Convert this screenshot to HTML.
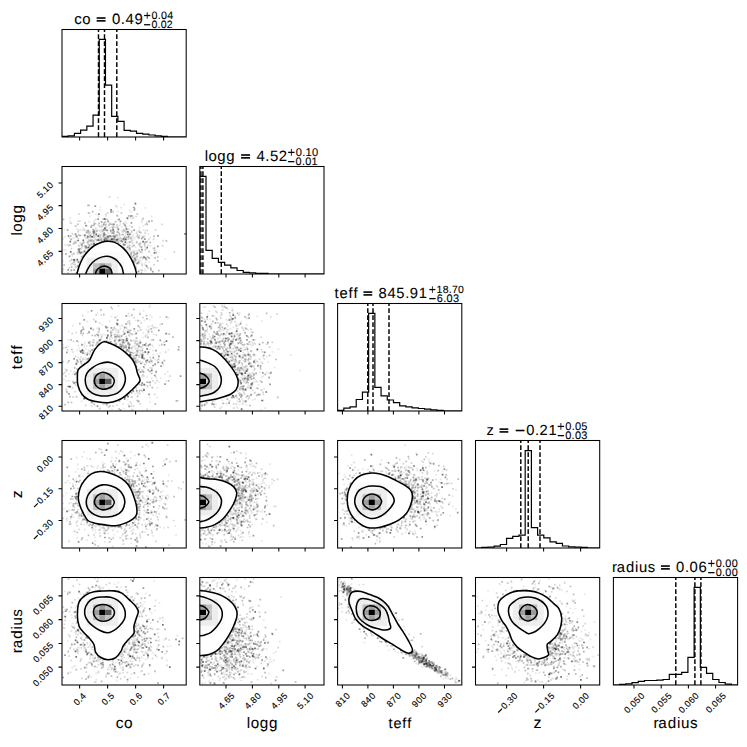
<!DOCTYPE html><html><head><meta charset="utf-8"><style>html,body{margin:0;padding:0;background:#fff}svg{display:block}text{font-family:"Liberation Sans",sans-serif;text-rendering:geometricPrecision}</style></head><body>
<svg width="747" height="747" viewBox="0 0 747 747">
<rect width="747" height="747" fill="#fff"/>
<path stroke="#000" stroke-opacity="0.1" stroke-width="1.7" stroke-linecap="square" d="M125.2 222.1h0M125.1 230.6h0M79.2 250.3h0M88.8 239.3h0M119.9 225.1h0M92.0 241.5h0M102.1 224.5h0M110.6 231.6h0M120.2 224.2h0M98.5 238.5h0M126.3 229.6h0M145.5 207.8h0M83.1 228.0h0M107.6 240.5h0M99.8 230.4h0M143.7 235.9h0M133.4 251.7h0M110.9 239.0h0M81.0 253.0h0M126.2 233.8h0M80.7 249.0h0M104.4 234.4h0M121.4 230.5h0M142.2 249.2h0M97.7 230.1h0M137.5 251.1h0M104.3 240.7h0M81.5 230.3h0M98.8 216.6h0M108.4 232.8h0M114.7 238.2h0M90.8 227.2h0M110.3 228.2h0M109.5 227.5h0M102.6 231.3h0M137.8 238.0h0M150.2 237.7h0M77.0 260.8h0M118.3 238.1h0M101.2 238.8h0M113.6 231.3h0M63.0 261.1h0M103.5 236.8h0M80.1 235.4h0M118.5 237.4h0M118.2 230.3h0M108.3 233.4h0M105.6 241.1h0M100.2 207.0h0M73.5 237.8h0M115.2 227.2h0M125.4 235.9h0M116.9 231.8h0M94.2 220.9h0M128.7 251.7h0M124.6 224.7h0M117.8 243.5h0M101.1 238.9h0M83.9 254.0h0M139.5 236.4h0M84.7 247.8h0M64.6 236.9h0M77.9 252.0h0M89.1 221.7h0M127.3 243.0h0M106.2 237.7h0M127.3 233.9h0M151.7 216.4h0M119.0 233.9h0M96.0 214.4h0M113.3 231.8h0M103.8 223.4h0M102.6 235.3h0M109.7 238.8h0M96.7 243.3h0M117.2 236.7h0M91.2 248.4h0M131.4 230.3h0M130.0 238.5h0M126.9 250.3h0M93.4 244.9h0M135.8 258.6h0M111.7 233.3h0M136.3 251.1h0M125.6 233.5h0M87.8 237.1h0M101.6 242.0h0M102.2 233.9h0M101.3 240.9h0M128.5 234.2h0M64.6 244.7h0M80.6 259.0h0M129.6 245.2h0M106.1 216.2h0M94.3 233.1h0M114.0 239.7h0M152.8 248.6h0M89.8 216.2h0M119.0 245.0h0M127.9 245.2h0M98.8 236.8h0M118.0 197.5h0M111.9 227.3h0M85.1 223.1h0M165.2 259.0h0M124.1 204.6h0M86.2 233.2h0M70.0 221.0h0M122.4 241.3h0M103.4 240.4h0M149.6 252.2h0M110.7 237.3h0M137.9 264.2h0M134.7 238.7h0M141.7 246.1h0M146.9 222.3h0M128.1 237.8h0M104.3 241.4h0M73.3 234.6h0M118.2 216.0h0M94.2 237.2h0M137.1 231.8h0M77.5 224.6h0M117.4 228.1h0M116.2 227.6h0M96.0 242.2h0M74.6 262.7h0M129.1 229.0h0M144.5 264.1h0M115.6 239.5h0M100.5 232.5h0M77.8 221.1h0M138.2 263.2h0M124.8 240.7h0M93.9 243.1h0M151.0 270.2h0M72.3 256.0h0M140.0 269.7h0M129.5 225.8h0M134.0 259.9h0M115.2 221.7h0M66.1 249.9h0M77.5 252.0h0M128.9 233.5h0M132.5 239.0h0M113.4 223.9h0M115.1 236.6h0M145.3 271.0h0M144.8 235.9h0M68.9 244.4h0M99.9 236.4h0M123.7 246.0h0M123.2 232.5h0M133.0 240.9h0M123.5 229.8h0M139.2 271.0h0M149.1 262.0h0M69.6 217.8h0M92.3 244.3h0M115.5 205.3h0M79.0 263.0h0M105.3 238.9h0M107.4 236.1h0M99.2 225.9h0M156.5 252.3h0M132.1 246.3h0M75.7 237.0h0M145.3 231.0h0M98.3 225.1h0M88.0 244.9h0M67.3 245.4h0M68.7 236.6h0M99.5 237.4h0M129.8 244.7h0M144.7 269.3h0M77.1 237.2h0M86.1 249.6h0M145.2 249.9h0M123.4 245.3h0M91.5 226.3h0M96.0 237.8h0M98.5 234.1h0M139.8 260.4h0M136.9 255.2h0M85.1 230.7h0M126.1 233.0h0M140.7 243.0h0M96.9 239.8h0M136.4 236.8h0M148.4 233.8h0M77.2 229.2h0M90.7 241.8h0M132.3 236.4h0M84.6 246.1h0M73.0 243.9h0M77.6 254.1h0M151.5 255.4h0M102.8 229.9h0M141.7 222.5h0M112.2 240.2h0M64.1 249.9h0M129.7 210.3h0M119.7 236.7h0M82.4 235.3h0M140.7 261.4h0M110.9 230.1h0M66.5 245.2h0M131.7 218.6h0M121.0 207.7h0M114.7 241.7h0M83.8 242.2h0M126.4 243.5h0M90.4 240.3h0M88.7 232.6h0M139.8 227.6h0M143.8 229.8h0M85.9 238.7h0M95.9 236.3h0M91.1 241.3h0M131.4 254.6h0M73.7 262.5h0M119.8 237.8h0M105.6 239.9h0M63.0 239.1h0M100.9 226.5h0M121.0 239.2h0M127.5 231.9h0M87.3 251.4h0M89.2 241.2h0M106.4 238.4h0M99.2 237.8h0M100.2 230.8h0M79.2 261.5h0M80.3 229.4h0M110.6 236.7h0M148.6 258.1h0M135.6 247.1h0M111.6 240.0h0M64.0 273.1h0M143.0 226.0h0M88.6 231.4h0M71.7 238.9h0M79.6 248.3h0M71.6 223.5h0M150.5 245.9h0M100.4 209.8h0M101.6 227.0h0M98.7 235.3h0M106.2 223.5h0M123.1 243.8h0M64.3 229.4h0M135.9 254.0h0M106.5 230.7h0M98.6 238.4h0M127.9 250.0h0M133.5 236.6h0M88.2 232.0h0M142.9 241.9h0M121.8 226.9h0M90.3 212.8h0M133.2 234.6h0M126.3 227.7h0M106.9 237.5h0M89.1 236.9h0M113.0 236.5h0M69.8 238.2h0M131.5 251.6h0M117.9 211.3h0M96.3 232.5h0M126.6 251.1h0M154.6 250.1h0M98.4 224.8h0M94.0 230.4h0M141.2 246.9h0M118.5 228.7h0M99.0 240.5h0M103.3 233.6h0M126.6 223.3h0M132.7 251.2h0M63.1 270.8h0M131.1 212.0h0M130.6 252.0h0M127.8 219.6h0M68.9 244.9h0M77.4 253.7h0M74.7 265.2h0M125.9 239.3h0M99.1 235.8h0M71.0 264.9h0M139.9 234.8h0M145.7 262.2h0M136.6 241.6h0M83.6 255.6h0M90.0 242.3h0M84.9 249.3h0"/>
<path stroke="#000" stroke-opacity="0.17" stroke-width="1.7" stroke-linecap="square" d="M132.3 243.1h0M126.0 226.8h0M93.8 237.1h0M112.3 236.6h0M71.0 271.0h0M115.3 240.8h0M135.0 262.3h0M153.6 239.4h0M95.8 219.5h0M138.1 237.0h0M125.3 250.1h0M132.0 231.7h0M104.1 223.0h0M144.8 245.2h0M130.4 242.0h0M89.7 245.8h0M86.7 225.8h0M85.0 222.9h0M142.0 252.4h0M127.8 229.6h0M84.5 246.1h0M134.1 251.4h0M146.6 223.5h0M154.2 264.8h0M88.4 240.5h0M136.5 263.5h0M90.2 237.6h0M106.5 227.2h0M117.5 226.3h0M85.9 246.5h0M145.1 246.7h0M91.3 233.6h0M125.1 244.8h0M78.4 238.5h0M69.3 267.7h0M95.6 223.6h0M74.6 259.4h0M80.0 252.8h0M131.8 259.3h0M77.7 260.5h0M118.8 240.4h0M79.5 251.8h0M143.7 256.6h0M116.9 224.8h0M107.7 212.9h0M148.7 251.5h0M78.5 267.7h0M128.2 247.2h0M121.0 238.2h0M136.2 216.5h0M148.0 268.2h0M79.8 221.2h0M136.0 266.7h0M138.8 261.1h0M163.1 240.7h0M79.4 252.8h0M174.4 251.8h0M133.5 217.9h0M120.0 243.6h0M95.2 239.4h0M141.9 220.5h0M78.7 261.9h0M103.5 225.3h0M145.1 233.2h0M113.2 240.3h0M75.2 267.3h0M98.3 239.4h0M130.4 217.1h0M93.3 244.0h0M74.3 261.6h0M140.0 246.3h0M104.3 228.9h0M138.7 244.4h0M141.6 257.1h0M134.5 255.2h0M78.6 230.5h0M107.4 230.6h0M148.8 239.7h0M134.2 257.6h0M70.4 245.1h0M88.4 236.6h0M145.3 224.6h0M101.6 230.3h0M125.7 231.8h0M79.1 264.9h0M71.4 248.7h0M103.7 230.4h0M113.1 236.1h0M107.1 238.5h0M145.9 258.1h0M128.8 247.8h0M115.8 221.9h0M119.1 239.2h0M139.3 244.7h0M85.2 246.3h0M101.5 238.2h0M143.8 237.5h0M88.9 240.7h0M105.9 214.3h0M117.0 238.6h0M108.3 236.1h0M117.5 227.4h0M104.5 241.0h0M111.0 239.6h0M103.0 219.1h0M129.5 246.0h0M78.9 213.8h0M142.5 258.7h0M145.5 249.4h0M118.9 232.5h0M129.5 235.2h0M84.0 242.8h0M156.4 252.8h0M105.9 229.9h0M67.9 272.9h0M93.7 231.9h0M137.6 259.0h0M148.0 245.5h0M72.2 233.5h0M145.1 242.2h0M128.5 239.1h0M106.9 230.3h0M136.2 257.2h0M76.4 241.3h0M69.0 245.7h0M131.1 255.7h0M119.0 241.2h0M131.3 238.8h0M72.6 263.1h0M138.8 230.5h0M75.8 235.5h0M75.9 267.0h0M78.5 245.4h0M131.4 240.8h0M75.3 264.5h0M107.2 236.7h0M124.0 238.0h0M126.5 240.0h0M137.0 242.1h0M99.5 234.8h0M139.3 263.2h0M70.6 222.9h0M128.4 236.8h0M101.8 241.1h0M132.7 246.3h0M93.5 237.4h0M118.3 244.2h0M119.7 241.5h0M112.1 231.1h0M78.8 250.7h0M80.3 243.0h0M86.8 230.7h0M118.3 241.6h0M88.7 233.7h0M78.3 252.3h0M119.3 233.3h0M147.2 230.3h0M76.1 267.1h0M126.2 231.6h0M124.7 239.7h0M116.7 206.7h0M134.2 258.6h0M82.8 256.9h0M70.2 260.8h0M142.2 265.7h0M79.1 245.8h0M128.7 237.2h0M108.2 240.4h0M113.9 239.0h0M112.9 211.0h0M121.2 240.8h0M117.6 220.0h0M111.9 231.1h0M106.1 239.3h0M121.5 234.7h0M78.1 224.2h0M88.3 231.8h0M155.5 229.9h0M101.1 221.8h0M117.7 226.2h0M146.6 259.8h0M81.7 247.8h0M88.2 249.6h0M109.6 223.0h0M108.1 239.2h0M110.0 236.1h0M104.7 235.5h0M98.7 214.3h0M100.6 235.1h0M84.7 236.9h0M82.5 252.3h0M154.8 250.4h0M99.6 226.5h0M90.1 232.1h0M128.4 234.5h0M98.0 239.8h0M136.6 242.8h0M109.5 196.9h0M113.2 212.4h0M136.5 233.3h0M110.1 235.6h0M92.3 240.0h0M93.8 234.0h0M113.1 232.7h0M119.5 235.1h0M104.2 234.6h0M102.8 231.3h0M89.8 234.7h0M129.0 254.7h0M101.8 226.4h0M84.0 229.6h0M72.1 254.4h0M74.5 241.5h0M147.1 241.6h0M92.0 236.6h0M63.3 268.7h0M162.6 245.9h0M83.3 255.7h0M78.0 231.9h0M129.9 255.6h0M104.1 222.8h0M141.9 264.0h0M124.0 231.1h0M114.9 242.1h0M131.4 232.2h0M100.4 236.8h0M111.0 231.5h0M73.1 264.0h0M161.8 224.4h0M122.6 231.4h0M124.3 229.7h0M113.7 226.7h0M95.9 228.4h0M93.9 240.3h0M140.2 257.8h0M86.9 247.5h0M72.0 263.5h0"/>
<path stroke="#000" stroke-opacity="0.27" stroke-width="1.7" stroke-linecap="square" d="M107.2 230.2h0M157.8 257.0h0M116.0 235.2h0M141.5 247.3h0M74.2 243.3h0M142.6 236.8h0M107.0 239.9h0M130.9 237.5h0M78.6 235.0h0M114.0 231.2h0M112.8 227.7h0M99.1 223.4h0M132.1 227.0h0M87.4 242.1h0M130.1 248.1h0M106.6 239.2h0M155.1 257.8h0M84.7 251.3h0M88.0 242.9h0M101.6 239.8h0M154.0 236.4h0M141.5 273.1h0M124.7 244.3h0M140.4 251.9h0M130.0 249.7h0M87.5 247.7h0M132.3 257.0h0M147.3 224.5h0M134.0 245.4h0M92.0 247.0h0M139.6 232.2h0M121.4 213.0h0M134.1 253.1h0M140.8 232.5h0M125.1 239.7h0M157.6 260.9h0M73.9 253.6h0M109.1 225.1h0M112.6 239.2h0M158.8 270.7h0M74.6 260.7h0M166.4 240.8h0M129.7 248.3h0M150.7 268.2h0M78.3 262.2h0M100.4 239.5h0M144.6 243.7h0M137.1 263.5h0M104.8 229.9h0M139.2 250.2h0M151.0 269.7h0M64.1 265.1h0M94.3 223.3h0M133.7 255.4h0M71.0 239.5h0M114.0 233.0h0M82.6 243.4h0M91.1 226.9h0M103.6 236.7h0M117.9 239.7h0M123.1 234.6h0M93.0 229.7h0M107.2 219.5h0M132.6 216.0h0M109.1 236.0h0M103.8 224.5h0M83.3 241.0h0M112.3 233.1h0M147.8 257.0h0M76.4 272.8h0M145.9 259.2h0M71.7 267.2h0M71.8 259.7h0M79.2 250.2h0M115.3 241.6h0M113.8 235.4h0M105.4 219.3h0M139.1 237.6h0M149.3 258.0h0M85.9 246.2h0M132.7 256.6h0M81.6 256.7h0M110.4 235.9h0M63.5 219.4h0M115.1 239.3h0M87.4 237.9h0M104.9 241.2h0M126.6 237.3h0M128.8 215.8h0M96.4 235.1h0M117.7 239.7h0M142.0 270.3h0M125.5 249.6h0M110.9 236.5h0M137.6 235.3h0M116.8 241.5h0M124.6 237.2h0M105.6 234.7h0M146.3 242.2h0M128.3 232.1h0M94.2 224.5h0M89.1 205.4h0M127.3 247.4h0M92.1 225.5h0M143.0 218.6h0M80.0 249.0h0M123.2 239.3h0M123.6 223.7h0M96.8 231.2h0M88.0 205.4h0M94.0 243.9h0M79.2 249.8h0M105.7 224.8h0M128.7 236.5h0M117.1 215.6h0M135.8 254.0h0M99.6 240.3h0M112.4 224.6h0M110.4 240.2h0M93.8 235.4h0M101.8 222.0h0M89.4 244.9h0M131.5 252.8h0M103.7 241.6h0M134.8 208.5h0M91.3 240.2h0M94.6 231.9h0M71.4 269.8h0M140.1 243.6h0M117.0 235.2h0M110.6 230.5h0M88.6 213.2h0M145.5 257.6h0M117.6 232.1h0M129.8 248.9h0M110.7 224.2h0M114.1 239.0h0M92.8 211.7h0M121.2 240.6h0M85.9 252.7h0M105.3 222.0h0M129.4 242.2h0M150.2 242.6h0M90.6 240.9h0M137.3 256.3h0M151.9 220.9h0M154.4 248.2h0M88.3 230.3h0M97.2 240.2h0M91.4 244.4h0M93.3 241.3h0M115.5 236.7h0M82.2 245.6h0M70.8 236.0h0M130.9 253.8h0M86.8 232.3h0M107.1 240.8h0M75.6 226.1h0M93.8 225.5h0M112.8 241.1h0M80.1 235.5h0M137.3 214.0h0M103.9 229.6h0M136.2 268.5h0M85.5 235.5h0M113.8 238.0h0M75.6 242.8h0"/>
<path stroke="#000" stroke-opacity="0.4" stroke-width="1.7" stroke-linecap="square" d="M127.6 234.5h0M137.9 262.5h0M105.4 237.8h0M94.4 230.5h0M131.4 222.9h0M123.7 248.1h0M104.2 233.1h0M83.3 240.2h0M141.9 249.9h0M86.1 247.7h0M85.9 225.6h0M118.0 243.4h0M134.3 210.0h0M137.3 253.4h0M120.4 221.3h0M141.8 238.5h0M103.9 235.0h0M108.5 237.3h0M104.3 239.2h0M98.1 219.1h0M114.5 236.7h0M138.4 271.6h0M133.4 261.7h0M79.5 251.9h0M108.2 221.4h0M125.8 239.1h0M90.5 235.8h0M137.4 253.1h0M93.2 231.9h0M95.3 206.1h0M133.7 207.5h0M119.2 219.3h0M69.5 256.4h0M84.2 251.5h0M122.4 241.7h0M107.2 241.1h0M135.7 260.4h0M93.9 233.0h0M107.7 236.7h0M146.8 266.5h0M130.1 234.2h0M127.7 231.9h0M68.5 235.8h0M131.0 215.8h0M81.5 252.3h0M133.9 261.3h0M74.0 270.0h0M76.7 236.4h0M133.8 261.3h0M149.1 221.3h0M125.1 225.4h0M96.2 234.2h0M98.4 240.2h0M144.8 239.1h0M126.5 228.8h0M77.7 266.1h0M123.7 244.6h0M87.7 236.3h0M111.1 211.8h0M146.3 265.5h0M84.6 235.1h0M113.9 224.3h0M80.4 253.3h0M81.5 244.6h0M152.7 271.7h0M157.8 246.4h0M98.9 214.2h0M68.2 269.9h0M123.4 238.9h0M118.4 229.3h0M75.5 234.1h0M158.0 235.8h0M134.2 230.2h0M78.5 249.2h0M67.6 230.0h0M65.9 254.0h0M94.2 243.7h0M134.9 258.7h0"/>
<path stroke="#000" stroke-opacity="0.55" stroke-width="1.7" stroke-linecap="square" d="M135.4 203.7h0M104.6 240.4h0M144.0 257.3h0M125.4 242.2h0M111.9 239.2h0M70.3 241.6h0M77.2 259.5h0M116.9 239.9h0M78.2 240.5h0M147.2 247.7h0M154.5 252.9h0M113.1 229.7h0M73.9 259.8h0M111.1 209.9h0M127.4 218.1h0M104.5 218.9h0M70.7 251.8h0M92.1 236.8h0M88.7 247.4h0M105.0 228.1h0M98.2 236.2h0M185.1 233.9h0M143.1 241.6h0"/>
<path fill="#fff" d="M76.88 274C77.26 272.69 78.19 268.77 79.14 266.16C80.1 263.55 81.17 260.79 82.62 258.33C84.07 255.86 85.81 253.54 87.84 251.37C89.88 249.19 92.49 246.81 94.81 245.27C97.13 243.74 99.59 242.81 101.77 242.14C103.94 241.47 105.83 241.27 107.86 241.27C109.89 241.27 111.77 241.33 113.95 242.14C116.12 242.95 118.73 244.46 120.91 246.14C123.09 247.83 125.26 250.06 127 252.24C128.74 254.41 130.05 256.73 131.35 259.2C132.66 261.66 133.96 264.56 134.83 267.03C135.7 269.5 136.28 272.84 136.57 274Z"/>
<clipPath id="c10"><path d="M76.88 274C77.26 272.69 78.19 268.77 79.14 266.16C80.1 263.55 81.17 260.79 82.62 258.33C84.07 255.86 85.81 253.54 87.84 251.37C89.88 249.19 92.49 246.81 94.81 245.27C97.13 243.74 99.59 242.81 101.77 242.14C103.94 241.47 105.83 241.27 107.86 241.27C109.89 241.27 111.77 241.33 113.95 242.14C116.12 242.95 118.73 244.46 120.91 246.14C123.09 247.83 125.26 250.06 127 252.24C128.74 254.41 130.05 256.73 131.35 259.2C132.66 261.66 133.96 264.56 134.83 267.03C135.7 269.5 136.28 272.84 136.57 274Z"/></clipPath>
<g clip-path="url(#c10)"><rect x="80.63" y="252.5" width="6.26" height="5.42" fill="rgb(251,251,251)"/><rect x="80.63" y="257.88" width="6.26" height="5.42" fill="rgb(251,251,251)"/><rect x="80.63" y="263.25" width="6.26" height="5.42" fill="rgb(251,251,251)"/><rect x="80.63" y="268.62" width="6.26" height="5.42" fill="rgb(251,251,251)"/><rect x="86.84" y="252.5" width="6.26" height="5.42" fill="rgb(251,251,251)"/><rect x="86.84" y="257.88" width="6.26" height="5.42" fill="rgb(237,237,237)"/><rect x="86.84" y="263.25" width="6.26" height="5.42" fill="rgb(237,237,237)"/><rect x="86.84" y="268.62" width="6.26" height="5.42" fill="rgb(237,237,237)"/><rect x="93.05" y="252.5" width="6.26" height="5.42" fill="rgb(251,251,251)"/><rect x="93.05" y="257.88" width="6.26" height="5.42" fill="rgb(237,237,237)"/><rect x="93.05" y="263.25" width="6.26" height="5.42" fill="rgb(191,191,191)"/><rect x="93.05" y="268.62" width="6.26" height="5.42" fill="rgb(158,158,158)"/><rect x="99.26" y="252.5" width="6.26" height="5.42" fill="rgb(251,251,251)"/><rect x="99.26" y="257.88" width="6.26" height="5.42" fill="rgb(237,237,237)"/><rect x="99.26" y="263.25" width="6.26" height="5.42" fill="rgb(158,158,158)"/><rect x="99.26" y="268.62" width="6.26" height="5.42" fill="rgb(0,0,0)"/><rect x="105.47" y="252.5" width="6.26" height="5.42" fill="rgb(251,251,251)"/><rect x="105.47" y="257.88" width="6.26" height="5.42" fill="rgb(237,237,237)"/><rect x="105.47" y="263.25" width="6.26" height="5.42" fill="rgb(191,191,191)"/><rect x="105.47" y="268.62" width="6.26" height="5.42" fill="rgb(102,102,102)"/><rect x="111.68" y="252.5" width="6.26" height="5.42" fill="rgb(251,251,251)"/><rect x="111.68" y="257.88" width="6.26" height="5.42" fill="rgb(237,237,237)"/><rect x="111.68" y="263.25" width="6.26" height="5.42" fill="rgb(237,237,237)"/><rect x="111.68" y="268.62" width="6.26" height="5.42" fill="rgb(237,237,237)"/><rect x="117.89" y="252.5" width="6.26" height="5.42" fill="rgb(251,251,251)"/><rect x="117.89" y="257.88" width="6.26" height="5.42" fill="rgb(251,251,251)"/><rect x="117.89" y="263.25" width="6.26" height="5.42" fill="rgb(251,251,251)"/><rect x="117.89" y="268.62" width="6.26" height="5.42" fill="rgb(251,251,251)"/></g>
<path fill="none" stroke="#000" stroke-width="1.55" d="M76.88 274C77.26 272.69 78.19 268.77 79.14 266.16C80.1 263.55 81.17 260.79 82.62 258.33C84.07 255.86 85.81 253.54 87.84 251.37C89.88 249.19 92.49 246.81 94.81 245.27C97.13 243.74 99.59 242.81 101.77 242.14C103.94 241.47 105.83 241.27 107.86 241.27C109.89 241.27 111.77 241.33 113.95 242.14C116.12 242.95 118.73 244.46 120.91 246.14C123.09 247.83 125.26 250.06 127 252.24C128.74 254.41 130.05 256.73 131.35 259.2C132.66 261.66 133.96 264.56 134.83 267.03C135.7 269.5 136.28 272.84 136.57 274"/>
<path fill="none" stroke="#000" stroke-width="1.55" d="M85.58 274C85.96 273.13 86.74 270.66 87.84 268.77C88.95 266.88 90.46 264.42 92.2 262.68C93.94 260.94 95.97 259.4 98.29 258.33C100.61 257.25 103.8 256.38 106.12 256.24C108.44 256.09 110.32 256.67 112.21 257.46C114.09 258.24 115.83 259.34 117.43 260.94C119.02 262.53 120.77 264.85 121.78 267.03C122.8 269.21 123.23 272.84 123.52 274"/>
<path fill="none" stroke="#000" stroke-width="1.55" d="M95.33 274C95.45 273.65 96.08 271.17 96.55 270.51C97.02 269.85 99.33 267.81 100.03 267.38C100.72 266.94 102.72 266.19 103.51 266.16C104.29 266.12 107.11 266.68 107.86 267.03C108.61 267.38 110.56 268.94 110.99 269.64C111.43 270.34 112.09 273.56 112.21 274"/>
<path stroke="#000" stroke-opacity="0.1" stroke-width="1.7" stroke-linecap="square" d="M142.6 369.9h0M74.4 371.5h0M119.0 346.5h0M124.3 345.0h0M68.8 380.8h0M104.7 403.0h0M141.7 329.9h0M116.6 345.3h0M137.0 392.0h0M109.6 343.3h0M143.1 369.9h0M89.3 331.7h0M105.2 341.6h0M125.2 351.7h0M136.0 358.1h0M143.6 310.6h0M126.0 339.4h0M122.5 335.0h0M107.8 335.1h0M112.7 402.7h0M132.9 340.5h0M68.9 331.5h0M146.6 363.5h0M160.7 378.1h0M118.8 339.9h0M134.6 331.1h0M114.5 402.4h0M149.5 397.6h0M150.0 402.0h0M138.2 392.0h0M157.0 397.3h0M151.5 362.4h0M130.0 330.9h0M97.1 328.4h0M126.5 352.3h0M76.7 376.9h0M153.1 354.5h0M147.3 348.4h0M163.7 365.2h0M137.0 338.9h0M137.6 393.5h0M119.6 401.7h0M143.8 358.8h0M127.2 332.9h0M143.0 348.5h0M122.2 342.8h0M99.1 341.3h0M93.9 341.8h0M131.5 403.0h0M66.4 380.9h0M130.0 325.4h0M77.1 396.8h0M116.2 343.5h0M160.2 316.9h0M122.2 335.3h0M139.7 355.3h0M159.3 382.1h0M107.2 339.3h0M140.6 363.1h0M120.1 338.1h0M132.7 349.5h0M148.9 362.2h0M142.3 347.3h0M73.1 382.6h0M128.5 404.5h0M88.4 342.4h0M84.3 346.9h0M84.9 342.7h0M97.6 313.4h0M140.6 371.6h0M78.3 357.4h0M141.4 357.5h0M144.7 368.4h0M89.6 342.2h0M153.9 354.5h0M112.4 338.3h0M135.2 394.0h0M94.1 342.7h0M116.3 329.1h0M149.8 320.0h0M99.3 339.8h0M142.2 348.0h0M155.8 372.8h0M112.6 332.5h0M121.3 336.3h0M82.3 395.4h0M125.5 351.9h0M153.1 346.5h0M73.3 373.7h0M77.2 350.4h0M129.3 394.2h0M117.2 316.0h0M80.2 367.4h0M88.4 350.4h0M80.8 357.3h0M135.1 345.5h0M93.2 345.9h0M143.0 337.5h0M116.6 336.7h0M99.2 340.1h0M82.0 345.3h0M136.1 338.5h0M143.7 354.6h0M68.9 373.9h0M88.7 358.0h0M131.2 348.2h0M131.2 404.0h0M116.2 344.2h0M140.1 346.7h0M136.4 359.5h0M149.9 305.3h0M140.3 312.3h0M118.3 347.4h0M167.6 371.9h0M131.2 340.4h0M77.3 379.8h0M150.3 360.9h0M131.2 397.4h0M139.6 320.9h0M65.4 369.1h0M134.0 357.3h0M157.4 354.5h0M82.6 326.9h0M88.0 312.0h0M146.6 329.9h0M123.8 408.5h0M168.5 350.0h0M87.2 352.9h0M148.0 326.6h0M101.2 342.9h0M68.3 339.8h0M142.9 391.7h0M134.6 347.2h0M99.1 333.4h0M134.9 343.6h0M123.5 350.0h0M111.9 409.5h0M119.8 346.1h0M119.6 347.0h0M94.9 404.8h0M139.7 340.2h0M102.2 334.8h0M76.6 383.0h0M84.7 359.7h0M135.8 364.6h0M115.8 330.2h0M140.5 363.3h0M120.4 328.9h0M140.3 352.7h0M114.8 328.1h0M127.2 323.6h0M155.1 365.5h0M142.3 349.6h0M124.8 333.5h0M99.0 337.1h0M135.7 320.5h0M95.9 321.6h0M150.2 367.6h0M78.4 342.1h0M133.8 341.3h0M99.0 329.4h0M127.7 399.9h0M123.7 347.8h0M160.2 353.0h0M63.1 345.0h0M137.5 360.4h0M153.4 339.7h0M159.2 345.4h0M81.7 361.3h0M131.4 409.3h0M90.4 351.6h0M76.9 364.3h0M165.0 374.1h0M127.0 330.7h0M68.2 346.7h0M109.5 321.2h0M149.1 329.5h0M128.2 329.8h0M142.6 363.0h0M152.0 362.4h0M138.8 355.2h0M125.8 326.9h0M85.1 357.3h0M136.6 337.7h0M86.8 345.9h0M95.2 348.9h0M156.5 378.0h0M148.9 344.9h0M111.4 316.5h0M137.4 360.3h0M168.2 318.2h0M117.9 341.8h0M102.8 334.3h0M147.4 334.7h0M150.3 315.2h0M120.0 326.3h0M138.8 362.2h0M80.8 351.1h0M143.3 332.8h0M87.2 355.2h0M142.5 361.8h0M138.3 361.6h0M123.9 329.9h0M133.0 346.4h0M139.7 327.9h0M78.3 345.8h0M144.2 320.5h0M119.5 339.6h0M80.8 356.7h0M127.2 349.6h0M84.5 362.4h0M140.4 368.0h0M87.2 321.7h0M137.1 366.3h0M93.1 345.0h0M99.1 327.7h0M155.4 359.3h0M151.8 378.1h0M100.2 334.8h0M146.1 360.1h0M134.3 340.4h0M81.5 401.3h0M77.6 369.7h0M134.7 341.7h0M120.4 345.9h0M129.7 344.6h0M96.8 346.5h0M79.1 348.5h0M85.6 349.0h0M80.5 363.0h0M152.3 345.3h0M116.8 325.0h0M149.5 307.1h0M138.2 344.0h0M128.2 351.4h0M95.7 345.4h0M140.7 377.9h0M105.1 334.7h0M150.2 349.5h0M153.0 350.7h0M146.9 377.1h0M101.8 337.3h0M100.1 407.9h0M89.3 358.2h0M166.4 381.2h0M137.6 362.5h0M121.5 342.2h0M83.9 351.2h0M124.2 333.2h0M72.8 325.6h0M142.5 357.8h0M102.4 324.6h0M157.2 360.9h0M116.3 332.3h0M157.0 327.6h0M139.4 375.8h0M122.6 346.3h0M141.5 370.0h0M138.0 349.5h0M129.4 316.2h0M154.0 334.4h0M135.5 352.6h0M77.2 383.7h0M140.1 341.4h0M90.8 341.5h0M128.0 340.5h0M107.0 341.0h0M151.7 317.2h0M141.7 383.0h0M142.3 355.5h0M115.7 344.1h0M157.4 387.9h0M70.7 370.8h0M123.1 404.2h0M132.7 355.7h0M63.8 379.3h0M150.3 326.5h0M84.4 344.7h0M111.1 330.5h0M139.2 392.0h0M147.4 387.0h0"/>
<path stroke="#000" stroke-opacity="0.17" stroke-width="1.7" stroke-linecap="square" d="M140.1 403.8h0M155.1 327.5h0M120.8 348.0h0M134.1 355.9h0M129.0 355.4h0M134.1 317.6h0M76.0 385.4h0M76.1 363.4h0M137.8 330.9h0M65.7 376.1h0M96.2 315.2h0M134.0 358.8h0M115.1 339.4h0M119.4 401.1h0M131.0 355.6h0M147.4 353.0h0M87.2 361.2h0M126.1 336.5h0M101.8 336.5h0M121.6 347.3h0M93.8 319.7h0M118.5 340.3h0M153.3 327.9h0M132.5 410.1h0M135.9 340.9h0M73.6 341.3h0M108.2 334.9h0M136.0 355.2h0M118.3 330.4h0M126.5 347.2h0M137.5 341.6h0M86.5 359.1h0M141.3 322.9h0M146.0 346.2h0M148.5 332.5h0M76.1 332.5h0M129.5 335.9h0M89.8 359.4h0M87.6 333.3h0M63.5 348.1h0M140.2 350.4h0M75.5 356.7h0M97.4 341.6h0M138.9 357.2h0M128.8 334.8h0M143.7 388.8h0M145.0 352.0h0M151.7 368.2h0M143.0 352.9h0M144.0 372.2h0M63.4 361.7h0M150.7 359.6h0M107.0 405.3h0M131.3 348.3h0M94.8 401.7h0M72.5 387.8h0M153.0 380.8h0M145.4 385.0h0M142.6 354.9h0M99.5 323.0h0M66.8 352.5h0M176.2 400.9h0M121.6 339.7h0M93.4 339.8h0M133.5 360.3h0M108.6 407.2h0M82.5 335.3h0M148.5 370.5h0M160.3 324.5h0M143.4 357.5h0M90.2 343.0h0M118.5 305.9h0M128.6 313.5h0M133.6 353.2h0M131.9 347.6h0M164.7 342.5h0M139.3 356.2h0M76.9 368.9h0M150.2 344.8h0M79.7 359.3h0M90.4 352.0h0M81.6 351.9h0M125.0 340.2h0M130.7 340.0h0M123.3 331.5h0M72.6 381.5h0M133.5 406.1h0M114.1 328.4h0M111.2 336.6h0M111.4 334.0h0M93.1 402.8h0M132.7 357.8h0M136.2 388.1h0M129.6 344.1h0M130.7 352.2h0M119.4 335.4h0M109.9 339.4h0M154.7 394.3h0M83.6 329.0h0M147.6 353.9h0M73.1 397.1h0M85.7 405.3h0M134.0 359.0h0M150.2 385.2h0M118.2 332.5h0M89.3 332.9h0M93.9 340.2h0M126.5 328.1h0M76.7 382.2h0M130.2 402.0h0M118.5 335.8h0M99.6 408.8h0M156.4 334.9h0M148.5 346.2h0M101.2 315.0h0M137.8 360.4h0M107.6 331.0h0M122.4 325.6h0M127.8 321.6h0M148.0 353.8h0M83.0 358.7h0M77.0 359.8h0M91.6 406.0h0M164.2 342.4h0M129.4 320.9h0M99.3 328.9h0M137.0 345.3h0M115.8 339.2h0M124.5 346.7h0M80.4 359.3h0M141.2 354.2h0M111.5 335.5h0M145.8 335.7h0M65.0 372.3h0M140.0 361.5h0M115.0 343.0h0M150.2 357.3h0M130.9 330.1h0M139.6 393.7h0M125.0 333.2h0M148.6 382.3h0M131.2 341.2h0M165.6 333.6h0M98.4 332.2h0M83.9 353.0h0M110.5 336.9h0M81.4 364.0h0M66.3 389.4h0M90.1 351.0h0M99.3 330.6h0M118.6 332.0h0M81.4 362.7h0M84.9 353.7h0M63.6 373.8h0M140.3 330.2h0M170.0 376.2h0M142.5 375.8h0M67.7 362.6h0M83.2 351.6h0M135.5 334.2h0M67.6 349.8h0M157.8 362.8h0M82.6 315.7h0M103.7 404.4h0M136.6 338.2h0M87.8 358.9h0M135.6 357.6h0M121.0 340.1h0M141.0 346.9h0M112.4 308.8h0M89.3 341.8h0M137.9 350.6h0M72.7 352.0h0M131.2 406.2h0M144.0 376.0h0M113.2 406.2h0M117.0 405.0h0M96.6 344.9h0M145.6 336.9h0M135.3 343.0h0M165.6 352.1h0M162.6 363.5h0M94.0 401.3h0M143.0 317.6h0M72.3 333.5h0M152.5 325.6h0M155.3 383.0h0M87.9 353.3h0M141.9 385.5h0M135.9 348.7h0M138.2 347.6h0M83.1 327.7h0M132.1 396.8h0M89.7 354.1h0M96.5 344.9h0M137.3 353.7h0M139.1 369.6h0M104.1 340.9h0M155.6 376.4h0M94.1 404.4h0M130.5 352.4h0M139.0 343.8h0M98.1 341.7h0M84.2 398.6h0M114.2 327.7h0M147.2 409.3h0M92.9 342.5h0M120.7 347.3h0M147.6 385.8h0M129.5 330.6h0M76.1 396.6h0M151.4 340.0h0M96.4 344.4h0M83.0 359.4h0M139.3 327.0h0M157.0 380.7h0M135.2 359.3h0M75.0 391.7h0M142.9 374.8h0M115.4 336.3h0M136.8 362.7h0"/>
<path stroke="#000" stroke-opacity="0.27" stroke-width="1.7" stroke-linecap="square" d="M106.8 403.7h0M142.9 345.1h0M103.7 314.7h0M106.3 404.3h0M73.8 382.3h0M129.7 344.6h0M169.2 334.1h0M100.9 309.8h0M139.8 314.2h0M79.8 323.6h0M144.7 364.5h0M71.8 349.5h0M115.3 317.5h0M133.8 358.7h0M132.0 352.7h0M128.9 351.1h0M121.5 336.1h0M147.9 337.4h0M89.0 331.9h0M66.7 370.3h0M137.3 400.6h0M142.1 354.8h0M137.0 355.1h0M123.1 345.7h0M82.0 330.1h0M111.2 335.3h0M95.7 321.6h0M98.6 344.0h0M80.7 361.4h0M145.9 361.2h0M133.3 391.5h0M146.3 362.0h0M77.2 360.7h0M78.0 361.5h0M99.6 340.1h0M129.3 347.9h0M150.1 344.1h0M168.7 380.8h0M146.5 315.6h0M164.4 360.6h0M148.4 345.2h0M132.4 334.4h0M119.1 346.8h0M151.8 331.6h0M80.2 350.8h0M117.2 335.0h0M95.1 335.7h0M69.8 387.0h0M77.4 362.3h0M158.5 362.2h0M97.3 342.9h0M146.9 318.9h0M138.2 325.8h0M130.6 333.5h0M67.3 392.4h0M139.4 384.5h0M88.8 343.2h0M81.0 333.3h0M178.8 346.9h0M96.9 334.5h0M137.9 320.6h0M68.9 360.9h0M126.4 351.1h0M151.7 373.5h0M84.7 363.9h0M155.3 404.2h0M161.7 344.7h0M126.1 347.3h0M139.7 390.6h0M112.8 330.0h0M93.2 329.6h0M76.3 372.5h0M119.0 409.0h0M128.9 346.1h0M126.0 345.7h0M83.2 333.3h0M153.2 340.0h0M135.8 366.1h0M135.9 362.1h0M142.5 371.4h0M126.1 347.9h0M116.2 344.2h0M117.1 337.0h0M145.9 343.5h0M71.5 402.5h0M122.0 344.9h0M143.0 371.8h0M68.3 402.3h0M108.9 341.8h0M131.5 392.9h0M133.8 309.4h0M107.5 327.3h0M144.4 344.8h0M136.9 344.0h0M151.1 328.9h0M114.7 334.6h0M147.2 382.2h0M74.7 367.8h0M136.8 350.8h0M148.5 331.4h0M110.0 406.0h0M116.1 336.9h0M83.3 329.5h0M65.0 404.6h0M123.4 348.5h0M66.1 347.5h0M135.5 360.9h0M142.3 350.7h0M83.9 398.6h0M126.4 341.3h0M92.3 335.5h0M66.7 391.5h0M92.4 345.3h0M129.2 332.5h0M137.5 351.8h0M111.3 307.4h0M125.4 347.1h0M114.8 337.0h0M94.4 349.0h0M131.8 315.1h0M158.4 359.3h0M71.2 339.8h0M100.8 339.3h0M129.5 355.2h0M144.2 358.7h0M162.2 323.8h0M151.7 361.1h0M124.4 347.7h0M88.1 358.8h0M124.4 342.7h0M90.2 345.3h0M107.8 330.6h0M152.3 387.7h0M66.8 352.4h0M119.0 336.9h0M138.0 370.1h0M141.7 390.5h0M172.9 337.2h0M148.0 369.6h0M75.6 382.5h0M69.9 396.6h0M129.6 323.3h0M137.6 396.3h0M177.4 400.9h0M149.6 361.9h0M114.5 345.3h0"/>
<path stroke="#000" stroke-opacity="0.4" stroke-width="1.7" stroke-linecap="square" d="M97.5 406.1h0M136.3 333.4h0M153.1 365.5h0M144.9 344.9h0M155.1 364.2h0M126.3 315.8h0M158.8 330.4h0M107.6 336.5h0M116.8 323.3h0M156.0 350.7h0M129.9 355.1h0M106.3 327.6h0M114.7 401.2h0M92.2 349.9h0M162.4 362.6h0M141.5 385.0h0M82.0 344.6h0M161.1 366.2h0M136.2 355.5h0M107.7 335.6h0M142.3 358.1h0M91.6 402.3h0M84.3 319.9h0M154.7 375.5h0M180.6 376.1h0M128.1 343.8h0M129.1 347.6h0M77.0 341.0h0M81.0 331.4h0M75.8 373.8h0M140.4 372.0h0M150.1 382.4h0M120.6 410.0h0M142.3 383.1h0M110.9 342.0h0M74.3 383.5h0M123.3 340.9h0M164.5 344.8h0M150.0 371.5h0M123.2 339.8h0M82.4 349.8h0M123.0 342.6h0M136.7 390.6h0M124.3 334.1h0M80.9 352.1h0M149.1 394.4h0M128.4 342.9h0M127.3 349.9h0M138.9 346.2h0M166.4 333.7h0M128.9 348.3h0M143.7 366.9h0M165.1 384.1h0M160.3 340.4h0M84.6 398.3h0M141.0 363.5h0M130.4 352.9h0M138.6 401.4h0M91.6 310.8h0M120.3 344.4h0M129.1 406.3h0M74.1 358.8h0M69.0 393.8h0M110.8 332.3h0M114.8 340.9h0M74.8 374.3h0M133.2 390.6h0M153.3 357.6h0M142.6 355.6h0M100.0 340.4h0M82.8 353.2h0M166.5 317.0h0M105.7 326.7h0M117.5 320.2h0M178.5 349.7h0M126.0 324.0h0M124.6 399.2h0M87.2 354.7h0M134.3 328.8h0M106.2 341.4h0M111.4 327.9h0M124.6 327.7h0M98.0 335.3h0M76.2 364.1h0M158.9 356.4h0M156.1 371.6h0"/>
<path stroke="#000" stroke-opacity="0.55" stroke-width="1.7" stroke-linecap="square" d="M121.3 346.6h0M147.1 349.0h0M124.9 397.7h0M127.8 332.1h0M127.3 395.7h0M68.3 386.5h0M128.1 396.6h0M144.0 390.2h0M119.5 340.4h0M70.0 386.7h0M144.1 384.6h0M140.4 342.7h0M126.8 338.7h0M127.1 340.5h0M166.5 341.2h0M91.0 328.3h0M147.4 360.3h0M145.3 352.0h0M148.5 352.2h0M82.3 350.5h0M134.4 362.3h0M151.8 370.4h0M106.9 337.9h0M130.4 354.9h0M142.1 356.8h0M117.6 324.4h0"/>
<path fill="#fff" d="M102.64 342.12C105.25 341.1 107.71 342.55 110.47 343.51C113.22 344.46 116.56 346.26 119.17 347.86C121.78 349.45 123.96 351.19 126.13 353.08C128.31 354.96 130.63 356.99 132.22 359.17C133.82 361.35 134.83 363.81 135.7 366.13C136.57 368.45 136.72 370.71 137.44 373.09C138.17 375.47 140.2 378.37 140.05 380.4C139.91 382.43 138.02 383.59 136.57 385.27C135.12 386.96 133.38 388.61 131.35 390.5C129.32 392.38 126.71 394.9 124.39 396.59C122.07 398.27 120.19 399.57 117.43 400.59C114.67 401.6 111.19 402.47 107.86 402.68C104.52 402.88 100.75 402.39 97.42 401.81C94.08 401.23 90.46 400.5 87.84 399.2C85.23 397.89 83.41 396.3 81.75 393.98C80.1 391.66 78.65 388.17 77.93 385.27C77.2 382.37 77.34 379.18 77.4 376.57C77.46 373.96 77.11 371.64 78.27 369.61C79.43 367.58 82.48 365.99 84.36 364.39C86.25 362.8 87.84 362.51 89.59 360.04C91.33 357.57 92.63 352.59 94.81 349.6C96.98 346.61 100.03 343.13 102.64 342.12Z"/>
<clipPath id="c20"><path d="M102.64 342.12C105.25 341.1 107.71 342.55 110.47 343.51C113.22 344.46 116.56 346.26 119.17 347.86C121.78 349.45 123.96 351.19 126.13 353.08C128.31 354.96 130.63 356.99 132.22 359.17C133.82 361.35 134.83 363.81 135.7 366.13C136.57 368.45 136.72 370.71 137.44 373.09C138.17 375.47 140.2 378.37 140.05 380.4C139.91 382.43 138.02 383.59 136.57 385.27C135.12 386.96 133.38 388.61 131.35 390.5C129.32 392.38 126.71 394.9 124.39 396.59C122.07 398.27 120.19 399.57 117.43 400.59C114.67 401.6 111.19 402.47 107.86 402.68C104.52 402.88 100.75 402.39 97.42 401.81C94.08 401.23 90.46 400.5 87.84 399.2C85.23 397.89 83.41 396.3 81.75 393.98C80.1 391.66 78.65 388.17 77.93 385.27C77.2 382.37 77.34 379.18 77.4 376.57C77.46 373.96 77.11 371.64 78.27 369.61C79.43 367.58 82.48 365.99 84.36 364.39C86.25 362.8 87.84 362.51 89.59 360.04C91.33 357.57 92.63 352.59 94.81 349.6C96.98 346.61 100.03 343.13 102.64 342.12Z"/></clipPath>
<g clip-path="url(#c20)"><rect x="80.63" y="362.62" width="6.26" height="5.42" fill="rgb(251,251,251)"/><rect x="80.63" y="368" width="6.26" height="5.42" fill="rgb(251,251,251)"/><rect x="80.63" y="373.38" width="6.26" height="5.42" fill="rgb(251,251,251)"/><rect x="80.63" y="378.75" width="6.26" height="5.42" fill="rgb(251,251,251)"/><rect x="80.63" y="384.12" width="6.26" height="5.42" fill="rgb(251,251,251)"/><rect x="80.63" y="389.5" width="6.26" height="5.42" fill="rgb(251,251,251)"/><rect x="80.63" y="394.88" width="6.26" height="5.42" fill="rgb(251,251,251)"/><rect x="86.84" y="362.62" width="6.26" height="5.42" fill="rgb(251,251,251)"/><rect x="86.84" y="368" width="6.26" height="5.42" fill="rgb(237,237,237)"/><rect x="86.84" y="373.38" width="6.26" height="5.42" fill="rgb(237,237,237)"/><rect x="86.84" y="378.75" width="6.26" height="5.42" fill="rgb(237,237,237)"/><rect x="86.84" y="384.12" width="6.26" height="5.42" fill="rgb(237,237,237)"/><rect x="86.84" y="389.5" width="6.26" height="5.42" fill="rgb(237,237,237)"/><rect x="86.84" y="394.88" width="6.26" height="5.42" fill="rgb(251,251,251)"/><rect x="93.05" y="362.62" width="6.26" height="5.42" fill="rgb(251,251,251)"/><rect x="93.05" y="368" width="6.26" height="5.42" fill="rgb(237,237,237)"/><rect x="93.05" y="373.38" width="6.26" height="5.42" fill="rgb(191,191,191)"/><rect x="93.05" y="378.75" width="6.26" height="5.42" fill="rgb(158,158,158)"/><rect x="93.05" y="384.12" width="6.26" height="5.42" fill="rgb(191,191,191)"/><rect x="93.05" y="389.5" width="6.26" height="5.42" fill="rgb(237,237,237)"/><rect x="93.05" y="394.88" width="6.26" height="5.42" fill="rgb(251,251,251)"/><rect x="99.26" y="362.62" width="6.26" height="5.42" fill="rgb(251,251,251)"/><rect x="99.26" y="368" width="6.26" height="5.42" fill="rgb(237,237,237)"/><rect x="99.26" y="373.38" width="6.26" height="5.42" fill="rgb(158,158,158)"/><rect x="99.26" y="378.75" width="6.26" height="5.42" fill="rgb(0,0,0)"/><rect x="99.26" y="384.12" width="6.26" height="5.42" fill="rgb(158,158,158)"/><rect x="99.26" y="389.5" width="6.26" height="5.42" fill="rgb(237,237,237)"/><rect x="99.26" y="394.88" width="6.26" height="5.42" fill="rgb(251,251,251)"/><rect x="105.47" y="362.62" width="6.26" height="5.42" fill="rgb(251,251,251)"/><rect x="105.47" y="368" width="6.26" height="5.42" fill="rgb(237,237,237)"/><rect x="105.47" y="373.38" width="6.26" height="5.42" fill="rgb(191,191,191)"/><rect x="105.47" y="378.75" width="6.26" height="5.42" fill="rgb(89,89,89)"/><rect x="105.47" y="384.12" width="6.26" height="5.42" fill="rgb(191,191,191)"/><rect x="105.47" y="389.5" width="6.26" height="5.42" fill="rgb(237,237,237)"/><rect x="105.47" y="394.88" width="6.26" height="5.42" fill="rgb(251,251,251)"/><rect x="111.68" y="362.62" width="6.26" height="5.42" fill="rgb(251,251,251)"/><rect x="111.68" y="368" width="6.26" height="5.42" fill="rgb(237,237,237)"/><rect x="111.68" y="373.38" width="6.26" height="5.42" fill="rgb(237,237,237)"/><rect x="111.68" y="378.75" width="6.26" height="5.42" fill="rgb(237,237,237)"/><rect x="111.68" y="384.12" width="6.26" height="5.42" fill="rgb(237,237,237)"/><rect x="111.68" y="389.5" width="6.26" height="5.42" fill="rgb(237,237,237)"/><rect x="111.68" y="394.88" width="6.26" height="5.42" fill="rgb(251,251,251)"/><rect x="117.89" y="362.62" width="6.26" height="5.42" fill="rgb(251,251,251)"/><rect x="117.89" y="368" width="6.26" height="5.42" fill="rgb(251,251,251)"/><rect x="117.89" y="373.38" width="6.26" height="5.42" fill="rgb(251,251,251)"/><rect x="117.89" y="378.75" width="6.26" height="5.42" fill="rgb(251,251,251)"/><rect x="117.89" y="384.12" width="6.26" height="5.42" fill="rgb(251,251,251)"/><rect x="117.89" y="389.5" width="6.26" height="5.42" fill="rgb(251,251,251)"/><rect x="117.89" y="394.88" width="6.26" height="5.42" fill="rgb(251,251,251)"/></g>
<path fill="none" stroke="#000" stroke-width="1.55" d="M102.64 342.12C105.25 341.1 107.71 342.55 110.47 343.51C113.22 344.46 116.56 346.26 119.17 347.86C121.78 349.45 123.96 351.19 126.13 353.08C128.31 354.96 130.63 356.99 132.22 359.17C133.82 361.35 134.83 363.81 135.7 366.13C136.57 368.45 136.72 370.71 137.44 373.09C138.17 375.47 140.2 378.37 140.05 380.4C139.91 382.43 138.02 383.59 136.57 385.27C135.12 386.96 133.38 388.61 131.35 390.5C129.32 392.38 126.71 394.9 124.39 396.59C122.07 398.27 120.19 399.57 117.43 400.59C114.67 401.6 111.19 402.47 107.86 402.68C104.52 402.88 100.75 402.39 97.42 401.81C94.08 401.23 90.46 400.5 87.84 399.2C85.23 397.89 83.41 396.3 81.75 393.98C80.1 391.66 78.65 388.17 77.93 385.27C77.2 382.37 77.34 379.18 77.4 376.57C77.46 373.96 77.11 371.64 78.27 369.61C79.43 367.58 82.48 365.99 84.36 364.39C86.25 362.8 87.84 362.51 89.59 360.04C91.33 357.57 92.63 352.59 94.81 349.6C96.98 346.61 100.03 343.13 102.64 342.12Z"/>
<path fill="none" stroke="#000" stroke-width="1.55" d="M107.86 362.13C110.61 362.22 113.37 363.29 115.69 364.39C118.01 365.49 120.27 367 121.78 368.74C123.29 370.48 124.16 372.8 124.74 374.83C125.32 376.86 125.61 378.75 125.26 380.92C124.91 383.1 123.96 385.85 122.65 387.88C121.35 389.92 119.75 391.8 117.43 393.11C115.11 394.41 111.63 395.28 108.73 395.72C105.83 396.15 102.78 396.15 100.03 395.72C97.27 395.28 94.37 394.41 92.2 393.11C90.02 391.8 88.13 390.06 86.97 387.88C85.81 385.71 85.23 382.52 85.23 380.05C85.23 377.59 85.81 375.12 86.97 373.09C88.13 371.06 90.17 369.41 92.2 367.87C94.23 366.33 96.55 364.83 99.16 363.87C101.77 362.91 105.1 362.04 107.86 362.13Z"/>
<path fill="none" stroke="#000" stroke-width="1.55" d="M102.64 372.22C103.77 372.17 107.68 373.41 108.73 373.96C109.77 374.52 112.52 377.06 113.08 377.79C113.64 378.52 114.38 380.44 114.3 381.27C114.21 382.11 112.94 385.4 112.21 386.14C111.48 386.89 108.03 388.46 106.99 388.76C105.94 389.05 102.72 389.28 101.77 389.1C100.81 388.93 98.11 387.57 97.42 387.01C96.72 386.46 95.07 384.4 94.81 383.53C94.54 382.66 94.54 379.22 94.81 378.31C95.07 377.41 96.63 375.09 97.42 374.48C98.2 373.88 101.51 372.27 102.64 372.22Z"/>
<path stroke="#000" stroke-opacity="0.1" stroke-width="1.7" stroke-linecap="square" d="M241.5 370.1h0M238.6 388.4h0M249.4 386.7h0M250.6 395.3h0M216.5 348.9h0M224.1 356.7h0M239.8 389.4h0M201.5 333.3h0M203.9 337.3h0M235.8 350.9h0M210.0 319.3h0M237.2 387.6h0M248.2 399.4h0M209.2 334.3h0M239.2 355.2h0M233.5 352.0h0M251.6 367.2h0M216.6 350.0h0M232.6 341.2h0M254.1 393.3h0M211.5 340.3h0M247.7 351.3h0M230.5 346.6h0M243.4 352.8h0M202.5 328.1h0M248.2 330.2h0M252.3 385.4h0M222.8 354.7h0M260.1 381.0h0M227.9 308.4h0M234.3 355.1h0M236.8 372.5h0M210.2 348.8h0M244.4 354.0h0M241.3 370.9h0M207.8 314.7h0M227.4 321.0h0M243.2 401.7h0M240.2 367.0h0M224.3 305.0h0M241.9 399.1h0M230.4 360.4h0M203.6 338.9h0M237.8 333.8h0M238.3 402.0h0M221.7 353.2h0M240.5 377.5h0M243.9 347.0h0M247.3 354.6h0M214.6 339.6h0M220.9 353.6h0M214.4 345.3h0M222.7 323.4h0M231.4 364.1h0M224.2 352.3h0M242.3 399.8h0M232.1 308.1h0M236.5 324.0h0M240.2 383.7h0M246.5 324.8h0M232.5 357.2h0M225.6 354.2h0M227.4 347.5h0M236.3 369.3h0M239.1 362.6h0M225.0 338.1h0M229.7 335.0h0M220.0 337.7h0M242.5 377.5h0M212.5 348.8h0M231.9 348.9h0M230.6 329.0h0M231.0 365.0h0M243.4 350.1h0M252.0 346.2h0M236.6 370.4h0M241.2 370.9h0M210.6 400.2h0M253.1 343.1h0M272.4 352.0h0M231.7 319.2h0M265.0 408.2h0M278.5 349.1h0M250.0 385.9h0M249.4 355.4h0M242.4 366.2h0M261.1 362.4h0M237.7 383.8h0M210.9 329.6h0M227.6 354.2h0M214.6 333.1h0M213.3 334.9h0M233.5 327.3h0M237.3 313.0h0M210.1 336.9h0M227.9 325.8h0M237.5 371.4h0M299.8 370.7h0M200.7 339.7h0M214.1 338.6h0M224.5 358.1h0M209.2 311.1h0M264.0 388.8h0M206.9 341.8h0M238.6 379.8h0M244.8 361.7h0M251.2 332.0h0M259.9 372.5h0M203.3 321.3h0M212.0 404.6h0M233.2 395.7h0M241.5 394.5h0M215.2 401.0h0M220.8 315.6h0M235.0 365.2h0M236.1 357.5h0M248.7 352.6h0M220.2 354.5h0M252.4 383.5h0M229.6 363.2h0M206.5 404.3h0M244.9 362.2h0M239.6 404.5h0M248.0 373.8h0M255.0 373.8h0M232.8 358.0h0M214.4 316.2h0M255.5 359.9h0M268.7 373.2h0M238.9 395.2h0M248.5 387.6h0M203.4 345.1h0M231.7 351.3h0M249.1 355.3h0M222.2 400.1h0M266.9 372.4h0M201.1 321.7h0M235.2 362.9h0M230.2 328.7h0M238.6 337.0h0M220.8 335.3h0M246.8 368.4h0M242.9 368.7h0M236.7 406.7h0M248.9 385.3h0M237.5 408.1h0M231.3 366.9h0M228.2 329.8h0M210.1 346.9h0M257.7 361.6h0M263.2 376.1h0M239.7 387.6h0M226.2 358.2h0M253.0 344.7h0M244.3 369.2h0M255.3 339.8h0M241.0 321.5h0M251.5 342.2h0M203.3 307.4h0M229.1 334.1h0M201.0 408.6h0M256.7 374.4h0M235.4 368.7h0M215.1 342.0h0M290.6 355.1h0M220.1 315.7h0M245.1 359.1h0M237.6 378.0h0M252.8 344.4h0M258.6 364.3h0M241.4 382.7h0M240.5 393.5h0M232.5 364.7h0M205.0 346.1h0M230.9 357.5h0M251.3 364.0h0M235.5 365.4h0M258.5 384.7h0M258.7 395.2h0M221.3 407.1h0M232.9 364.4h0M245.0 332.6h0M236.7 370.2h0M215.8 404.3h0M259.8 365.5h0M261.8 377.4h0M255.1 381.6h0M246.6 405.0h0M233.4 354.0h0M244.5 377.4h0M234.0 354.4h0M242.0 327.0h0M207.9 343.0h0M244.6 371.1h0M234.9 351.1h0M237.9 364.6h0M207.1 342.9h0M226.9 329.4h0M234.4 351.2h0M268.4 362.1h0M252.9 399.8h0M212.1 343.4h0M207.1 327.2h0M241.4 339.5h0M250.7 363.7h0M234.5 336.5h0M254.2 343.0h0M205.6 336.7h0M244.8 356.5h0M231.4 351.1h0M262.0 321.1h0M248.1 395.4h0M220.5 331.4h0M204.5 319.4h0M225.9 334.4h0M242.3 380.2h0M245.8 369.6h0M245.8 366.6h0M217.6 334.1h0M223.9 342.4h0M226.7 351.9h0M223.6 335.6h0M245.6 365.7h0M243.6 366.8h0M224.8 345.6h0M230.6 323.4h0M241.4 363.1h0M222.3 329.3h0M255.1 399.1h0M248.7 356.7h0M247.8 376.4h0M248.4 363.1h0M208.7 345.9h0M205.4 403.6h0M255.3 379.5h0M227.0 352.2h0M234.4 368.5h0M220.1 323.3h0M222.2 339.8h0M243.3 360.7h0M238.2 342.6h0M236.3 356.1h0M248.7 362.4h0M219.9 330.2h0M251.2 336.2h0M266.8 356.6h0M237.6 400.8h0M262.7 357.1h0M245.1 377.8h0M233.0 310.3h0M201.6 341.2h0M234.0 339.1h0M245.4 335.3h0M234.5 371.8h0M248.1 385.3h0M261.4 362.2h0M261.1 409.7h0M254.0 367.7h0M248.5 360.8h0M226.0 335.0h0M222.7 354.7h0M236.4 361.0h0M265.0 352.3h0M222.4 327.3h0M248.5 353.4h0M225.0 358.6h0M229.6 361.8h0M222.6 335.0h0M236.5 373.5h0M219.5 325.0h0M235.6 332.6h0M238.3 393.8h0M228.4 360.5h0M244.7 375.6h0M238.2 374.2h0M223.4 330.6h0M226.4 319.6h0M235.1 355.8h0M223.8 403.2h0M211.8 326.4h0M241.0 388.0h0M204.7 330.5h0M255.6 355.9h0M215.0 340.8h0M204.8 334.9h0M251.7 352.0h0M250.6 356.6h0M242.6 388.5h0M252.7 355.4h0M274.6 367.6h0M239.7 312.9h0M251.8 366.6h0M215.6 322.8h0M238.5 340.0h0M257.2 316.3h0M218.6 348.5h0M227.7 309.5h0"/>
<path stroke="#000" stroke-opacity="0.17" stroke-width="1.7" stroke-linecap="square" d="M242.6 369.4h0M201.5 313.2h0M238.8 314.9h0M236.1 360.8h0M210.2 343.8h0M207.9 347.6h0M202.1 326.2h0M240.7 386.8h0M259.5 359.1h0M250.6 359.2h0M241.8 373.2h0M219.2 342.9h0M226.5 403.6h0M263.3 394.4h0M237.1 397.7h0M244.8 367.1h0M245.5 378.2h0M233.6 404.0h0M244.9 380.2h0M202.2 334.9h0M229.4 401.2h0M234.5 352.2h0M229.4 343.1h0M205.6 321.1h0M247.0 343.8h0M247.6 387.5h0M232.0 310.5h0M204.0 339.0h0M229.3 362.1h0M234.3 334.9h0M218.0 338.6h0M228.5 340.0h0M215.5 346.1h0M261.5 349.5h0M269.0 378.0h0M222.6 309.8h0M224.7 344.8h0M224.0 346.9h0M232.1 343.7h0M250.8 336.4h0M218.6 331.0h0M205.1 337.8h0M232.6 357.8h0M243.2 355.1h0M235.0 346.7h0M251.1 374.5h0M231.2 322.0h0M249.0 398.2h0M232.3 360.1h0M239.1 372.7h0M230.0 357.2h0M255.2 344.0h0M224.8 342.3h0M229.8 344.6h0M233.9 363.8h0M226.8 350.8h0M236.4 404.2h0M225.7 354.8h0M272.3 342.3h0M256.8 361.5h0M253.6 377.4h0M243.1 374.7h0M238.9 379.5h0M231.3 332.9h0M254.1 370.0h0M235.5 369.6h0M232.1 356.0h0M206.5 347.6h0M221.3 312.9h0M222.7 306.8h0M211.5 338.9h0M237.7 313.4h0M228.9 351.6h0M260.7 381.0h0M253.9 375.4h0M237.6 391.1h0M222.0 305.6h0M235.0 316.0h0M276.9 314.2h0M251.4 386.2h0M239.1 369.1h0M249.4 380.0h0M236.6 338.6h0M263.3 400.7h0M200.6 324.9h0M232.5 343.4h0M226.6 324.2h0M244.6 382.4h0M213.2 346.9h0M220.1 328.6h0M213.5 306.1h0M257.3 349.8h0M248.6 337.4h0M219.8 325.2h0M222.7 353.4h0M217.0 312.5h0M215.4 343.3h0M253.7 366.0h0M235.1 359.5h0M266.9 344.4h0M212.8 401.8h0M230.2 351.3h0M217.9 322.9h0M220.3 408.5h0M233.9 408.1h0M241.8 358.4h0M242.3 390.1h0M247.9 336.8h0M249.5 396.4h0M238.5 362.0h0M234.6 356.2h0M250.8 388.0h0M242.1 342.5h0M237.1 328.8h0M216.4 346.3h0M239.6 355.7h0M246.2 383.1h0M237.4 375.0h0M236.0 361.6h0M238.7 335.6h0M246.7 318.4h0M207.3 329.3h0M255.0 392.6h0M228.9 354.7h0M229.0 319.3h0M246.7 366.1h0M230.0 394.8h0M220.8 325.2h0M262.5 363.4h0M243.8 380.8h0M215.8 333.6h0M225.5 352.8h0M201.0 342.0h0M216.9 346.4h0M227.7 348.3h0M229.0 361.4h0M233.1 313.5h0M205.2 331.1h0M241.4 383.2h0M202.7 318.3h0M231.8 397.4h0M270.7 317.0h0M241.6 388.9h0M242.5 328.1h0M254.8 368.8h0M225.0 341.0h0M270.3 373.6h0M256.9 381.3h0M233.0 339.9h0M206.0 344.7h0M246.8 381.5h0M269.6 347.1h0M256.5 388.2h0M231.5 356.8h0M264.2 359.0h0M235.9 356.8h0M237.3 339.2h0M249.7 373.7h0M222.1 327.4h0M231.5 367.1h0M241.2 394.3h0M221.8 314.4h0M239.3 392.9h0M239.3 324.7h0M211.5 323.9h0M248.1 359.9h0M248.3 382.9h0M223.0 341.1h0M202.1 404.7h0M246.3 397.4h0M245.3 402.4h0M225.9 359.4h0M247.2 376.5h0M234.3 361.3h0M240.5 357.7h0M231.9 321.0h0M234.5 345.5h0M220.0 348.2h0M246.9 347.3h0M203.0 334.2h0M244.5 394.2h0M220.8 318.1h0M205.7 347.6h0M233.2 338.7h0M226.9 331.7h0M243.6 370.5h0M242.6 403.9h0M214.6 407.2h0M200.7 335.6h0M252.5 365.9h0M242.3 363.4h0M232.5 359.9h0M205.2 307.0h0M262.4 351.9h0M252.7 390.4h0M230.0 315.8h0M245.8 388.8h0M245.9 356.1h0M255.2 362.9h0M233.8 403.9h0M206.3 330.5h0M212.7 335.9h0M250.2 344.3h0M225.5 327.8h0M251.0 357.0h0M220.4 344.6h0M250.7 388.0h0M242.1 375.7h0M237.8 348.9h0M216.0 311.4h0M235.2 321.6h0M243.6 329.9h0M242.3 364.7h0M220.7 324.0h0M206.9 331.4h0M219.7 326.9h0M207.2 319.2h0M224.6 346.9h0M254.4 360.7h0M220.4 346.9h0M241.4 348.3h0M251.8 376.5h0M204.8 333.2h0M233.1 343.0h0M219.6 335.3h0M239.3 371.0h0M216.2 341.6h0M240.6 356.0h0M218.7 346.1h0M260.8 369.2h0M250.9 329.1h0M237.1 334.4h0M203.7 343.4h0M261.2 337.4h0M253.7 362.3h0M204.4 405.4h0M233.1 359.4h0M233.3 369.5h0M237.4 328.5h0M233.7 348.6h0M243.9 392.3h0M243.1 357.4h0M234.1 336.8h0M225.7 396.3h0M236.6 350.1h0M244.6 401.2h0M231.3 317.4h0M252.6 372.5h0M233.9 366.2h0M227.0 361.5h0M263.0 392.4h0"/>
<path stroke="#000" stroke-opacity="0.27" stroke-width="1.7" stroke-linecap="square" d="M250.0 355.0h0M236.5 325.8h0M216.3 318.3h0M218.7 327.3h0M237.6 369.7h0M213.8 332.0h0M211.9 342.6h0M247.4 382.0h0M277.8 397.4h0M232.1 397.6h0M204.6 404.8h0M232.6 395.5h0M229.8 312.8h0M236.2 372.9h0M227.4 399.2h0M257.8 388.5h0M260.4 367.6h0M204.1 343.9h0M245.8 359.4h0M259.9 394.6h0M222.9 348.7h0M237.9 386.4h0M225.4 354.8h0M210.6 342.4h0M217.6 348.4h0M242.1 386.7h0M266.6 313.3h0M219.8 349.1h0M206.2 325.0h0M224.0 350.8h0M249.0 314.1h0M229.7 346.4h0M248.0 375.7h0M226.8 395.8h0M269.6 355.5h0M216.9 319.6h0M215.4 347.1h0M210.9 347.8h0M252.7 332.5h0M228.7 333.4h0M262.7 342.7h0M240.6 351.0h0M202.8 334.6h0M204.1 341.6h0M245.3 349.5h0M276.0 359.5h0M247.3 370.9h0M269.1 377.3h0M253.8 378.3h0M243.8 389.9h0M208.1 344.0h0M231.6 319.0h0M224.7 306.8h0M208.5 348.0h0M239.7 342.7h0M237.9 367.8h0M228.1 355.4h0M201.7 317.3h0M250.0 405.5h0M245.1 359.4h0M253.8 374.1h0M256.2 373.0h0M231.8 365.3h0M261.9 382.2h0M247.3 396.2h0M201.7 341.1h0M212.5 315.9h0M223.4 338.6h0M218.0 334.0h0M248.7 358.9h0M242.7 378.8h0M211.1 343.3h0M253.7 374.7h0M212.9 321.3h0M205.1 335.5h0M246.8 379.1h0M245.0 332.7h0M231.7 342.4h0M224.6 344.4h0M207.7 339.0h0M242.4 386.7h0M221.8 346.8h0M244.4 344.7h0M242.8 357.4h0M214.2 331.8h0M248.6 315.3h0M222.8 403.5h0M202.0 405.8h0M218.3 334.9h0M239.8 389.3h0M240.9 343.3h0M251.0 376.0h0M209.5 347.8h0M206.8 402.6h0M238.2 343.4h0M215.4 322.9h0M239.2 363.0h0M239.1 338.6h0M208.1 343.3h0M252.5 382.7h0M237.9 378.7h0M256.7 395.5h0M218.2 341.8h0M251.4 366.6h0M223.9 343.2h0M246.5 328.8h0M226.3 307.9h0M260.7 365.9h0M265.3 374.4h0M242.6 344.9h0M245.4 373.1h0M239.9 401.4h0M239.7 360.8h0M240.3 348.7h0M239.2 399.2h0M236.0 347.9h0M261.4 390.0h0M240.2 333.8h0M231.7 360.7h0M239.6 370.3h0M222.1 341.1h0M203.1 336.7h0M201.4 339.6h0M246.3 378.5h0M235.5 359.3h0M245.4 361.1h0M234.7 336.2h0M239.8 395.0h0M250.9 384.2h0M239.7 335.5h0M211.3 328.3h0M227.9 341.1h0M245.5 328.1h0M210.7 327.5h0M214.9 307.1h0M244.9 316.8h0M248.0 344.1h0M221.5 334.0h0M249.4 341.8h0M228.1 340.2h0M229.3 339.2h0M250.9 350.9h0M245.7 390.1h0M238.5 367.8h0"/>
<path stroke="#000" stroke-opacity="0.4" stroke-width="1.7" stroke-linecap="square" d="M248.0 378.0h0M241.2 383.6h0M205.0 322.0h0M235.2 365.9h0M220.0 341.6h0M216.7 334.0h0M212.3 403.8h0M247.5 369.3h0M227.8 351.6h0M227.8 338.0h0M248.9 364.1h0M230.1 347.9h0M228.0 355.1h0M234.0 397.3h0M200.7 346.8h0M237.8 374.5h0M234.4 364.2h0M247.8 380.0h0M217.2 332.0h0M271.0 372.6h0M210.4 340.8h0M241.3 367.8h0M224.6 328.6h0M240.8 397.0h0M240.6 340.6h0M247.0 339.8h0M213.0 337.6h0M243.1 388.7h0M249.7 363.1h0M230.2 365.4h0M233.3 366.6h0M250.6 366.2h0M229.6 345.1h0M201.9 320.9h0M229.7 320.1h0M225.5 341.0h0M241.6 374.1h0M248.1 379.1h0M228.6 395.5h0M249.1 318.1h0M230.6 343.5h0M263.8 355.5h0M251.2 394.6h0M240.2 380.6h0M251.9 384.5h0M229.2 361.6h0M201.0 343.8h0M224.3 355.8h0M251.7 335.4h0M270.1 384.3h0M213.8 404.3h0M253.4 339.8h0M245.4 389.3h0M246.8 335.9h0M241.0 368.4h0M254.1 354.7h0M238.9 350.2h0M227.7 338.0h0M251.5 379.0h0M252.0 383.5h0M232.7 341.5h0M250.2 377.5h0M258.2 394.5h0M245.9 401.2h0M267.8 342.7h0M226.6 359.0h0M235.2 317.9h0M240.5 373.2h0M236.0 395.8h0M229.1 403.1h0M241.7 395.7h0M262.9 372.8h0M231.1 341.2h0M240.6 382.3h0M257.9 365.9h0M259.5 344.4h0M240.2 338.2h0M247.5 349.2h0M240.7 323.7h0M226.0 349.3h0M202.7 327.8h0M237.1 353.6h0M206.4 324.6h0M237.3 347.3h0M264.6 352.3h0M218.6 346.8h0M215.0 339.6h0M220.7 354.8h0M243.6 386.1h0M245.0 355.2h0M244.5 378.7h0"/>
<path stroke="#000" stroke-opacity="0.55" stroke-width="1.7" stroke-linecap="square" d="M257.4 349.3h0M239.5 356.3h0M266.2 392.0h0M241.6 409.1h0M233.0 395.8h0M203.2 329.5h0M240.7 351.2h0M209.4 348.4h0M254.0 361.7h0M231.8 333.3h0M211.2 341.8h0M237.5 374.9h0M234.8 366.9h0M236.0 339.8h0M233.2 315.1h0M232.9 318.8h0M223.8 333.9h0M245.2 373.0h0M232.7 367.2h0M229.7 333.8h0M221.0 354.0h0M209.7 326.3h0M231.6 336.3h0M250.7 388.2h0M214.6 336.5h0M216.3 343.0h0M225.9 338.6h0M231.6 353.7h0M227.4 354.7h0M262.0 400.5h0M242.1 373.7h0M248.3 354.6h0M207.2 316.8h0M248.7 375.7h0M246.4 371.1h0M230.8 344.0h0M236.7 331.2h0"/>
<path fill="#fff" d="M199.8 346.99C201.07 347.13 204.72 347.13 207.44 347.86C210.17 348.58 213.24 349.45 216.14 351.34C219.04 353.22 222.23 356.41 224.84 359.17C227.46 361.93 229.92 365.26 231.81 367.87C233.69 370.48 235.08 372.51 236.16 374.83C237.23 377.15 238.24 379.33 238.24 381.79C238.24 384.26 237.37 387.59 236.16 389.63C234.94 391.66 233.4 392.67 230.94 393.98C228.47 395.28 224.7 396.44 221.36 397.46C218.03 398.47 214.52 399.34 210.92 400.07C207.33 400.79 201.65 401.52 199.8 401.81Z"/>
<clipPath id="c21"><path d="M199.8 346.99C201.07 347.13 204.72 347.13 207.44 347.86C210.17 348.58 213.24 349.45 216.14 351.34C219.04 353.22 222.23 356.41 224.84 359.17C227.46 361.93 229.92 365.26 231.81 367.87C233.69 370.48 235.08 372.51 236.16 374.83C237.23 377.15 238.24 379.33 238.24 381.79C238.24 384.26 237.37 387.59 236.16 389.63C234.94 391.66 233.4 392.67 230.94 393.98C228.47 395.28 224.7 396.44 221.36 397.46C218.03 398.47 214.52 399.34 210.92 400.07C207.33 400.79 201.65 401.52 199.8 401.81Z"/></clipPath>
<g clip-path="url(#c21)"><rect x="199.8" y="362.62" width="6.26" height="5.42" fill="rgb(251,251,251)"/><rect x="199.8" y="368" width="6.26" height="5.42" fill="rgb(237,237,237)"/><rect x="199.8" y="373.38" width="6.26" height="5.42" fill="rgb(158,158,158)"/><rect x="199.8" y="378.75" width="6.26" height="5.42" fill="rgb(0,0,0)"/><rect x="199.8" y="384.12" width="6.26" height="5.42" fill="rgb(158,158,158)"/><rect x="199.8" y="389.5" width="6.26" height="5.42" fill="rgb(237,237,237)"/><rect x="199.8" y="394.88" width="6.26" height="5.42" fill="rgb(251,251,251)"/><rect x="206.01" y="362.62" width="6.26" height="5.42" fill="rgb(251,251,251)"/><rect x="206.01" y="368" width="6.26" height="5.42" fill="rgb(237,237,237)"/><rect x="206.01" y="373.38" width="6.26" height="5.42" fill="rgb(191,191,191)"/><rect x="206.01" y="378.75" width="6.26" height="5.42" fill="rgb(204,204,204)"/><rect x="206.01" y="384.12" width="6.26" height="5.42" fill="rgb(191,191,191)"/><rect x="206.01" y="389.5" width="6.26" height="5.42" fill="rgb(237,237,237)"/><rect x="206.01" y="394.88" width="6.26" height="5.42" fill="rgb(251,251,251)"/><rect x="212.22" y="362.62" width="6.26" height="5.42" fill="rgb(251,251,251)"/><rect x="212.22" y="368" width="6.26" height="5.42" fill="rgb(237,237,237)"/><rect x="212.22" y="373.38" width="6.26" height="5.42" fill="rgb(237,237,237)"/><rect x="212.22" y="378.75" width="6.26" height="5.42" fill="rgb(237,237,237)"/><rect x="212.22" y="384.12" width="6.26" height="5.42" fill="rgb(237,237,237)"/><rect x="212.22" y="389.5" width="6.26" height="5.42" fill="rgb(237,237,237)"/><rect x="212.22" y="394.88" width="6.26" height="5.42" fill="rgb(251,251,251)"/><rect x="218.43" y="362.62" width="6.26" height="5.42" fill="rgb(251,251,251)"/><rect x="218.43" y="368" width="6.26" height="5.42" fill="rgb(251,251,251)"/><rect x="218.43" y="373.38" width="6.26" height="5.42" fill="rgb(251,251,251)"/><rect x="218.43" y="378.75" width="6.26" height="5.42" fill="rgb(251,251,251)"/><rect x="218.43" y="384.12" width="6.26" height="5.42" fill="rgb(251,251,251)"/><rect x="218.43" y="389.5" width="6.26" height="5.42" fill="rgb(251,251,251)"/><rect x="218.43" y="394.88" width="6.26" height="5.42" fill="rgb(251,251,251)"/></g>
<path fill="none" stroke="#000" stroke-width="1.55" d="M199.8 346.99C201.07 347.13 204.72 347.13 207.44 347.86C210.17 348.58 213.24 349.45 216.14 351.34C219.04 353.22 222.23 356.41 224.84 359.17C227.46 361.93 229.92 365.26 231.81 367.87C233.69 370.48 235.08 372.51 236.16 374.83C237.23 377.15 238.24 379.33 238.24 381.79C238.24 384.26 237.37 387.59 236.16 389.63C234.94 391.66 233.4 392.67 230.94 393.98C228.47 395.28 224.7 396.44 221.36 397.46C218.03 398.47 214.52 399.34 210.92 400.07C207.33 400.79 201.65 401.52 199.8 401.81"/>
<path fill="none" stroke="#000" stroke-width="1.55" d="M199.8 360.04C201.07 360.48 204.86 361.49 207.44 362.65C210.02 363.81 213.24 365.26 215.27 367C217.3 368.74 218.61 370.92 219.62 373.09C220.64 375.27 221.36 377.73 221.36 380.05C221.36 382.37 220.78 384.98 219.62 387.01C218.46 389.05 216.43 390.93 214.4 392.24C212.37 393.54 209.88 394.18 207.44 394.85C205.01 395.51 201.07 396.01 199.8 396.24"/>
<path fill="none" stroke="#000" stroke-width="1.55" d="M199.8 373.09C200.22 373.23 203.2 374.05 203.96 374.48C204.73 374.92 206.92 376.8 207.44 377.44C207.96 378.09 209.18 380.23 209.18 380.92C209.18 381.62 207.96 383.8 207.44 384.4C206.92 385.01 204.73 386.61 203.96 387.01C203.2 387.41 200.22 388.27 199.8 388.41"/>
<path stroke="#000" stroke-opacity="0.1" stroke-width="1.7" stroke-linecap="square" d="M84.1 524.6h0M145.8 512.5h0M135.1 525.2h0M160.2 526.8h0M135.5 483.0h0M124.4 465.7h0M137.2 517.5h0M123.2 462.2h0M82.2 456.6h0M112.2 472.9h0M123.1 524.4h0M147.6 524.4h0M137.0 492.1h0M76.0 494.6h0M75.7 497.2h0M131.3 486.9h0M124.3 479.1h0M124.0 480.1h0M131.7 484.2h0M153.8 471.3h0M94.4 471.7h0M133.7 482.3h0M126.1 530.4h0M76.6 457.7h0M145.6 468.0h0M114.9 469.1h0M131.1 483.5h0M116.0 464.3h0M104.4 528.1h0M87.4 473.3h0M97.2 467.8h0M108.1 533.3h0M163.7 509.0h0M64.0 508.7h0M125.4 525.7h0M134.7 492.9h0M139.9 494.4h0M80.4 476.5h0M131.9 479.7h0M141.5 482.2h0M129.9 483.9h0M99.9 533.2h0M95.4 540.8h0M144.6 499.4h0M73.6 505.6h0M84.9 529.7h0M101.0 468.4h0M87.3 458.5h0M119.1 453.5h0M92.6 527.2h0M73.0 483.8h0M165.4 485.6h0M77.0 537.9h0M160.0 500.9h0M111.9 457.7h0M119.3 476.0h0M167.6 495.1h0M137.9 491.1h0M141.5 475.2h0M87.5 476.2h0M68.9 476.0h0M93.3 467.3h0M98.4 524.1h0M137.3 514.3h0M120.5 526.0h0M143.9 520.1h0M77.9 469.0h0M108.8 470.7h0M79.2 512.6h0M154.0 501.4h0M127.9 538.9h0M129.8 487.0h0M134.6 520.4h0M94.0 526.0h0M136.8 525.3h0M74.3 488.5h0M129.5 470.0h0M148.2 446.4h0M139.8 497.7h0M133.2 482.0h0M148.8 520.5h0M158.6 508.7h0M114.4 527.9h0M109.2 542.4h0M123.5 473.1h0M150.5 492.4h0M125.1 468.8h0M126.0 536.6h0M77.8 464.3h0M121.7 469.9h0M102.9 465.7h0M126.6 524.6h0M176.1 534.8h0M66.7 520.7h0M146.7 510.1h0M147.9 477.9h0M128.3 478.0h0M143.0 483.5h0M135.2 517.6h0M167.1 499.6h0M75.6 484.9h0M124.6 479.9h0M136.7 511.8h0M100.4 528.2h0M146.8 486.3h0M69.7 483.0h0M109.0 471.7h0M144.5 471.5h0M139.1 499.1h0M132.6 525.1h0M104.5 463.6h0M148.1 499.4h0M136.5 537.3h0M136.7 508.0h0M132.7 526.1h0M76.0 479.0h0M148.3 497.1h0M104.8 541.9h0M111.0 466.5h0M137.7 508.5h0M164.2 527.8h0M144.3 479.7h0M164.0 460.6h0M130.0 479.2h0M95.5 529.6h0M95.7 525.0h0M75.6 491.3h0M145.0 532.1h0M73.4 517.2h0M93.7 529.0h0M112.7 529.9h0M116.9 475.8h0M74.2 480.8h0M131.0 531.1h0M117.5 531.7h0M70.6 518.8h0M152.9 535.9h0M117.6 469.9h0M150.8 481.5h0M175.4 526.0h0M122.7 452.3h0M126.6 523.2h0M88.5 471.3h0M139.0 508.5h0M134.1 520.5h0M140.0 533.3h0M130.6 458.2h0M98.1 466.2h0M77.1 496.5h0M95.6 532.3h0M146.9 495.9h0M163.3 491.0h0M100.0 527.0h0M137.9 529.0h0M137.3 468.3h0M126.4 458.4h0M139.1 489.1h0M102.6 462.6h0M146.3 499.7h0M139.5 533.5h0M63.4 496.0h0M130.7 451.8h0M154.7 526.3h0M158.5 508.2h0M79.2 518.4h0M112.7 468.5h0M126.1 462.6h0M114.2 534.5h0M119.3 476.8h0M112.1 527.2h0M133.7 493.7h0M141.9 501.4h0M151.0 510.6h0M135.9 497.9h0M165.7 504.2h0M160.5 497.8h0M146.2 477.7h0M87.4 524.4h0M168.6 475.3h0M154.0 491.3h0M138.3 480.1h0M138.0 520.2h0M70.7 502.8h0M81.7 521.3h0M145.2 524.1h0M136.7 492.4h0M140.0 465.3h0M121.8 536.0h0M130.9 526.6h0M153.4 499.0h0M144.0 514.7h0M153.0 515.2h0M133.5 477.2h0M78.6 476.8h0M68.0 480.5h0M83.2 476.3h0M131.3 543.4h0M141.9 492.2h0M114.4 468.7h0M124.2 530.8h0M126.8 464.3h0M94.8 537.3h0M142.0 477.3h0M129.1 525.5h0M78.5 516.5h0M128.0 479.8h0M84.8 468.0h0M141.1 492.7h0M148.8 523.5h0M66.5 493.0h0M127.1 475.6h0M103.8 530.6h0M80.0 515.7h0M87.1 540.2h0M125.7 481.2h0M84.3 452.2h0M156.1 515.5h0M140.0 504.2h0M143.5 498.4h0M92.7 530.3h0M113.2 530.7h0M132.3 485.0h0M134.9 455.3h0M168.7 497.4h0M162.4 495.6h0M157.8 489.4h0M134.8 522.6h0M120.8 467.6h0M135.6 533.9h0M128.6 479.7h0M155.5 496.9h0M136.5 491.1h0M143.9 505.6h0M75.6 471.8h0M69.1 503.3h0M63.2 503.5h0M139.5 471.3h0M119.7 473.8h0M156.6 530.3h0M77.4 502.0h0M80.7 485.0h0M155.6 501.7h0M119.3 461.3h0"/>
<path stroke="#000" stroke-opacity="0.17" stroke-width="1.7" stroke-linecap="square" d="M140.5 499.8h0M148.2 490.9h0M132.1 481.7h0M150.1 523.1h0M83.5 516.6h0M125.5 535.8h0M137.6 494.0h0M149.5 491.3h0M142.8 502.4h0M133.2 485.9h0M136.9 506.4h0M153.0 502.8h0M124.7 529.2h0M136.6 462.8h0M139.3 513.8h0M141.2 475.0h0M128.2 482.0h0M103.8 470.7h0M152.2 484.5h0M122.0 477.8h0M110.5 526.9h0M133.1 475.9h0M161.5 498.8h0M154.5 497.0h0M139.8 535.5h0M139.5 514.7h0M150.4 499.8h0M135.4 465.9h0M129.7 476.4h0M142.2 524.8h0M139.4 494.8h0M123.4 544.1h0M146.8 504.2h0M78.7 513.8h0M69.1 476.0h0M111.4 461.3h0M113.4 537.6h0M115.8 451.7h0M132.9 532.6h0M99.0 523.9h0M100.3 536.3h0M171.8 481.0h0M157.6 517.1h0M167.0 486.4h0M138.6 491.0h0M183.3 482.2h0M112.6 546.6h0M170.1 461.7h0M132.0 480.0h0M139.1 489.8h0M65.7 482.5h0M117.7 445.1h0M125.4 472.6h0M107.0 530.1h0M136.6 494.2h0M165.1 504.3h0M145.5 502.1h0M72.8 499.2h0M116.9 470.8h0M120.3 537.9h0M151.0 519.1h0M166.7 508.6h0M76.2 522.5h0M144.4 510.7h0M124.9 455.3h0M146.6 529.2h0M148.4 518.4h0M137.2 504.6h0M146.4 444.7h0M145.0 504.5h0M143.1 491.6h0M155.9 541.3h0M127.4 535.4h0M72.0 514.8h0M119.2 460.5h0M74.9 531.4h0M140.5 537.4h0M121.0 474.8h0M136.0 493.2h0M142.7 496.1h0M164.3 503.5h0M137.6 498.4h0M142.6 497.6h0M91.5 466.1h0M105.1 467.2h0M139.6 513.0h0M128.6 471.5h0M159.3 505.8h0M140.7 517.9h0M76.5 513.2h0M136.7 504.0h0M148.0 506.3h0M134.0 473.0h0M74.4 531.4h0M153.6 492.7h0M78.6 500.4h0M148.1 479.3h0M181.2 488.9h0M156.5 511.5h0M138.9 516.7h0M125.8 526.4h0M129.2 524.8h0M131.8 484.1h0M101.2 449.5h0M152.8 442.7h0M133.3 529.7h0M103.0 465.2h0M77.5 521.4h0M81.1 524.2h0M84.2 467.7h0M128.3 459.9h0M137.0 501.3h0M78.1 509.9h0M93.9 534.8h0M139.6 507.6h0M133.5 523.2h0M135.1 469.5h0M132.1 488.7h0M139.0 509.8h0M156.5 512.9h0M146.9 480.0h0M116.4 458.2h0M97.5 471.7h0M165.7 496.4h0M112.8 471.0h0M135.7 516.0h0M69.5 524.3h0M69.1 510.5h0M104.0 533.2h0M139.2 497.9h0M128.3 466.3h0M127.8 476.4h0M109.9 541.8h0M130.3 482.2h0M136.8 495.8h0M153.5 499.9h0M139.0 508.5h0M140.2 504.8h0M100.1 535.5h0M144.0 463.5h0M143.2 476.6h0M114.7 525.7h0M66.7 518.7h0M77.1 525.7h0M145.5 457.0h0M151.6 530.7h0M158.1 519.7h0M143.1 486.4h0M69.2 541.3h0M87.5 465.9h0M159.3 514.0h0M132.4 534.2h0M98.2 525.5h0M99.3 448.9h0M151.0 512.9h0M168.1 481.1h0M140.0 473.2h0M116.4 526.0h0M166.8 517.6h0M153.0 489.9h0M140.7 491.6h0M162.8 465.8h0M115.4 461.0h0M156.4 498.0h0M104.3 528.6h0M114.7 473.2h0M160.9 492.1h0M149.1 481.9h0M152.2 532.9h0M139.1 502.6h0M124.0 461.8h0M142.6 496.1h0M114.5 470.6h0M129.7 528.2h0M173.7 520.5h0M147.3 501.0h0M121.1 451.2h0M93.1 524.6h0M169.2 545.1h0M132.2 484.0h0M135.2 489.7h0M178.7 487.8h0M123.0 534.1h0M98.1 545.9h0M134.1 487.3h0M90.3 459.1h0M113.2 538.4h0M73.9 487.8h0M77.2 503.6h0M79.2 529.5h0M63.1 518.3h0M95.8 526.7h0M81.3 514.4h0M167.6 445.2h0M168.1 527.4h0M150.0 521.5h0M125.4 477.8h0M129.7 484.0h0M74.5 507.5h0M79.3 503.1h0"/>
<path stroke="#000" stroke-opacity="0.27" stroke-width="1.7" stroke-linecap="square" d="M81.9 469.1h0M78.8 481.9h0M103.8 525.5h0M149.9 503.8h0M137.7 497.9h0M105.4 525.0h0M111.2 539.4h0M93.4 523.9h0M102.7 527.7h0M107.7 470.1h0M139.7 510.5h0M131.1 486.6h0M88.5 535.4h0M153.1 483.1h0M139.1 478.7h0M142.4 531.9h0M69.8 521.8h0M135.2 495.3h0M133.5 485.8h0M104.9 533.3h0M139.6 493.3h0M87.2 521.5h0M139.7 479.8h0M143.6 507.1h0M73.2 506.1h0M115.3 526.3h0M138.8 484.3h0M89.3 525.3h0M119.5 527.1h0M81.6 539.5h0M134.2 492.0h0M77.0 493.1h0M138.4 523.3h0M95.8 452.7h0M108.4 528.6h0M135.1 482.9h0M126.2 538.7h0M131.0 538.7h0M126.4 472.1h0M112.0 470.9h0M103.2 467.4h0M134.3 481.2h0M75.4 512.6h0M138.2 506.9h0M155.8 487.4h0M81.8 483.7h0M138.6 504.2h0M149.5 489.9h0M95.0 544.7h0M73.3 504.2h0M128.7 464.8h0M150.3 525.3h0M99.5 530.1h0M90.4 524.3h0M117.3 525.8h0M136.3 500.8h0M119.3 524.8h0M105.6 530.6h0M111.1 467.3h0M119.6 526.8h0M79.6 515.5h0M130.6 487.1h0M136.5 485.8h0M123.1 540.4h0M139.3 491.8h0M72.9 486.2h0M117.9 527.1h0M113.0 464.0h0M84.5 470.2h0M137.4 527.1h0M145.3 486.9h0M144.4 455.3h0M88.3 473.5h0M71.3 459.1h0M127.8 461.1h0M127.3 470.2h0M80.1 480.5h0M156.1 524.9h0M136.7 513.8h0M142.5 447.0h0M81.9 513.4h0M156.9 528.9h0M133.4 490.0h0M73.8 509.9h0M153.8 501.6h0M148.1 534.9h0M119.1 461.5h0M82.3 537.8h0M120.0 472.8h0M73.7 503.9h0M185.2 519.9h0M126.3 531.5h0M70.5 524.0h0M108.3 526.8h0M121.0 526.6h0M99.5 525.2h0M109.1 538.0h0M137.2 540.5h0M164.6 508.5h0M136.8 538.4h0M84.0 515.4h0M152.4 501.8h0M78.0 505.6h0M176.1 461.2h0M72.3 509.9h0M136.1 491.8h0M112.9 525.9h0M92.2 525.2h0M166.4 516.7h0M78.0 488.6h0M106.9 526.0h0M125.1 532.9h0M144.8 483.1h0M137.2 509.9h0M123.4 471.3h0M119.5 460.6h0M139.9 488.7h0M146.8 512.3h0M133.0 481.2h0M73.2 479.2h0M138.7 519.9h0M163.1 481.4h0M79.3 475.6h0M142.5 481.0h0M101.8 452.5h0M133.7 518.2h0M76.6 500.0h0M70.9 498.8h0M139.5 500.8h0M135.4 481.2h0M76.3 498.8h0M140.0 506.5h0M166.5 459.2h0M174.0 496.7h0M121.6 528.2h0M136.7 513.0h0M77.3 532.5h0"/>
<path stroke="#000" stroke-opacity="0.4" stroke-width="1.7" stroke-linecap="square" d="M128.7 483.8h0M165.9 498.2h0M137.5 476.1h0M136.3 518.8h0M128.9 485.0h0M133.4 484.2h0M125.4 464.3h0M151.7 512.3h0M92.7 543.1h0M149.9 524.4h0M152.1 442.8h0M107.8 443.7h0M135.3 539.9h0M138.3 495.9h0M154.4 483.7h0M145.9 526.4h0M78.6 541.9h0M135.1 525.0h0M126.9 479.6h0M81.6 515.8h0M77.1 511.8h0M132.7 522.9h0M86.4 520.4h0M84.1 519.1h0M87.3 522.5h0M147.3 477.1h0M156.2 489.0h0M137.9 491.8h0M126.8 524.7h0M153.2 477.9h0M146.7 519.1h0M147.9 509.8h0M104.7 455.1h0M126.0 470.1h0M160.1 496.5h0M105.0 537.5h0M142.0 475.5h0M137.0 504.7h0M136.3 465.1h0M125.9 474.2h0M137.4 542.0h0M158.3 490.6h0M146.1 470.7h0M129.3 480.2h0M143.8 463.5h0M156.4 500.7h0M113.3 465.8h0M136.0 517.8h0M83.1 519.6h0M129.2 481.4h0M72.3 496.5h0M75.6 503.3h0M67.3 467.3h0M70.9 488.7h0M128.8 485.2h0M153.7 506.8h0M92.1 527.6h0M124.2 455.7h0M152.9 466.5h0M109.4 471.7h0M147.4 481.8h0M71.0 516.9h0M145.9 547.2h0M162.9 507.3h0M76.0 498.3h0M154.7 511.9h0M76.0 493.8h0M117.7 470.2h0M75.0 496.8h0M129.1 467.1h0M139.0 517.4h0M136.5 546.1h0M143.8 485.7h0M84.5 519.5h0"/>
<path stroke="#000" stroke-opacity="0.55" stroke-width="1.7" stroke-linecap="square" d="M138.7 454.3h0M120.0 525.6h0M148.2 498.9h0M114.9 467.1h0M131.2 485.5h0M148.7 458.8h0M151.4 473.8h0M76.6 481.6h0M151.8 523.3h0M103.9 471.5h0M131.0 467.4h0M163.4 483.8h0M67.0 511.4h0M165.0 464.3h0M147.8 503.4h0M149.8 491.7h0M141.8 483.6h0M148.4 512.8h0M154.7 482.5h0M157.5 525.6h0M106.5 450.1h0M76.9 496.6h0M140.8 500.7h0M118.9 525.8h0M126.0 522.9h0M152.9 493.6h0"/>
<path fill="#fff" d="M100.03 471.46C102.93 471.25 105.83 471.89 108.73 472.68C111.63 473.46 114.67 474.71 117.43 476.16C120.19 477.61 123.09 479.35 125.26 481.38C127.44 483.41 129.03 485.73 130.48 488.34C131.93 490.95 132.95 493.99 133.96 497.04C134.98 500.09 136.14 503.71 136.57 506.61C137.01 509.51 137.15 512.41 136.57 514.44C135.99 516.47 134.98 517.34 133.09 518.79C131.21 520.24 128.16 521.98 125.26 523.14C122.36 524.3 119.02 525.46 115.69 525.76C112.35 526.05 108.73 525.32 105.25 524.88C101.77 524.45 97.71 523.87 94.81 523.14C91.91 522.42 89.73 522.13 87.84 520.53C85.96 518.94 84.8 516.04 83.49 513.57C82.19 511.11 80.88 508.35 80.01 505.74C79.14 503.13 78.27 500.81 78.27 497.91C78.27 495.01 79 491.24 80.01 488.34C81.03 485.44 82.48 482.91 84.36 480.51C86.25 478.1 88.71 475.4 91.33 473.89C93.94 472.39 97.13 471.66 100.03 471.46Z"/>
<clipPath id="c30"><path d="M100.03 471.46C102.93 471.25 105.83 471.89 108.73 472.68C111.63 473.46 114.67 474.71 117.43 476.16C120.19 477.61 123.09 479.35 125.26 481.38C127.44 483.41 129.03 485.73 130.48 488.34C131.93 490.95 132.95 493.99 133.96 497.04C134.98 500.09 136.14 503.71 136.57 506.61C137.01 509.51 137.15 512.41 136.57 514.44C135.99 516.47 134.98 517.34 133.09 518.79C131.21 520.24 128.16 521.98 125.26 523.14C122.36 524.3 119.02 525.46 115.69 525.76C112.35 526.05 108.73 525.32 105.25 524.88C101.77 524.45 97.71 523.87 94.81 523.14C91.91 522.42 89.73 522.13 87.84 520.53C85.96 518.94 84.8 516.04 83.49 513.57C82.19 511.11 80.88 508.35 80.01 505.74C79.14 503.13 78.27 500.81 78.27 497.91C78.27 495.01 79 491.24 80.01 488.34C81.03 485.44 82.48 482.91 84.36 480.51C86.25 478.1 88.71 475.4 91.33 473.89C93.94 472.39 97.13 471.66 100.03 471.46Z"/></clipPath>
<g clip-path="url(#c30)"><rect x="80.63" y="483.5" width="6.26" height="5.42" fill="rgb(251,251,251)"/><rect x="80.63" y="488.88" width="6.26" height="5.42" fill="rgb(251,251,251)"/><rect x="80.63" y="494.25" width="6.26" height="5.42" fill="rgb(251,251,251)"/><rect x="80.63" y="499.62" width="6.26" height="5.42" fill="rgb(251,251,251)"/><rect x="80.63" y="505" width="6.26" height="5.42" fill="rgb(251,251,251)"/><rect x="80.63" y="510.38" width="6.26" height="5.42" fill="rgb(251,251,251)"/><rect x="80.63" y="515.75" width="6.26" height="5.42" fill="rgb(251,251,251)"/><rect x="86.84" y="483.5" width="6.26" height="5.42" fill="rgb(251,251,251)"/><rect x="86.84" y="488.88" width="6.26" height="5.42" fill="rgb(237,237,237)"/><rect x="86.84" y="494.25" width="6.26" height="5.42" fill="rgb(237,237,237)"/><rect x="86.84" y="499.62" width="6.26" height="5.42" fill="rgb(237,237,237)"/><rect x="86.84" y="505" width="6.26" height="5.42" fill="rgb(237,237,237)"/><rect x="86.84" y="510.38" width="6.26" height="5.42" fill="rgb(237,237,237)"/><rect x="86.84" y="515.75" width="6.26" height="5.42" fill="rgb(251,251,251)"/><rect x="93.05" y="483.5" width="6.26" height="5.42" fill="rgb(251,251,251)"/><rect x="93.05" y="488.88" width="6.26" height="5.42" fill="rgb(237,237,237)"/><rect x="93.05" y="494.25" width="6.26" height="5.42" fill="rgb(191,191,191)"/><rect x="93.05" y="499.62" width="6.26" height="5.42" fill="rgb(158,158,158)"/><rect x="93.05" y="505" width="6.26" height="5.42" fill="rgb(191,191,191)"/><rect x="93.05" y="510.38" width="6.26" height="5.42" fill="rgb(237,237,237)"/><rect x="93.05" y="515.75" width="6.26" height="5.42" fill="rgb(251,251,251)"/><rect x="99.26" y="483.5" width="6.26" height="5.42" fill="rgb(251,251,251)"/><rect x="99.26" y="488.88" width="6.26" height="5.42" fill="rgb(237,237,237)"/><rect x="99.26" y="494.25" width="6.26" height="5.42" fill="rgb(158,158,158)"/><rect x="99.26" y="499.62" width="6.26" height="5.42" fill="rgb(0,0,0)"/><rect x="99.26" y="505" width="6.26" height="5.42" fill="rgb(158,158,158)"/><rect x="99.26" y="510.38" width="6.26" height="5.42" fill="rgb(237,237,237)"/><rect x="99.26" y="515.75" width="6.26" height="5.42" fill="rgb(251,251,251)"/><rect x="105.47" y="483.5" width="6.26" height="5.42" fill="rgb(251,251,251)"/><rect x="105.47" y="488.88" width="6.26" height="5.42" fill="rgb(237,237,237)"/><rect x="105.47" y="494.25" width="6.26" height="5.42" fill="rgb(191,191,191)"/><rect x="105.47" y="499.62" width="6.26" height="5.42" fill="rgb(89,89,89)"/><rect x="105.47" y="505" width="6.26" height="5.42" fill="rgb(191,191,191)"/><rect x="105.47" y="510.38" width="6.26" height="5.42" fill="rgb(237,237,237)"/><rect x="105.47" y="515.75" width="6.26" height="5.42" fill="rgb(251,251,251)"/><rect x="111.68" y="483.5" width="6.26" height="5.42" fill="rgb(251,251,251)"/><rect x="111.68" y="488.88" width="6.26" height="5.42" fill="rgb(237,237,237)"/><rect x="111.68" y="494.25" width="6.26" height="5.42" fill="rgb(237,237,237)"/><rect x="111.68" y="499.62" width="6.26" height="5.42" fill="rgb(237,237,237)"/><rect x="111.68" y="505" width="6.26" height="5.42" fill="rgb(237,237,237)"/><rect x="111.68" y="510.38" width="6.26" height="5.42" fill="rgb(237,237,237)"/><rect x="111.68" y="515.75" width="6.26" height="5.42" fill="rgb(251,251,251)"/><rect x="117.89" y="483.5" width="6.26" height="5.42" fill="rgb(251,251,251)"/><rect x="117.89" y="488.88" width="6.26" height="5.42" fill="rgb(251,251,251)"/><rect x="117.89" y="494.25" width="6.26" height="5.42" fill="rgb(251,251,251)"/><rect x="117.89" y="499.62" width="6.26" height="5.42" fill="rgb(251,251,251)"/><rect x="117.89" y="505" width="6.26" height="5.42" fill="rgb(251,251,251)"/><rect x="117.89" y="510.38" width="6.26" height="5.42" fill="rgb(251,251,251)"/><rect x="117.89" y="515.75" width="6.26" height="5.42" fill="rgb(251,251,251)"/></g>
<path fill="none" stroke="#000" stroke-width="1.55" d="M100.03 471.46C102.93 471.25 105.83 471.89 108.73 472.68C111.63 473.46 114.67 474.71 117.43 476.16C120.19 477.61 123.09 479.35 125.26 481.38C127.44 483.41 129.03 485.73 130.48 488.34C131.93 490.95 132.95 493.99 133.96 497.04C134.98 500.09 136.14 503.71 136.57 506.61C137.01 509.51 137.15 512.41 136.57 514.44C135.99 516.47 134.98 517.34 133.09 518.79C131.21 520.24 128.16 521.98 125.26 523.14C122.36 524.3 119.02 525.46 115.69 525.76C112.35 526.05 108.73 525.32 105.25 524.88C101.77 524.45 97.71 523.87 94.81 523.14C91.91 522.42 89.73 522.13 87.84 520.53C85.96 518.94 84.8 516.04 83.49 513.57C82.19 511.11 80.88 508.35 80.01 505.74C79.14 503.13 78.27 500.81 78.27 497.91C78.27 495.01 79 491.24 80.01 488.34C81.03 485.44 82.48 482.91 84.36 480.51C86.25 478.1 88.71 475.4 91.33 473.89C93.94 472.39 97.13 471.66 100.03 471.46Z"/>
<path fill="none" stroke="#000" stroke-width="1.55" d="M102.64 484.86C105.25 484.63 108.58 485.21 111.34 486.08C114.09 486.95 117.14 488.4 119.17 490.08C121.2 491.76 122.59 493.99 123.52 496.17C124.45 498.35 125.03 500.67 124.74 503.13C124.45 505.6 123.29 508.93 121.78 510.96C120.27 512.99 118.15 514.3 115.69 515.31C113.22 516.33 109.89 516.91 106.99 517.05C104.09 517.2 100.9 516.91 98.29 516.18C95.68 515.46 93.21 514.3 91.33 512.7C89.44 511.11 87.76 508.93 86.97 506.61C86.19 504.29 86.19 501.1 86.63 498.78C87.06 496.46 88.08 494.57 89.59 492.69C91.09 490.8 93.5 488.77 95.68 487.47C97.85 486.16 100.03 485.09 102.64 484.86Z"/>
<path fill="none" stroke="#000" stroke-width="1.55" d="M101.77 493.56C102.81 493.44 106.81 493.99 107.86 494.43C108.9 494.86 111.56 497.13 112.21 497.91C112.85 498.69 114.3 501.39 114.3 502.26C114.3 503.13 112.94 505.92 112.21 506.61C111.48 507.31 108.03 508.91 106.99 509.22C105.94 509.54 102.72 509.92 101.77 509.74C100.81 509.57 98.11 508.06 97.42 507.48C96.72 506.91 95.07 504.78 94.81 504C94.54 503.22 94.54 500.49 94.81 499.65C95.07 498.82 96.72 496.26 97.42 495.65C98.11 495.04 100.72 493.68 101.77 493.56Z"/>
<path stroke="#000" stroke-opacity="0.1" stroke-width="1.7" stroke-linecap="square" d="M256.5 501.9h0M260.7 511.7h0M209.1 468.0h0M225.7 518.2h0M246.8 505.9h0M235.5 458.7h0M233.5 504.0h0M253.7 490.4h0M241.5 533.9h0M250.5 505.0h0M256.9 519.2h0M231.4 452.9h0M227.1 531.6h0M251.2 501.9h0M213.1 535.1h0M241.2 506.7h0M205.9 475.4h0M238.8 501.6h0M253.5 509.3h0M224.0 525.3h0M241.1 524.7h0M212.4 478.0h0M212.2 470.9h0M212.9 535.5h0M249.3 477.0h0M238.5 523.4h0M201.4 534.0h0M205.7 467.5h0M242.8 536.9h0M258.6 510.7h0M249.7 536.9h0M240.6 530.6h0M246.4 485.5h0M239.0 509.9h0M231.1 521.2h0M220.6 471.1h0M242.6 525.7h0M222.8 480.0h0M232.7 517.9h0M249.8 481.5h0M218.4 461.7h0M245.5 491.9h0M254.3 516.3h0M240.6 506.5h0M221.2 480.4h0M229.8 513.3h0M249.7 508.5h0M241.2 504.2h0M230.0 519.1h0M204.7 460.1h0M233.5 526.1h0M233.8 530.2h0M212.3 526.7h0M237.9 509.8h0M236.8 497.0h0M211.2 465.6h0M237.6 500.2h0M223.3 466.1h0M243.4 491.7h0M248.2 499.5h0M241.8 477.0h0M238.4 527.6h0M233.6 508.9h0M231.4 517.8h0M249.2 479.6h0M235.1 513.9h0M223.2 520.1h0M222.7 475.5h0M239.1 494.0h0M261.7 476.8h0M216.9 469.1h0M248.7 534.1h0M212.0 471.9h0M276.0 506.4h0M230.9 523.7h0M251.9 500.2h0M227.5 482.8h0M206.5 527.8h0M232.2 462.2h0M254.6 490.8h0M248.3 509.5h0M220.7 474.6h0M241.9 526.5h0M237.2 503.7h0M214.8 478.5h0M236.9 488.4h0M266.9 522.2h0M261.6 524.1h0M235.5 510.3h0M214.7 478.0h0M255.0 488.6h0M228.5 477.5h0M262.3 509.5h0M243.8 475.1h0M230.2 478.9h0M219.4 473.2h0M230.9 534.1h0M253.8 506.4h0M235.7 505.5h0M238.8 487.8h0M237.5 521.0h0M238.7 482.1h0M239.9 512.9h0M263.0 479.9h0M240.1 503.2h0M248.5 486.3h0M247.3 498.0h0M239.5 512.8h0M247.5 469.1h0M261.9 491.5h0M217.8 526.2h0M239.0 486.0h0M257.4 484.5h0M249.9 503.1h0M234.3 528.8h0M237.4 465.6h0M263.4 474.0h0M245.5 489.2h0M226.8 476.1h0M238.4 495.5h0M250.7 506.0h0M264.2 483.2h0M225.6 525.5h0M206.2 538.8h0M209.1 468.4h0M219.1 471.6h0M202.8 466.5h0M230.3 476.5h0M239.9 520.4h0M222.6 519.2h0M220.6 477.0h0M261.9 541.0h0M232.8 512.6h0M243.2 476.6h0M208.9 454.7h0M244.0 501.4h0M256.6 506.5h0M214.2 472.0h0M201.3 467.3h0M244.1 476.2h0M239.7 521.9h0M251.5 466.1h0M241.8 492.2h0M267.4 504.9h0M225.9 466.5h0M238.5 495.7h0M261.8 511.7h0M241.8 494.5h0M242.3 498.2h0M242.0 505.7h0M222.2 542.3h0M236.5 492.0h0M230.0 518.7h0M236.3 489.9h0M201.2 529.1h0M205.6 473.9h0M225.9 470.8h0M228.1 516.6h0M227.2 517.7h0M264.7 489.7h0M248.9 522.4h0M234.1 481.8h0M252.0 463.8h0M242.9 498.4h0M246.1 504.1h0M254.5 506.6h0M243.3 532.7h0M246.9 496.7h0M270.0 464.1h0M238.8 518.0h0M246.5 482.1h0M246.6 475.8h0M231.8 479.3h0M211.9 528.6h0M229.3 463.8h0M247.0 476.5h0M256.7 477.9h0M220.5 522.5h0M240.4 504.6h0M255.4 493.2h0M252.2 524.7h0M250.9 513.4h0M206.4 543.8h0M232.6 524.2h0M230.8 513.2h0M211.2 470.9h0M204.8 455.6h0M217.3 524.4h0M252.0 495.5h0M231.4 535.4h0M235.5 526.1h0M255.2 495.1h0M235.2 513.2h0M238.5 470.5h0M241.2 489.7h0M252.4 512.5h0M245.9 453.7h0M238.9 493.5h0M226.5 466.9h0M269.5 485.5h0M210.6 533.3h0M217.6 471.6h0M249.6 479.8h0M261.7 483.4h0M242.7 501.6h0M241.7 506.8h0M232.5 515.1h0M209.9 465.0h0M231.9 465.7h0M246.1 508.2h0M206.4 470.0h0M202.8 543.3h0M227.1 481.4h0M244.0 500.1h0M239.3 487.1h0M230.9 476.7h0M224.2 535.3h0M255.0 490.7h0M221.9 531.7h0M226.8 471.7h0M209.2 471.8h0M211.7 476.2h0M245.7 511.5h0M266.2 485.3h0M229.5 524.6h0M250.0 491.2h0M201.1 476.0h0M232.7 526.3h0M239.2 467.1h0M232.9 479.7h0M247.3 471.4h0M260.0 472.7h0M249.3 497.7h0M243.3 487.4h0M236.8 475.4h0M212.2 535.1h0M257.1 506.5h0M207.3 457.2h0M253.8 515.1h0M249.4 482.6h0M221.5 471.9h0M228.7 518.9h0M230.6 530.1h0M272.1 483.4h0M237.8 481.3h0M251.9 479.9h0M229.8 528.4h0M231.3 479.5h0M239.5 498.9h0M213.2 457.0h0M260.1 484.3h0M229.2 519.1h0M253.9 483.4h0M244.4 510.6h0M257.2 513.9h0M232.4 483.4h0M255.7 518.7h0M240.0 482.1h0M264.9 474.8h0M242.0 515.9h0M233.8 518.9h0M235.2 504.3h0M241.2 516.9h0M237.7 487.6h0M236.6 512.8h0M250.1 487.0h0M227.5 475.6h0M263.2 481.4h0M242.1 495.7h0M228.8 526.4h0M231.5 507.2h0M241.4 507.8h0M244.8 497.3h0M233.2 466.9h0"/>
<path stroke="#000" stroke-opacity="0.17" stroke-width="1.7" stroke-linecap="square" d="M252.8 482.2h0M214.7 542.4h0M243.5 488.9h0M244.0 515.9h0M200.7 530.9h0M238.1 512.9h0M225.4 526.7h0M248.9 532.1h0M213.0 474.4h0M231.0 468.0h0M242.7 497.8h0M238.8 495.4h0M235.4 537.5h0M237.3 523.7h0M245.4 507.3h0M245.3 512.9h0M237.8 474.2h0M219.3 476.1h0M252.1 484.0h0M242.9 497.9h0M237.1 508.3h0M231.1 536.7h0M216.8 478.3h0M264.3 478.4h0M249.6 515.5h0M220.9 525.0h0M245.3 477.3h0M243.4 497.1h0M252.0 488.9h0M233.7 509.6h0M239.8 497.4h0M229.1 477.7h0M217.1 476.3h0M258.1 486.7h0M236.3 514.6h0M228.9 511.9h0M258.0 491.2h0M220.5 525.8h0M267.3 474.5h0M210.4 533.7h0M241.1 524.4h0M234.0 507.9h0M257.6 511.7h0M247.7 487.5h0M254.9 473.3h0M246.6 502.9h0M238.3 517.6h0M207.1 473.9h0M239.5 504.1h0M236.6 491.8h0M256.1 519.5h0M251.1 510.9h0M240.5 537.2h0M224.6 480.5h0M245.5 487.7h0M245.1 497.1h0M245.3 508.8h0M235.1 477.3h0M235.7 485.3h0M224.3 517.5h0M232.4 539.1h0M202.1 460.6h0M246.2 476.6h0M237.7 503.4h0M258.2 498.3h0M232.2 524.6h0M217.2 473.7h0M248.1 512.6h0M247.1 520.0h0M236.6 500.7h0M216.2 465.7h0M242.8 475.1h0M253.6 483.8h0M201.3 467.3h0M240.9 513.9h0M227.2 514.9h0M253.6 479.5h0M230.5 530.2h0M227.2 466.9h0M265.5 478.4h0M244.3 519.2h0M211.9 461.2h0M206.2 535.1h0M242.5 493.9h0M233.6 518.4h0M246.4 491.2h0M246.1 509.9h0M226.0 469.1h0M249.2 486.3h0M239.2 507.7h0M274.1 480.7h0M223.3 520.3h0M229.5 478.0h0M272.1 479.5h0M237.2 519.1h0M224.3 534.4h0M250.4 521.8h0M236.7 495.3h0M246.0 458.2h0M229.1 482.4h0M237.5 529.5h0M243.9 498.1h0M242.4 482.7h0M258.0 494.4h0M240.3 493.7h0M233.2 518.1h0M274.3 506.3h0M269.1 513.5h0M255.6 467.4h0M226.8 468.4h0M253.5 491.4h0M228.3 480.2h0M215.8 476.9h0M249.6 498.4h0M225.0 539.8h0M230.9 517.7h0M245.6 480.8h0M226.8 514.2h0M229.7 483.4h0M248.3 505.8h0M255.3 508.3h0M241.9 504.6h0M266.5 514.8h0M221.7 524.9h0M236.7 451.3h0M246.2 485.1h0M228.6 478.0h0M238.7 516.5h0M239.7 500.7h0M221.3 540.6h0M216.4 460.8h0M248.7 473.5h0M244.4 479.5h0M234.7 471.0h0M269.2 514.1h0M244.0 494.7h0M234.6 524.6h0M253.3 509.3h0M212.0 544.3h0M233.9 475.7h0M227.7 481.7h0M246.3 492.2h0M250.5 496.4h0M261.7 490.8h0M222.3 522.9h0M233.7 528.4h0M212.7 529.5h0M242.3 540.3h0M222.8 468.5h0M240.6 485.9h0M226.1 520.3h0M216.5 478.7h0M237.0 479.3h0M277.7 479.3h0M238.9 475.2h0M210.2 538.2h0M216.0 478.2h0M268.9 487.6h0M251.4 491.9h0M218.8 532.5h0M231.0 514.5h0M256.8 504.7h0M249.8 518.2h0M207.5 444.3h0M236.6 501.7h0M240.9 453.1h0M202.9 456.8h0M249.6 516.8h0M266.4 496.9h0M234.8 513.7h0M230.6 540.0h0M222.4 530.2h0M253.9 466.2h0M241.6 487.6h0M242.3 490.3h0M235.0 504.1h0M256.0 514.6h0M210.1 446.5h0M217.5 456.5h0M252.2 491.0h0M215.5 527.7h0M233.1 514.2h0M246.5 467.0h0M215.4 525.1h0M239.3 483.2h0M237.5 479.5h0M261.5 469.2h0M233.7 507.6h0M249.8 464.4h0M240.9 524.3h0M235.4 481.5h0M250.1 501.4h0M238.2 491.1h0M249.9 508.3h0M234.3 525.6h0M227.4 469.0h0M204.7 533.3h0M251.0 490.1h0M244.0 522.1h0M246.6 491.8h0M253.0 472.6h0M226.3 531.1h0M234.3 481.6h0M219.2 477.5h0M240.6 500.4h0M207.9 534.3h0M241.3 475.1h0M242.4 500.4h0M247.6 487.6h0M207.2 473.0h0M250.0 495.4h0M254.4 502.4h0M225.5 521.6h0M236.0 531.4h0M232.7 528.3h0M237.6 515.0h0M221.1 540.6h0M262.2 475.4h0M206.2 454.9h0M234.8 480.0h0M234.8 488.2h0M235.3 476.9h0M242.8 485.9h0M249.8 480.9h0M240.8 503.2h0M238.6 535.5h0M209.0 530.9h0M221.6 480.3h0M240.6 453.2h0M239.5 498.7h0M245.9 504.6h0M236.5 505.3h0M200.7 535.7h0M214.3 477.8h0M258.7 487.3h0M216.6 477.6h0M256.9 511.0h0M238.8 479.6h0M233.0 517.8h0M245.5 521.1h0M253.1 492.3h0M247.0 501.4h0M250.0 472.4h0M238.1 518.5h0M253.8 488.0h0M234.6 479.7h0M243.1 514.5h0M249.0 500.5h0M236.9 490.2h0M249.3 480.9h0M246.3 510.1h0"/>
<path stroke="#000" stroke-opacity="0.27" stroke-width="1.7" stroke-linecap="square" d="M251.1 505.7h0M229.8 531.9h0M224.6 530.6h0M234.9 482.1h0M245.8 510.7h0M227.4 526.4h0M203.5 533.7h0M233.4 517.7h0M219.8 461.6h0M253.6 490.6h0M242.7 532.7h0M234.2 470.3h0M228.2 520.7h0M222.4 479.2h0M260.0 492.9h0M257.2 504.3h0M228.6 461.5h0M239.5 498.3h0M228.5 479.0h0M238.6 482.5h0M264.5 493.5h0M237.2 500.8h0M225.8 476.0h0M242.8 496.0h0M236.7 463.2h0M218.9 522.2h0M228.5 468.2h0M239.1 488.5h0M233.8 479.6h0M220.1 477.0h0M251.8 474.8h0M239.9 488.1h0M245.1 486.3h0M235.5 500.3h0M228.6 530.1h0M238.6 487.5h0M228.1 516.1h0M236.0 473.6h0M264.7 511.6h0M204.8 539.2h0M235.4 501.8h0M225.6 524.4h0M238.5 492.9h0M201.1 465.6h0M246.1 513.6h0M247.7 521.4h0M236.4 519.4h0M262.7 518.8h0M259.1 476.2h0M235.2 481.1h0M236.2 480.8h0M240.9 498.8h0M237.0 483.7h0M203.1 475.7h0M244.1 488.0h0M233.3 537.2h0M207.5 453.1h0M228.0 481.2h0M241.2 490.9h0M221.6 521.5h0M251.1 461.1h0M237.0 481.0h0M225.9 480.4h0M253.1 498.4h0M214.4 530.3h0M242.4 491.8h0M256.0 499.1h0M242.3 475.7h0M256.5 463.4h0M231.0 475.2h0M226.6 472.0h0M221.5 473.6h0M205.4 469.2h0M227.7 533.5h0M247.5 527.5h0M212.5 466.5h0M247.5 510.9h0M212.2 541.9h0M247.3 504.8h0M216.3 526.5h0M223.5 467.7h0M236.8 489.5h0M250.2 526.6h0M273.7 525.6h0M237.2 522.3h0M208.1 478.4h0M241.2 522.7h0M219.3 476.8h0M244.6 512.5h0M219.6 524.6h0M232.8 505.1h0M239.1 499.0h0M232.4 480.4h0M248.5 476.9h0M251.9 498.1h0M211.9 457.4h0M225.2 517.7h0M237.4 480.3h0M232.0 463.1h0M258.2 505.8h0M244.4 489.5h0M244.6 489.5h0M249.7 484.7h0M237.0 520.4h0M230.9 477.1h0M257.8 506.4h0M209.6 546.7h0M257.1 507.4h0M257.8 473.0h0M245.8 502.4h0M241.3 467.5h0M234.6 467.9h0M243.4 521.3h0M236.7 500.2h0M246.5 465.6h0M253.2 484.8h0M224.3 470.1h0M242.2 489.2h0M218.5 522.5h0M251.5 496.1h0M233.9 503.8h0M225.7 522.5h0M230.5 519.2h0M241.1 478.1h0M201.8 476.3h0M237.4 516.1h0M230.6 511.3h0M234.1 503.8h0M233.8 541.6h0M204.8 531.0h0M239.0 487.4h0M227.6 469.0h0M208.2 528.6h0M243.4 490.7h0M246.1 471.5h0M248.8 524.8h0M237.5 488.9h0M208.1 530.0h0M224.4 525.2h0M242.0 507.2h0M259.5 488.7h0M222.0 478.2h0M208.7 546.4h0M202.7 530.0h0M249.7 496.6h0M224.9 519.5h0M246.0 491.4h0M251.7 500.6h0M200.7 474.0h0M264.6 488.1h0M237.8 523.5h0M250.6 494.4h0M240.7 495.6h0M226.2 542.2h0M206.6 456.3h0"/>
<path stroke="#000" stroke-opacity="0.4" stroke-width="1.7" stroke-linecap="square" d="M212.0 466.9h0M234.2 478.9h0M220.9 475.5h0M207.3 478.2h0M235.3 510.7h0M226.9 523.2h0M245.1 462.3h0M217.0 473.8h0M233.7 528.5h0M239.1 510.5h0M249.4 499.8h0M239.5 484.3h0M243.2 490.6h0M234.0 452.4h0M264.8 507.6h0M207.0 466.7h0M227.0 479.6h0M219.5 477.1h0M242.2 472.0h0M248.4 477.5h0M233.4 472.3h0M265.2 506.0h0M213.8 527.2h0M253.4 535.7h0M217.3 533.4h0M223.7 474.6h0M248.6 499.8h0M207.1 478.1h0M216.3 467.4h0M240.9 497.6h0M235.2 539.1h0M241.9 493.5h0M251.1 499.5h0M235.9 511.0h0M253.7 509.3h0M269.7 514.1h0M220.6 473.5h0M220.1 529.7h0M238.8 489.9h0M212.3 539.1h0M243.3 482.8h0M254.6 515.2h0M208.0 476.2h0M245.3 497.5h0M260.9 494.6h0M205.3 474.8h0M209.3 532.5h0M256.5 489.6h0M220.6 546.2h0M208.7 478.3h0M205.0 465.7h0M227.1 459.7h0M209.6 477.0h0M203.6 476.4h0M234.3 502.4h0M211.2 530.5h0M261.7 486.8h0M228.8 478.0h0M212.6 476.4h0M220.4 456.8h0M237.1 516.8h0M218.3 464.6h0M234.3 486.9h0M234.7 485.1h0M244.4 479.2h0M250.1 460.4h0M239.9 502.8h0M222.2 477.2h0M220.7 476.9h0M237.0 485.0h0M256.4 485.3h0M266.4 500.7h0"/>
<path stroke="#000" stroke-opacity="0.55" stroke-width="1.7" stroke-linecap="square" d="M242.9 516.0h0M247.3 479.2h0M238.0 466.1h0M229.4 446.6h0M242.0 511.5h0M245.9 491.2h0M219.3 530.2h0M245.2 490.2h0M232.6 477.2h0M209.2 472.0h0M238.8 515.2h0M219.3 522.1h0M265.4 473.3h0M238.5 479.6h0M229.0 533.1h0M255.6 495.4h0M242.7 482.3h0M257.2 491.1h0M227.1 470.8h0M200.7 539.6h0M241.6 521.6h0M238.6 495.9h0M224.9 529.5h0M210.4 464.7h0M245.3 478.7h0M233.3 517.9h0M241.5 525.4h0M233.5 472.6h0"/>
<path fill="#fff" d="M199.8 477.37C201.07 477.61 204.43 478.39 207.44 478.77C210.46 479.14 214.69 479.06 217.88 479.64C221.07 480.22 223.97 481.09 226.59 482.25C229.2 483.41 231.86 484.86 233.55 486.6C235.23 488.34 236.39 490.51 236.68 492.69C236.97 494.86 236.24 497.04 235.29 499.65C234.33 502.26 232.97 505.16 230.94 508.35C228.91 511.54 225.86 516.04 223.1 518.79C220.35 521.55 217.3 523.43 214.4 524.88C211.5 526.34 208.14 526.97 205.7 527.5C203.27 528.02 200.78 527.93 199.8 528.02Z"/>
<clipPath id="c31"><path d="M199.8 477.37C201.07 477.61 204.43 478.39 207.44 478.77C210.46 479.14 214.69 479.06 217.88 479.64C221.07 480.22 223.97 481.09 226.59 482.25C229.2 483.41 231.86 484.86 233.55 486.6C235.23 488.34 236.39 490.51 236.68 492.69C236.97 494.86 236.24 497.04 235.29 499.65C234.33 502.26 232.97 505.16 230.94 508.35C228.91 511.54 225.86 516.04 223.1 518.79C220.35 521.55 217.3 523.43 214.4 524.88C211.5 526.34 208.14 526.97 205.7 527.5C203.27 528.02 200.78 527.93 199.8 528.02Z"/></clipPath>
<g clip-path="url(#c31)"><rect x="199.8" y="483.5" width="6.26" height="5.42" fill="rgb(251,251,251)"/><rect x="199.8" y="488.88" width="6.26" height="5.42" fill="rgb(237,237,237)"/><rect x="199.8" y="494.25" width="6.26" height="5.42" fill="rgb(158,158,158)"/><rect x="199.8" y="499.62" width="6.26" height="5.42" fill="rgb(0,0,0)"/><rect x="199.8" y="505" width="6.26" height="5.42" fill="rgb(158,158,158)"/><rect x="199.8" y="510.38" width="6.26" height="5.42" fill="rgb(237,237,237)"/><rect x="199.8" y="515.75" width="6.26" height="5.42" fill="rgb(251,251,251)"/><rect x="206.01" y="483.5" width="6.26" height="5.42" fill="rgb(251,251,251)"/><rect x="206.01" y="488.88" width="6.26" height="5.42" fill="rgb(237,237,237)"/><rect x="206.01" y="494.25" width="6.26" height="5.42" fill="rgb(191,191,191)"/><rect x="206.01" y="499.62" width="6.26" height="5.42" fill="rgb(204,204,204)"/><rect x="206.01" y="505" width="6.26" height="5.42" fill="rgb(191,191,191)"/><rect x="206.01" y="510.38" width="6.26" height="5.42" fill="rgb(237,237,237)"/><rect x="206.01" y="515.75" width="6.26" height="5.42" fill="rgb(251,251,251)"/><rect x="212.22" y="483.5" width="6.26" height="5.42" fill="rgb(251,251,251)"/><rect x="212.22" y="488.88" width="6.26" height="5.42" fill="rgb(237,237,237)"/><rect x="212.22" y="494.25" width="6.26" height="5.42" fill="rgb(237,237,237)"/><rect x="212.22" y="499.62" width="6.26" height="5.42" fill="rgb(237,237,237)"/><rect x="212.22" y="505" width="6.26" height="5.42" fill="rgb(237,237,237)"/><rect x="212.22" y="510.38" width="6.26" height="5.42" fill="rgb(237,237,237)"/><rect x="212.22" y="515.75" width="6.26" height="5.42" fill="rgb(251,251,251)"/><rect x="218.43" y="483.5" width="6.26" height="5.42" fill="rgb(251,251,251)"/><rect x="218.43" y="488.88" width="6.26" height="5.42" fill="rgb(251,251,251)"/><rect x="218.43" y="494.25" width="6.26" height="5.42" fill="rgb(251,251,251)"/><rect x="218.43" y="499.62" width="6.26" height="5.42" fill="rgb(251,251,251)"/><rect x="218.43" y="505" width="6.26" height="5.42" fill="rgb(251,251,251)"/><rect x="218.43" y="510.38" width="6.26" height="5.42" fill="rgb(251,251,251)"/><rect x="218.43" y="515.75" width="6.26" height="5.42" fill="rgb(251,251,251)"/></g>
<path fill="none" stroke="#000" stroke-width="1.55" d="M199.8 477.37C201.07 477.61 204.43 478.39 207.44 478.77C210.46 479.14 214.69 479.06 217.88 479.64C221.07 480.22 223.97 481.09 226.59 482.25C229.2 483.41 231.86 484.86 233.55 486.6C235.23 488.34 236.39 490.51 236.68 492.69C236.97 494.86 236.24 497.04 235.29 499.65C234.33 502.26 232.97 505.16 230.94 508.35C228.91 511.54 225.86 516.04 223.1 518.79C220.35 521.55 217.3 523.43 214.4 524.88C211.5 526.34 208.14 526.97 205.7 527.5C203.27 528.02 200.78 527.93 199.8 528.02"/>
<path fill="none" stroke="#000" stroke-width="1.55" d="M199.8 486.6C200.78 486.69 203.41 486.54 205.7 487.12C207.99 487.7 211.36 488.86 213.53 490.08C215.71 491.3 217.45 492.83 218.75 494.43C220.06 496.02 221.07 497.62 221.36 499.65C221.65 501.68 221.36 504.29 220.49 506.61C219.62 508.93 218.03 511.54 216.14 513.57C214.26 515.6 211.21 517.58 209.18 518.79C207.15 520.01 205.52 520.39 203.96 520.88C202.4 521.38 200.49 521.61 199.8 521.75"/>
<path fill="none" stroke="#000" stroke-width="1.55" d="M199.8 495.3C200.13 495.39 202.41 495.82 203.09 496.17C203.77 496.52 206 498.22 206.57 498.78C207.15 499.34 208.83 501.1 208.83 501.74C208.83 502.38 207.15 504.65 206.57 505.22C206 505.79 203.77 507.17 203.09 507.48C202.41 507.8 200.13 508.27 199.8 508.35"/>
<path stroke="#000" stroke-opacity="0.1" stroke-width="1.7" stroke-linecap="square" d="M371.9 471.8h0M408.2 485.3h0M456.0 490.0h0M406.4 466.6h0M377.2 540.4h0M427.1 470.9h0M391.8 477.9h0M341.2 503.3h0M398.1 478.5h0M400.3 479.1h0M347.5 487.7h0M422.9 466.4h0M396.2 479.7h0M380.2 540.3h0M425.9 488.9h0M411.9 506.7h0M381.5 460.4h0M415.7 510.5h0M406.2 483.8h0M429.7 501.5h0M346.4 526.2h0M402.3 483.6h0M419.0 513.0h0M452.7 506.5h0M390.7 525.8h0M407.9 481.0h0M425.7 509.2h0M390.6 530.3h0M401.8 467.0h0M393.5 479.0h0M423.9 506.9h0M418.0 488.8h0M424.0 504.4h0M413.8 534.9h0M427.1 498.7h0M411.0 506.4h0M414.9 489.4h0M420.5 519.8h0M378.5 534.0h0M434.9 511.3h0M393.5 471.1h0M409.0 468.2h0M412.2 495.0h0M418.9 503.6h0M411.6 500.8h0M359.2 527.4h0M417.1 509.9h0M349.7 520.9h0M414.3 474.4h0M436.7 514.7h0M417.2 480.3h0M412.3 518.1h0M412.4 508.2h0M348.1 465.9h0M411.4 482.5h0M427.9 499.1h0M416.1 478.0h0M422.7 468.4h0M415.0 531.0h0M430.0 504.2h0M378.4 471.0h0M434.4 488.8h0M408.1 525.8h0M410.9 509.4h0M352.8 539.8h0M420.5 485.6h0M432.2 480.0h0M420.1 512.3h0M347.3 494.6h0M442.0 483.0h0M412.2 501.6h0M347.4 478.8h0M434.0 464.7h0M344.1 484.4h0M420.2 502.3h0M427.9 516.2h0M419.9 515.0h0M394.4 464.8h0M363.0 468.9h0M410.5 480.5h0M426.7 471.8h0M342.4 492.5h0M416.2 478.9h0M425.9 503.9h0M413.0 516.3h0M391.4 474.7h0M386.6 462.5h0M419.6 499.2h0M363.5 530.5h0M406.0 486.1h0M417.2 468.6h0M407.3 484.0h0M434.8 470.9h0M429.4 495.1h0M424.5 486.2h0M426.4 524.3h0M362.6 530.5h0M386.0 527.4h0M404.0 472.6h0M429.4 502.4h0M417.4 493.3h0M413.7 497.1h0M361.5 526.3h0M409.3 475.3h0M411.2 506.0h0M434.5 527.8h0M386.7 473.4h0M424.2 516.5h0M423.6 480.6h0M372.5 466.0h0M417.4 470.6h0M420.3 502.6h0M352.8 477.7h0M413.4 513.0h0M426.1 491.5h0M423.2 496.6h0M416.1 496.1h0M345.6 488.9h0M344.8 490.1h0M402.8 518.0h0M436.8 497.0h0M394.7 469.7h0M414.0 504.2h0M419.1 487.1h0M406.3 467.3h0M404.8 483.8h0M424.8 514.2h0M439.5 492.9h0M442.5 471.0h0M423.3 497.6h0M346.8 511.0h0M415.9 485.9h0M406.9 469.6h0M405.2 444.9h0M405.6 532.4h0M346.0 493.5h0M409.7 485.0h0M429.1 461.8h0M358.3 469.8h0M404.9 521.6h0M388.3 473.8h0M441.0 515.2h0M401.7 471.7h0M428.9 459.4h0M416.1 453.3h0M440.6 479.4h0M427.8 496.8h0M419.0 477.1h0M400.3 475.7h0M442.2 502.1h0M415.6 516.4h0M392.5 465.6h0M366.3 534.6h0M421.7 460.9h0M428.5 513.2h0M383.2 530.9h0M338.7 473.5h0M412.0 488.3h0M354.0 522.5h0M403.8 478.8h0M368.2 469.4h0M414.2 479.0h0M343.9 495.7h0M351.6 464.7h0M415.0 475.1h0M450.2 502.5h0M413.3 491.2h0M411.7 504.6h0M346.6 499.6h0M410.2 518.3h0M429.3 466.5h0M350.1 512.2h0M420.5 471.6h0M385.8 471.8h0M419.2 478.3h0M439.3 509.1h0M350.9 521.7h0M412.0 488.8h0M367.5 470.0h0M421.1 496.2h0M359.4 538.6h0M351.2 514.7h0M450.1 515.5h0M431.8 487.0h0M391.2 525.6h0M455.9 509.1h0M435.9 474.8h0M412.2 499.7h0M403.9 479.5h0M387.2 475.2h0M401.4 529.1h0M399.4 477.8h0M439.1 511.3h0M423.8 502.1h0M414.4 500.2h0M404.5 521.8h0M344.6 498.7h0M452.9 496.2h0M395.6 478.4h0M400.8 468.6h0M363.2 531.9h0M351.6 455.4h0M418.2 486.0h0M405.6 470.7h0M430.9 507.7h0M413.3 522.0h0M431.5 492.9h0M344.3 474.6h0M439.5 482.3h0M412.2 493.9h0M411.1 479.9h0M393.9 475.3h0M348.7 517.0h0M401.5 482.3h0M421.1 499.9h0M426.5 478.4h0M427.4 510.6h0M371.2 532.0h0M411.6 492.8h0M349.1 518.0h0M414.5 508.9h0M438.6 490.2h0"/>
<path stroke="#000" stroke-opacity="0.17" stroke-width="1.7" stroke-linecap="square" d="M436.8 495.3h0M436.8 495.0h0M412.0 519.0h0M420.6 487.1h0M395.2 479.2h0M397.3 524.3h0M408.2 486.4h0M344.2 523.4h0M408.9 470.9h0M353.0 477.5h0M348.6 479.2h0M438.8 489.8h0M354.4 531.3h0M418.1 477.6h0M408.4 485.0h0M446.6 470.2h0M381.8 527.5h0M425.1 478.4h0M379.5 537.8h0M371.7 466.4h0M425.7 494.0h0M414.7 498.5h0M345.6 495.0h0M395.5 463.8h0M452.9 488.9h0M417.0 515.8h0M405.7 470.2h0M409.4 509.2h0M416.8 500.3h0M398.1 532.0h0M420.9 511.2h0M442.8 502.8h0M437.0 493.8h0M410.8 467.5h0M395.2 477.2h0M420.9 494.3h0M415.1 482.9h0M448.6 483.4h0M411.2 509.1h0M420.5 499.2h0M408.5 488.0h0M351.4 521.0h0M436.1 479.5h0M414.0 485.1h0M421.0 479.5h0M399.7 459.7h0M423.0 479.7h0M396.1 529.4h0M430.0 498.6h0M437.0 502.8h0M444.5 483.8h0M405.0 481.1h0M344.8 518.5h0M437.3 525.3h0M419.5 479.3h0M406.7 514.4h0M423.0 462.2h0M411.7 504.5h0M421.4 508.5h0M417.8 484.6h0M436.6 512.0h0M422.0 477.1h0M411.9 468.0h0M411.6 507.2h0M344.1 525.0h0M451.6 483.4h0M412.7 491.9h0M410.7 479.3h0M389.6 525.4h0M408.5 484.0h0M428.4 452.9h0M413.6 487.8h0M400.8 467.2h0M342.7 503.9h0M425.9 456.9h0M382.7 530.2h0M404.7 482.8h0M418.1 500.7h0M394.1 536.8h0M427.6 479.4h0M392.1 470.9h0M426.5 491.6h0M402.0 534.0h0M424.1 518.4h0M405.3 527.7h0M406.6 519.4h0M427.5 480.1h0M413.5 497.7h0M403.4 463.7h0M349.5 485.0h0M425.9 509.7h0M351.7 483.5h0M413.3 481.4h0M407.1 529.3h0M415.0 512.3h0M409.8 521.7h0M354.1 462.5h0M381.1 471.4h0M402.2 474.0h0M408.8 458.6h0M414.1 484.2h0M428.6 493.3h0M427.2 474.2h0M414.0 474.9h0M343.5 524.3h0M409.1 470.8h0M350.6 518.9h0M367.5 528.5h0M344.2 503.2h0M436.8 485.8h0M428.6 514.1h0M417.9 501.0h0M424.9 505.4h0M437.7 520.7h0M373.1 469.1h0M386.4 531.3h0M441.6 501.7h0M435.3 495.6h0M397.3 530.3h0M376.5 535.8h0M405.9 519.2h0M426.3 486.9h0M382.4 527.3h0M344.2 514.1h0M408.3 510.3h0M363.4 473.4h0M400.4 477.9h0M409.1 481.5h0M431.1 484.9h0M347.1 513.8h0M414.6 520.9h0M422.0 496.7h0M426.0 519.5h0M441.4 506.5h0M399.8 476.5h0M421.9 485.4h0M361.8 531.5h0M414.6 500.9h0M411.6 507.3h0M415.1 517.4h0M420.3 501.3h0M426.9 487.3h0M432.1 511.6h0M443.7 466.4h0M423.2 514.6h0M363.4 537.8h0M431.5 499.7h0M412.4 504.6h0M400.3 527.6h0M417.4 499.5h0M427.0 479.4h0M400.0 472.8h0M426.9 514.9h0M437.4 486.8h0M411.5 463.2h0M379.7 541.8h0M382.4 471.2h0M419.9 503.5h0M381.8 528.1h0M354.1 475.5h0M430.9 482.2h0M398.1 524.2h0M423.0 491.7h0M386.7 529.2h0M436.0 501.4h0M346.2 497.7h0M409.3 486.2h0M424.1 500.0h0M411.3 505.8h0M413.6 499.8h0M418.4 507.4h0M398.8 525.0h0M420.7 504.7h0M397.0 480.8h0M415.0 496.8h0M349.1 514.5h0M404.2 480.4h0M345.4 477.0h0M352.3 538.1h0M433.4 488.4h0M349.1 523.6h0M413.0 516.4h0M427.5 472.7h0M442.4 507.9h0M447.0 479.4h0M417.6 503.6h0M408.7 466.8h0M423.3 495.6h0M432.7 453.5h0M342.8 509.6h0M414.0 514.8h0M419.1 504.1h0M404.5 468.0h0M437.3 515.7h0M369.9 530.7h0M389.6 473.4h0M356.3 473.5h0M442.3 498.5h0M422.4 472.9h0M388.2 528.8h0M347.6 493.0h0M370.7 466.2h0M345.1 511.5h0M410.1 531.4h0M412.9 521.6h0M401.3 481.5h0M415.5 480.6h0M410.2 481.2h0M413.7 496.6h0M355.0 467.5h0M401.8 521.1h0M428.5 479.4h0M416.6 501.7h0M405.5 483.9h0M410.5 473.7h0M402.0 483.7h0M412.8 499.9h0M352.3 519.6h0M417.4 484.7h0M380.1 528.0h0M399.1 481.3h0M415.4 533.3h0M441.0 514.7h0"/>
<path stroke="#000" stroke-opacity="0.27" stroke-width="1.7" stroke-linecap="square" d="M393.2 474.5h0M410.6 511.7h0M406.0 481.6h0M426.3 481.7h0M397.1 463.1h0M458.2 479.2h0M411.9 487.5h0M401.5 525.5h0M425.1 483.7h0M389.6 472.8h0M404.1 518.5h0M418.0 484.8h0M431.9 486.7h0M422.4 491.9h0M415.1 511.0h0M438.2 470.7h0M425.8 467.6h0M373.7 535.2h0M415.7 480.7h0M347.4 510.9h0M428.1 491.0h0M414.3 516.5h0M384.0 527.5h0M401.0 471.6h0M413.0 469.6h0M435.0 499.1h0M418.4 511.6h0M427.1 483.2h0M343.1 479.5h0M349.8 475.6h0M447.0 483.6h0M427.3 513.6h0M363.5 538.2h0M408.8 486.9h0M407.1 475.6h0M369.3 529.2h0M427.9 512.9h0M428.8 484.7h0M412.8 485.6h0M351.4 517.9h0M421.7 499.0h0M425.7 495.4h0M414.8 502.7h0M431.0 482.9h0M359.5 473.3h0M357.1 537.4h0M428.0 503.2h0M417.7 496.0h0M426.0 499.6h0M398.1 467.7h0M421.9 487.4h0M421.5 507.0h0M372.4 530.9h0M418.0 487.7h0M428.2 498.6h0M409.1 487.7h0M412.1 491.1h0M422.3 514.8h0M419.8 502.0h0M387.2 468.7h0M416.9 507.1h0M374.5 529.7h0M372.5 533.4h0M377.3 536.4h0M388.7 470.2h0M436.2 501.1h0M413.1 487.3h0M415.1 502.3h0M408.3 474.8h0M431.8 497.3h0M347.8 507.6h0M417.2 490.8h0M352.2 477.7h0M386.7 532.3h0M417.8 494.4h0M411.5 512.2h0M411.8 484.7h0M350.3 486.4h0M380.1 528.6h0M372.5 530.6h0M340.1 493.7h0M423.9 491.5h0M411.5 489.2h0M401.2 518.2h0M414.5 494.0h0M424.4 459.5h0M424.0 470.5h0M405.9 525.3h0M401.8 523.0h0M364.8 459.9h0M408.4 456.6h0M400.1 528.4h0M438.0 519.9h0M343.6 523.3h0M398.7 477.6h0M422.6 479.8h0M394.3 466.1h0M406.6 473.8h0M444.7 499.2h0M413.7 492.8h0M375.4 543.6h0M395.4 471.2h0M428.1 508.2h0M400.2 480.9h0M415.5 502.8h0M380.4 464.4h0M428.2 478.5h0M412.8 533.6h0M421.3 496.9h0M438.2 500.9h0M427.9 494.0h0M398.5 478.1h0M397.3 527.3h0M417.1 537.1h0M396.4 457.9h0M426.7 491.7h0M358.6 536.6h0M433.3 520.6h0M391.7 527.7h0M411.4 503.6h0M421.8 498.1h0M409.3 483.0h0M419.5 517.7h0M384.2 526.6h0M433.8 507.8h0M449.3 495.1h0M446.3 474.9h0M406.2 461.5h0M385.7 467.7h0M395.2 479.8h0M373.9 470.4h0M413.7 490.9h0M429.0 502.6h0M448.7 504.3h0M342.4 493.2h0M405.4 521.3h0M413.0 509.5h0M438.8 465.6h0M406.2 474.7h0M411.9 502.3h0M414.8 511.3h0M368.8 530.1h0M429.5 485.2h0M432.8 480.1h0M417.4 502.4h0M412.5 516.8h0"/>
<path stroke="#000" stroke-opacity="0.4" stroke-width="1.7" stroke-linecap="square" d="M424.1 508.6h0M405.4 478.0h0M391.2 530.1h0M402.8 483.3h0M340.6 518.1h0M457.7 512.7h0M413.4 477.4h0M374.3 534.8h0M398.3 476.8h0M422.2 536.9h0M410.3 516.0h0M346.9 488.7h0M409.3 472.2h0M439.8 501.5h0M444.4 469.2h0M360.0 473.0h0M412.8 496.2h0M369.8 471.9h0M377.6 527.6h0M395.3 479.0h0M350.1 468.1h0M346.1 496.3h0M415.1 498.2h0M414.9 492.3h0M430.5 463.3h0M420.7 528.5h0M423.2 470.0h0M389.1 474.2h0M345.1 494.4h0M370.8 466.1h0M402.2 479.0h0M342.3 498.5h0M345.1 517.5h0M412.0 498.7h0M405.4 484.6h0M429.8 518.0h0M416.6 526.2h0M341.7 539.0h0M409.9 524.7h0M400.9 475.3h0M384.9 526.9h0M423.0 481.4h0M424.0 485.8h0M358.6 532.8h0M408.2 470.8h0M423.6 492.6h0M392.1 475.2h0M351.0 547.1h0M406.6 484.7h0M428.5 507.0h0M416.9 454.6h0M402.9 478.8h0M445.4 477.4h0M398.4 476.3h0M381.0 526.9h0M434.8 500.8h0M433.5 463.6h0M417.7 484.0h0M423.4 493.5h0M431.3 510.3h0M350.6 483.4h0M388.6 462.8h0M344.7 492.3h0M443.3 512.8h0M414.0 480.4h0M346.0 500.0h0M415.5 487.4h0M346.3 489.8h0M352.8 470.0h0M418.0 511.7h0M415.6 524.7h0M346.1 495.4h0M413.4 498.4h0"/>
<path stroke="#000" stroke-opacity="0.55" stroke-width="1.7" stroke-linecap="square" d="M418.7 512.7h0M423.0 492.6h0M427.9 498.4h0M409.0 533.3h0M398.6 470.7h0M368.8 537.0h0M425.9 521.4h0M420.6 470.2h0M352.3 517.5h0M352.0 521.8h0M434.8 526.6h0M398.3 520.5h0M422.8 468.2h0M355.2 520.0h0M416.9 501.1h0M371.4 454.6h0M441.5 482.9h0M412.3 491.9h0M424.6 510.7h0M439.4 501.0h0M379.6 533.2h0M442.1 487.1h0M414.0 466.0h0M422.9 496.1h0M422.4 489.3h0M390.3 532.8h0M416.0 479.4h0M407.3 478.0h0M394.1 467.0h0M424.1 504.2h0M418.1 512.2h0M442.6 474.6h0M427.1 479.7h0M403.8 517.1h0M400.5 475.3h0M426.0 502.2h0"/>
<path fill="#fff" d="M371.55 473.02C374.74 472.82 377.35 473.4 380.25 474.07C383.15 474.74 386.05 475.81 388.95 477.03C391.85 478.24 394.9 479.93 397.65 481.38C400.41 482.83 403.31 484.28 405.48 485.73C407.66 487.18 409.54 488.34 410.7 490.08C411.86 491.82 412.44 493.7 412.44 496.17C412.44 498.64 411.72 501.97 410.7 504.87C409.69 507.77 408.24 511.11 406.35 513.57C404.47 516.04 402 517.92 399.39 519.66C396.78 521.4 393.88 522.77 390.69 524.01C387.5 525.26 383.73 526.48 380.25 527.15C376.77 527.81 372.71 528.25 369.81 528.02C366.91 527.79 365.46 527.29 362.84 525.76C360.23 524.22 356.46 521.4 354.14 518.79C351.82 516.18 350.08 513.28 348.92 510.09C347.76 506.9 347.18 503.13 347.18 499.65C347.18 496.17 347.76 492.4 348.92 489.21C350.08 486.02 352.11 482.83 354.14 480.51C356.17 478.19 358.2 476.53 361.1 475.29C364 474.04 368.36 473.23 371.55 473.02Z"/>
<clipPath id="c32"><path d="M371.55 473.02C374.74 472.82 377.35 473.4 380.25 474.07C383.15 474.74 386.05 475.81 388.95 477.03C391.85 478.24 394.9 479.93 397.65 481.38C400.41 482.83 403.31 484.28 405.48 485.73C407.66 487.18 409.54 488.34 410.7 490.08C411.86 491.82 412.44 493.7 412.44 496.17C412.44 498.64 411.72 501.97 410.7 504.87C409.69 507.77 408.24 511.11 406.35 513.57C404.47 516.04 402 517.92 399.39 519.66C396.78 521.4 393.88 522.77 390.69 524.01C387.5 525.26 383.73 526.48 380.25 527.15C376.77 527.81 372.71 528.25 369.81 528.02C366.91 527.79 365.46 527.29 362.84 525.76C360.23 524.22 356.46 521.4 354.14 518.79C351.82 516.18 350.08 513.28 348.92 510.09C347.76 506.9 347.18 503.13 347.18 499.65C347.18 496.17 347.76 492.4 348.92 489.21C350.08 486.02 352.11 482.83 354.14 480.51C356.17 478.19 358.2 476.53 361.1 475.29C364 474.04 368.36 473.23 371.55 473.02Z"/></clipPath>
<g clip-path="url(#c32)"><rect x="350.02" y="483.5" width="6.26" height="5.42" fill="rgb(251,251,251)"/><rect x="350.02" y="488.88" width="6.26" height="5.42" fill="rgb(251,251,251)"/><rect x="350.02" y="494.25" width="6.26" height="5.42" fill="rgb(251,251,251)"/><rect x="350.02" y="499.62" width="6.26" height="5.42" fill="rgb(251,251,251)"/><rect x="350.02" y="505" width="6.26" height="5.42" fill="rgb(251,251,251)"/><rect x="350.02" y="510.38" width="6.26" height="5.42" fill="rgb(251,251,251)"/><rect x="350.02" y="515.75" width="6.26" height="5.42" fill="rgb(251,251,251)"/><rect x="356.23" y="483.5" width="6.26" height="5.42" fill="rgb(251,251,251)"/><rect x="356.23" y="488.88" width="6.26" height="5.42" fill="rgb(237,237,237)"/><rect x="356.23" y="494.25" width="6.26" height="5.42" fill="rgb(237,237,237)"/><rect x="356.23" y="499.62" width="6.26" height="5.42" fill="rgb(237,237,237)"/><rect x="356.23" y="505" width="6.26" height="5.42" fill="rgb(237,237,237)"/><rect x="356.23" y="510.38" width="6.26" height="5.42" fill="rgb(237,237,237)"/><rect x="356.23" y="515.75" width="6.26" height="5.42" fill="rgb(251,251,251)"/><rect x="362.44" y="483.5" width="6.26" height="5.42" fill="rgb(251,251,251)"/><rect x="362.44" y="488.88" width="6.26" height="5.42" fill="rgb(237,237,237)"/><rect x="362.44" y="494.25" width="6.26" height="5.42" fill="rgb(191,191,191)"/><rect x="362.44" y="499.62" width="6.26" height="5.42" fill="rgb(158,158,158)"/><rect x="362.44" y="505" width="6.26" height="5.42" fill="rgb(191,191,191)"/><rect x="362.44" y="510.38" width="6.26" height="5.42" fill="rgb(237,237,237)"/><rect x="362.44" y="515.75" width="6.26" height="5.42" fill="rgb(251,251,251)"/><rect x="368.65" y="483.5" width="6.26" height="5.42" fill="rgb(251,251,251)"/><rect x="368.65" y="488.88" width="6.26" height="5.42" fill="rgb(237,237,237)"/><rect x="368.65" y="494.25" width="6.26" height="5.42" fill="rgb(158,158,158)"/><rect x="368.65" y="499.62" width="6.26" height="5.42" fill="rgb(0,0,0)"/><rect x="368.65" y="505" width="6.26" height="5.42" fill="rgb(158,158,158)"/><rect x="368.65" y="510.38" width="6.26" height="5.42" fill="rgb(237,237,237)"/><rect x="368.65" y="515.75" width="6.26" height="5.42" fill="rgb(251,251,251)"/><rect x="374.86" y="483.5" width="6.26" height="5.42" fill="rgb(251,251,251)"/><rect x="374.86" y="488.88" width="6.26" height="5.42" fill="rgb(237,237,237)"/><rect x="374.86" y="494.25" width="6.26" height="5.42" fill="rgb(191,191,191)"/><rect x="374.86" y="499.62" width="6.26" height="5.42" fill="rgb(153,153,153)"/><rect x="374.86" y="505" width="6.26" height="5.42" fill="rgb(191,191,191)"/><rect x="374.86" y="510.38" width="6.26" height="5.42" fill="rgb(237,237,237)"/><rect x="374.86" y="515.75" width="6.26" height="5.42" fill="rgb(251,251,251)"/><rect x="381.07" y="483.5" width="6.26" height="5.42" fill="rgb(251,251,251)"/><rect x="381.07" y="488.88" width="6.26" height="5.42" fill="rgb(237,237,237)"/><rect x="381.07" y="494.25" width="6.26" height="5.42" fill="rgb(237,237,237)"/><rect x="381.07" y="499.62" width="6.26" height="5.42" fill="rgb(237,237,237)"/><rect x="381.07" y="505" width="6.26" height="5.42" fill="rgb(237,237,237)"/><rect x="381.07" y="510.38" width="6.26" height="5.42" fill="rgb(237,237,237)"/><rect x="381.07" y="515.75" width="6.26" height="5.42" fill="rgb(251,251,251)"/><rect x="387.28" y="483.5" width="6.26" height="5.42" fill="rgb(251,251,251)"/><rect x="387.28" y="488.88" width="6.26" height="5.42" fill="rgb(251,251,251)"/><rect x="387.28" y="494.25" width="6.26" height="5.42" fill="rgb(251,251,251)"/><rect x="387.28" y="499.62" width="6.26" height="5.42" fill="rgb(251,251,251)"/><rect x="387.28" y="505" width="6.26" height="5.42" fill="rgb(251,251,251)"/><rect x="387.28" y="510.38" width="6.26" height="5.42" fill="rgb(251,251,251)"/><rect x="387.28" y="515.75" width="6.26" height="5.42" fill="rgb(251,251,251)"/></g>
<path fill="none" stroke="#000" stroke-width="1.55" d="M371.55 473.02C374.74 472.82 377.35 473.4 380.25 474.07C383.15 474.74 386.05 475.81 388.95 477.03C391.85 478.24 394.9 479.93 397.65 481.38C400.41 482.83 403.31 484.28 405.48 485.73C407.66 487.18 409.54 488.34 410.7 490.08C411.86 491.82 412.44 493.7 412.44 496.17C412.44 498.64 411.72 501.97 410.7 504.87C409.69 507.77 408.24 511.11 406.35 513.57C404.47 516.04 402 517.92 399.39 519.66C396.78 521.4 393.88 522.77 390.69 524.01C387.5 525.26 383.73 526.48 380.25 527.15C376.77 527.81 372.71 528.25 369.81 528.02C366.91 527.79 365.46 527.29 362.84 525.76C360.23 524.22 356.46 521.4 354.14 518.79C351.82 516.18 350.08 513.28 348.92 510.09C347.76 506.9 347.18 503.13 347.18 499.65C347.18 496.17 347.76 492.4 348.92 489.21C350.08 486.02 352.11 482.83 354.14 480.51C356.17 478.19 358.2 476.53 361.1 475.29C364 474.04 368.36 473.23 371.55 473.02Z"/>
<path fill="none" stroke="#000" stroke-width="1.55" d="M371.55 486.08C374.01 485.99 377.64 485.93 380.25 486.6C382.86 487.27 385.18 488.63 387.21 490.08C389.24 491.53 391.27 493.41 392.43 495.3C393.59 497.19 394.46 499.36 394.17 501.39C393.88 503.42 392.28 505.45 390.69 507.48C389.09 509.51 386.77 511.89 384.6 513.57C382.42 515.26 379.96 516.76 377.64 517.58C375.32 518.39 372.85 518.68 370.68 518.45C368.5 518.21 366.62 517.43 364.59 516.18C362.55 514.94 360.09 512.99 358.49 510.96C356.9 508.93 355.51 506.47 355.01 504C354.52 501.54 354.81 498.49 355.54 496.17C356.26 493.85 357.71 491.59 359.36 490.08C361.02 488.57 363.42 487.79 365.46 487.12C367.49 486.45 369.08 486.16 371.55 486.08Z"/>
<path fill="none" stroke="#000" stroke-width="1.55" d="M371.55 493.91C372.59 493.86 375.9 494.86 376.77 495.3C377.64 495.73 379.76 497.61 380.25 498.26C380.73 498.9 381.73 500.94 381.64 501.74C381.55 502.54 380 505.52 379.38 506.26C378.75 507.01 376.24 508.87 375.37 509.22C374.5 509.57 371.58 509.92 370.68 509.74C369.77 509.57 367.07 508.06 366.33 507.48C365.58 506.91 363.51 504.78 363.19 504C362.88 503.22 362.88 500.47 363.19 499.65C363.51 498.83 365.49 496.4 366.33 495.82C367.16 495.25 370.5 493.96 371.55 493.91Z"/>
<path stroke="#000" stroke-opacity="0.1" stroke-width="1.7" stroke-linecap="square" d="M138.3 677.2h0M74.4 612.0h0M123.1 655.7h0M113.9 671.1h0M64.2 616.4h0M101.5 590.4h0M150.4 645.8h0M89.3 651.8h0M109.9 669.5h0M131.0 649.2h0M99.1 585.9h0M108.9 667.0h0M136.6 652.7h0M124.1 657.5h0M146.7 638.8h0M152.6 652.8h0M159.5 602.9h0M145.2 653.3h0M149.8 666.5h0M130.2 678.1h0M148.4 673.9h0M147.1 625.6h0M134.3 626.9h0M99.8 659.3h0M81.4 658.5h0M119.0 590.3h0M75.1 666.2h0M120.9 651.7h0M64.4 628.0h0M126.4 652.6h0M141.6 614.2h0M127.7 662.1h0M80.6 637.9h0M134.9 640.6h0M118.4 582.6h0M131.9 648.7h0M135.0 635.8h0M140.9 612.9h0M156.9 657.1h0M147.8 658.2h0M78.7 647.6h0M165.3 653.9h0M119.4 659.6h0M134.3 673.6h0M71.6 625.6h0M129.4 668.1h0M98.2 661.5h0M81.2 644.2h0M74.6 617.7h0M157.7 646.6h0M84.1 647.9h0M134.8 598.3h0M90.0 646.6h0M148.9 673.5h0M78.4 629.4h0M72.2 617.5h0M95.2 587.5h0M109.0 589.3h0M111.4 669.7h0M136.3 640.7h0M88.4 592.0h0M102.1 664.7h0M90.0 663.1h0M142.4 604.5h0M161.7 658.7h0M78.2 626.5h0M137.6 639.9h0M141.5 657.2h0M66.7 611.3h0M84.5 650.7h0M96.1 673.3h0M101.7 663.0h0M146.5 653.0h0M141.6 630.7h0M118.4 656.1h0M65.2 609.4h0M68.4 651.4h0M128.3 654.7h0M72.6 623.4h0M147.8 654.2h0M119.0 655.4h0M151.6 613.2h0M149.0 649.3h0M75.8 634.3h0M150.6 649.8h0M91.2 676.9h0M77.6 629.4h0M157.8 640.7h0M98.0 578.6h0M116.8 680.6h0M133.9 637.3h0M75.4 632.8h0M127.5 682.2h0M119.3 654.3h0M76.7 651.7h0M142.0 616.2h0M155.7 600.3h0M144.4 636.6h0M132.8 640.3h0M145.5 645.5h0M74.2 666.3h0M72.2 667.4h0M140.0 647.3h0M140.7 635.5h0M77.3 620.8h0M85.6 652.0h0M77.2 649.4h0M94.5 682.2h0M144.5 601.9h0M71.5 614.8h0M78.4 598.1h0M127.4 646.7h0M127.0 665.3h0M81.5 634.0h0M77.5 610.2h0M125.4 647.9h0M88.5 675.8h0M132.0 643.6h0M149.7 611.2h0M124.7 662.8h0M129.1 653.8h0M140.3 635.2h0M144.0 641.1h0M128.4 657.8h0M86.1 593.2h0M134.9 640.6h0M97.0 667.1h0M71.9 645.3h0M124.0 657.3h0M140.6 671.6h0M102.8 660.2h0M141.8 627.0h0M130.5 666.2h0M115.1 658.1h0M129.0 652.1h0M136.6 624.5h0M129.8 642.5h0M85.9 637.3h0M121.4 587.3h0M75.9 608.0h0M166.9 660.4h0M149.2 640.6h0M142.8 643.2h0M137.5 656.1h0M135.1 649.5h0M77.9 642.3h0M141.7 657.9h0M142.3 642.0h0M68.0 641.0h0M177.1 635.7h0M140.3 626.9h0M115.9 668.8h0M142.4 606.5h0M93.2 649.7h0M142.5 626.0h0M112.0 659.0h0M75.9 623.4h0M70.1 591.9h0M98.1 658.7h0M101.4 665.1h0M158.7 629.1h0M107.9 673.2h0M164.0 640.0h0M85.6 638.5h0M131.2 674.2h0M93.6 659.0h0M150.8 622.8h0M131.5 639.5h0M132.5 661.5h0M138.1 652.3h0M157.7 633.3h0M118.8 674.4h0M133.4 639.6h0M78.9 647.6h0M120.4 667.5h0M100.0 659.2h0M114.6 584.1h0M146.9 638.6h0M98.3 672.9h0M64.6 591.3h0M155.9 655.9h0M80.4 593.6h0M83.2 634.5h0M116.0 591.0h0M90.0 656.2h0M141.7 630.1h0M94.6 666.6h0M163.3 620.7h0M167.8 646.5h0M131.4 658.4h0M129.3 653.8h0M83.2 596.4h0M122.9 667.0h0M71.4 643.7h0M108.9 673.8h0M130.9 667.5h0M113.7 665.3h0M91.5 649.2h0M103.3 667.9h0M68.1 652.4h0M136.2 630.9h0M77.9 647.7h0M141.5 651.1h0M136.2 628.4h0M145.7 593.3h0M121.6 654.7h0M74.0 644.3h0M110.7 667.2h0M149.3 619.0h0M96.3 679.7h0M154.9 610.5h0M124.5 646.2h0M115.8 662.5h0M135.6 639.1h0M98.8 661.1h0M78.0 620.8h0M127.9 649.0h0M135.0 626.1h0M170.7 646.0h0M84.3 644.5h0M154.1 581.0h0M144.8 629.1h0M92.7 657.8h0M110.0 660.6h0M83.3 645.0h0M86.1 650.8h0M94.6 655.0h0M83.5 634.2h0M137.1 633.4h0M101.8 667.7h0M146.1 633.2h0M82.1 636.4h0M159.5 640.4h0M145.6 659.4h0M78.3 631.2h0M145.5 651.8h0M88.9 590.9h0M83.9 595.0h0"/>
<path stroke="#000" stroke-opacity="0.17" stroke-width="1.7" stroke-linecap="square" d="M70.1 648.6h0M140.5 605.9h0M135.8 664.9h0M130.7 664.3h0M100.6 587.6h0M148.3 643.2h0M143.5 663.6h0M70.4 647.3h0M77.2 641.2h0M120.0 673.4h0M98.7 587.1h0M147.8 629.4h0M81.8 678.4h0M75.0 599.6h0M73.9 626.9h0M149.3 637.8h0M73.9 649.3h0M127.4 672.6h0M147.9 650.6h0M76.7 649.7h0M68.9 635.2h0M152.5 629.2h0M141.9 666.9h0M70.5 672.4h0M145.3 645.7h0M88.2 647.0h0M92.4 586.7h0M77.9 653.0h0M83.3 643.1h0M137.7 637.9h0M143.8 644.1h0M149.3 648.4h0M124.5 651.2h0M126.1 649.4h0M69.7 611.7h0M142.2 670.8h0M157.4 629.4h0M136.5 592.8h0M138.3 625.6h0M115.9 658.3h0M139.5 642.5h0M130.5 661.0h0M89.0 653.0h0M142.3 616.6h0M99.8 589.2h0M63.3 607.2h0M137.1 629.0h0M73.3 586.2h0M100.5 659.4h0M98.5 671.6h0M118.2 659.9h0M77.8 634.7h0M89.2 675.7h0M148.2 656.8h0M135.1 636.3h0M97.7 660.0h0M128.9 642.3h0M133.8 649.9h0M149.1 649.8h0M85.2 594.0h0M142.9 612.1h0M98.5 664.6h0M139.5 628.4h0M109.5 583.2h0M86.3 672.1h0M146.1 626.9h0M81.5 647.8h0M126.3 642.6h0M132.2 597.1h0M94.8 652.4h0M135.3 627.1h0M126.5 665.7h0M141.7 637.0h0M136.7 652.4h0M94.8 658.7h0M71.1 660.5h0M106.3 584.7h0M112.7 659.5h0M131.2 601.6h0M122.0 658.6h0M123.0 672.5h0M81.9 639.3h0M112.9 668.0h0M133.9 666.2h0M143.2 633.0h0M133.7 633.5h0M127.4 595.5h0M169.0 640.0h0M136.4 623.0h0M106.3 675.0h0M129.0 654.7h0M152.5 658.6h0M129.3 640.6h0M88.6 662.7h0M78.3 650.4h0M76.9 606.2h0M90.3 644.1h0M80.9 638.3h0M95.6 682.2h0M146.0 615.6h0M92.5 655.3h0M79.5 584.4h0M134.5 626.4h0M132.9 655.7h0M150.7 650.6h0M136.9 657.8h0M107.8 669.3h0M87.2 643.3h0M109.1 673.5h0M138.7 641.8h0M146.9 653.7h0M69.2 656.2h0M155.2 655.2h0M94.2 661.3h0M90.9 662.7h0M112.8 664.3h0M84.0 594.8h0M134.4 647.9h0M77.9 650.8h0M81.2 644.9h0M123.1 670.1h0M138.6 624.4h0M125.3 645.0h0M95.9 585.3h0M162.2 657.7h0M140.5 602.8h0M98.5 590.6h0M111.9 668.4h0M145.0 645.7h0M69.9 636.7h0M128.8 655.3h0M167.1 665.3h0M63.8 628.0h0M133.4 580.4h0M90.2 658.5h0M86.4 637.3h0M106.2 676.8h0M71.3 607.3h0M83.8 646.2h0M133.9 652.1h0M101.5 668.2h0M140.0 611.6h0M144.7 608.3h0M64.4 624.3h0M65.0 620.3h0M135.8 652.2h0M85.4 648.2h0M127.9 654.6h0M86.4 667.7h0M71.5 631.0h0M132.0 646.8h0M158.5 636.9h0M140.9 646.0h0M63.4 612.4h0M139.7 660.6h0M67.9 592.3h0M112.8 661.6h0M142.5 652.1h0M138.9 633.3h0M124.9 662.5h0M94.9 578.3h0M154.8 606.2h0M127.7 592.1h0M123.1 654.7h0M117.3 672.2h0M124.7 676.9h0M123.0 668.3h0M124.0 650.1h0M132.2 657.3h0M146.7 622.2h0M77.0 580.2h0M68.2 651.3h0M151.3 647.0h0M103.0 659.5h0M124.9 649.4h0M112.3 659.4h0M78.3 629.7h0M101.3 664.2h0M133.0 657.1h0M81.0 668.9h0M103.3 587.9h0M144.9 643.9h0M121.8 663.8h0M138.4 648.8h0M131.2 596.9h0M160.0 618.3h0M80.8 659.7h0M82.5 644.5h0M162.6 617.7h0M122.1 652.8h0M120.7 678.9h0M140.2 636.1h0M80.3 661.2h0M134.4 633.7h0M97.8 657.1h0"/>
<path stroke="#000" stroke-opacity="0.27" stroke-width="1.7" stroke-linecap="square" d="M163.3 646.7h0M79.8 600.7h0M69.7 592.7h0M158.7 645.0h0M101.6 663.4h0M133.1 644.4h0M156.0 640.5h0M147.6 631.8h0M132.1 664.2h0M86.1 679.2h0M149.1 647.9h0M97.4 581.4h0M166.8 651.3h0M134.0 578.8h0M72.6 627.4h0M134.6 649.4h0M131.0 648.9h0M74.7 644.2h0M122.5 593.5h0M165.1 629.4h0M149.7 595.4h0M142.0 647.9h0M136.0 626.0h0M125.9 586.9h0M74.5 612.4h0M102.9 666.5h0M137.6 633.6h0M144.9 641.1h0M136.0 605.3h0M142.4 665.4h0M86.7 637.6h0M92.2 665.4h0M131.0 580.0h0M119.7 664.7h0M75.2 616.2h0M135.8 660.2h0M110.1 665.1h0M67.8 594.2h0M99.0 657.5h0M72.3 602.6h0M111.5 676.2h0M112.5 664.4h0M126.3 661.8h0M141.5 598.3h0M128.8 665.0h0M76.0 631.4h0M75.9 617.8h0M134.0 642.6h0M182.6 638.3h0M165.8 638.6h0M96.3 585.6h0M137.1 639.6h0M89.7 592.8h0M95.0 666.5h0M140.4 628.3h0M90.8 654.0h0M124.5 645.4h0M87.0 636.8h0M138.4 641.7h0M150.6 628.4h0M76.3 669.7h0M139.2 658.2h0M118.5 659.8h0M137.1 649.5h0M119.9 654.5h0M145.7 628.5h0M157.1 649.3h0M88.1 592.7h0M133.8 646.2h0M147.4 620.1h0M132.9 642.5h0M74.5 628.5h0M143.8 655.2h0M101.6 681.3h0M129.3 643.8h0M130.5 667.1h0M154.9 671.3h0M76.3 637.3h0M100.8 663.1h0M147.8 655.3h0M137.8 594.1h0M142.3 639.8h0M134.4 672.8h0M68.6 579.0h0M80.5 633.2h0M114.0 669.6h0M136.1 652.7h0M126.3 590.0h0M89.7 589.7h0M135.4 644.5h0M116.8 587.2h0M95.1 657.7h0M93.4 661.4h0M135.2 635.3h0M112.9 659.4h0M145.7 640.8h0M133.6 642.3h0M134.3 642.8h0M157.8 621.7h0M144.8 598.1h0M147.1 621.1h0M86.0 649.8h0M138.2 665.3h0M96.4 660.9h0M88.5 588.2h0M122.8 662.1h0M71.9 644.5h0M86.7 664.6h0M78.5 631.3h0M139.4 616.3h0M92.4 647.1h0M126.4 642.0h0M121.5 656.5h0M145.0 628.5h0M134.6 642.3h0M137.4 603.9h0M117.4 677.1h0M107.6 673.3h0M68.1 673.3h0M141.3 630.7h0M135.1 659.3h0M92.5 587.2h0"/>
<path stroke="#000" stroke-opacity="0.4" stroke-width="1.7" stroke-linecap="square" d="M152.8 619.9h0M77.2 622.4h0M66.9 609.5h0M133.5 600.4h0M138.3 630.8h0M119.4 662.8h0M134.8 631.3h0M143.7 610.6h0M91.8 664.0h0M114.8 669.1h0M131.5 647.7h0M138.5 645.7h0M138.4 641.6h0M144.4 638.9h0M158.0 683.0h0M134.6 645.1h0M143.3 647.9h0M88.3 677.5h0M113.7 659.1h0M115.5 671.6h0M124.5 651.9h0M132.8 636.6h0M75.4 611.9h0M143.4 588.2h0M84.4 640.0h0M162.1 651.8h0M84.7 667.7h0M128.4 664.3h0M142.1 644.7h0M146.7 638.3h0M130.0 599.5h0M132.4 656.5h0M80.5 644.9h0M143.7 631.8h0M102.9 662.5h0M63.1 677.5h0M84.8 644.8h0M145.0 633.6h0M135.7 645.5h0M130.3 656.3h0M150.8 638.5h0M139.1 635.2h0M142.9 625.5h0M127.6 679.6h0M134.2 658.2h0M65.0 655.2h0M91.5 654.6h0M88.1 638.0h0M144.3 674.5h0M179.1 644.7h0M65.6 611.2h0M138.6 607.3h0M86.2 651.9h0M87.8 653.2h0M176.0 639.3h0M130.2 650.2h0M87.1 592.7h0M103.2 664.7h0"/>
<path stroke="#000" stroke-opacity="0.55" stroke-width="1.7" stroke-linecap="square" d="M148.0 655.4h0M130.1 656.2h0M75.6 640.4h0M154.7 634.4h0M77.4 642.5h0M75.5 651.4h0M137.4 632.2h0M149.7 608.8h0M162.8 624.9h0M147.1 621.5h0M149.7 665.0h0M76.2 656.8h0M65.3 616.7h0M150.9 642.5h0M87.1 654.4h0M114.9 666.6h0M121.3 660.7h0M126.5 666.0h0M132.8 581.2h0M158.8 649.9h0M144.0 626.5h0M146.5 647.1h0M77.8 630.2h0M169.8 667.2h0M139.2 642.5h0M79.1 591.6h0M179.3 641.4h0"/>
<path fill="#fff" d="M101.77 591.05C105.1 590.91 110.61 590.53 113.95 590.88C117.28 591.23 119.17 591.61 121.78 593.14C124.39 594.68 127.29 597.93 129.61 600.1C131.93 602.28 134.25 604.31 135.7 606.2C137.15 608.08 138.17 609.53 138.31 611.42C138.46 613.3 137.3 615.04 136.57 617.51C135.85 619.97 134.4 623.6 133.96 626.21C133.53 628.82 134.83 630.99 133.96 633.17C133.09 635.35 130.48 637.23 128.74 639.26C127 641.29 124.83 643.32 123.52 645.35C122.22 647.38 122.22 649.41 120.91 651.44C119.61 653.47 117.86 656.14 115.69 657.53C113.51 658.93 110.32 659.8 107.86 659.8C105.39 659.8 102.93 658.78 100.9 657.53C98.87 656.29 96.84 654.49 95.68 652.31C94.52 650.14 94.95 646.8 93.94 644.48C92.92 642.16 91.33 640.42 89.59 638.39C87.84 636.36 85.23 634.33 83.49 632.3C81.75 630.27 80.16 628.96 79.14 626.21C78.13 623.45 77.4 619.83 77.4 615.77C77.4 611.71 77.69 605.33 79.14 601.84C80.59 598.36 83.64 596.57 86.1 594.88C88.57 593.2 91.33 592.39 93.94 591.75C96.55 591.11 98.43 591.2 101.77 591.05Z"/>
<clipPath id="c40"><path d="M101.77 591.05C105.1 590.91 110.61 590.53 113.95 590.88C117.28 591.23 119.17 591.61 121.78 593.14C124.39 594.68 127.29 597.93 129.61 600.1C131.93 602.28 134.25 604.31 135.7 606.2C137.15 608.08 138.17 609.53 138.31 611.42C138.46 613.3 137.3 615.04 136.57 617.51C135.85 619.97 134.4 623.6 133.96 626.21C133.53 628.82 134.83 630.99 133.96 633.17C133.09 635.35 130.48 637.23 128.74 639.26C127 641.29 124.83 643.32 123.52 645.35C122.22 647.38 122.22 649.41 120.91 651.44C119.61 653.47 117.86 656.14 115.69 657.53C113.51 658.93 110.32 659.8 107.86 659.8C105.39 659.8 102.93 658.78 100.9 657.53C98.87 656.29 96.84 654.49 95.68 652.31C94.52 650.14 94.95 646.8 93.94 644.48C92.92 642.16 91.33 640.42 89.59 638.39C87.84 636.36 85.23 634.33 83.49 632.3C81.75 630.27 80.16 628.96 79.14 626.21C78.13 623.45 77.4 619.83 77.4 615.77C77.4 611.71 77.69 605.33 79.14 601.84C80.59 598.36 83.64 596.57 86.1 594.88C88.57 593.2 91.33 592.39 93.94 591.75C96.55 591.11 98.43 591.2 101.77 591.05Z"/></clipPath>
<g clip-path="url(#c40)"><rect x="80.63" y="593.62" width="6.26" height="5.42" fill="rgb(251,251,251)"/><rect x="80.63" y="599" width="6.26" height="5.42" fill="rgb(251,251,251)"/><rect x="80.63" y="604.38" width="6.26" height="5.42" fill="rgb(251,251,251)"/><rect x="80.63" y="609.75" width="6.26" height="5.42" fill="rgb(251,251,251)"/><rect x="80.63" y="615.12" width="6.26" height="5.42" fill="rgb(251,251,251)"/><rect x="80.63" y="620.5" width="6.26" height="5.42" fill="rgb(251,251,251)"/><rect x="80.63" y="625.88" width="6.26" height="5.42" fill="rgb(251,251,251)"/><rect x="86.84" y="593.62" width="6.26" height="5.42" fill="rgb(251,251,251)"/><rect x="86.84" y="599" width="6.26" height="5.42" fill="rgb(237,237,237)"/><rect x="86.84" y="604.38" width="6.26" height="5.42" fill="rgb(237,237,237)"/><rect x="86.84" y="609.75" width="6.26" height="5.42" fill="rgb(237,237,237)"/><rect x="86.84" y="615.12" width="6.26" height="5.42" fill="rgb(237,237,237)"/><rect x="86.84" y="620.5" width="6.26" height="5.42" fill="rgb(237,237,237)"/><rect x="86.84" y="625.88" width="6.26" height="5.42" fill="rgb(251,251,251)"/><rect x="93.05" y="593.62" width="6.26" height="5.42" fill="rgb(251,251,251)"/><rect x="93.05" y="599" width="6.26" height="5.42" fill="rgb(237,237,237)"/><rect x="93.05" y="604.38" width="6.26" height="5.42" fill="rgb(191,191,191)"/><rect x="93.05" y="609.75" width="6.26" height="5.42" fill="rgb(158,158,158)"/><rect x="93.05" y="615.12" width="6.26" height="5.42" fill="rgb(191,191,191)"/><rect x="93.05" y="620.5" width="6.26" height="5.42" fill="rgb(237,237,237)"/><rect x="93.05" y="625.88" width="6.26" height="5.42" fill="rgb(251,251,251)"/><rect x="99.26" y="593.62" width="6.26" height="5.42" fill="rgb(251,251,251)"/><rect x="99.26" y="599" width="6.26" height="5.42" fill="rgb(237,237,237)"/><rect x="99.26" y="604.38" width="6.26" height="5.42" fill="rgb(158,158,158)"/><rect x="99.26" y="609.75" width="6.26" height="5.42" fill="rgb(0,0,0)"/><rect x="99.26" y="615.12" width="6.26" height="5.42" fill="rgb(158,158,158)"/><rect x="99.26" y="620.5" width="6.26" height="5.42" fill="rgb(237,237,237)"/><rect x="99.26" y="625.88" width="6.26" height="5.42" fill="rgb(251,251,251)"/><rect x="105.47" y="593.62" width="6.26" height="5.42" fill="rgb(251,251,251)"/><rect x="105.47" y="599" width="6.26" height="5.42" fill="rgb(237,237,237)"/><rect x="105.47" y="604.38" width="6.26" height="5.42" fill="rgb(191,191,191)"/><rect x="105.47" y="609.75" width="6.26" height="5.42" fill="rgb(89,89,89)"/><rect x="105.47" y="615.12" width="6.26" height="5.42" fill="rgb(191,191,191)"/><rect x="105.47" y="620.5" width="6.26" height="5.42" fill="rgb(237,237,237)"/><rect x="105.47" y="625.88" width="6.26" height="5.42" fill="rgb(251,251,251)"/><rect x="111.68" y="593.62" width="6.26" height="5.42" fill="rgb(251,251,251)"/><rect x="111.68" y="599" width="6.26" height="5.42" fill="rgb(237,237,237)"/><rect x="111.68" y="604.38" width="6.26" height="5.42" fill="rgb(237,237,237)"/><rect x="111.68" y="609.75" width="6.26" height="5.42" fill="rgb(237,237,237)"/><rect x="111.68" y="615.12" width="6.26" height="5.42" fill="rgb(237,237,237)"/><rect x="111.68" y="620.5" width="6.26" height="5.42" fill="rgb(237,237,237)"/><rect x="111.68" y="625.88" width="6.26" height="5.42" fill="rgb(251,251,251)"/><rect x="117.89" y="593.62" width="6.26" height="5.42" fill="rgb(251,251,251)"/><rect x="117.89" y="599" width="6.26" height="5.42" fill="rgb(251,251,251)"/><rect x="117.89" y="604.38" width="6.26" height="5.42" fill="rgb(251,251,251)"/><rect x="117.89" y="609.75" width="6.26" height="5.42" fill="rgb(251,251,251)"/><rect x="117.89" y="615.12" width="6.26" height="5.42" fill="rgb(251,251,251)"/><rect x="117.89" y="620.5" width="6.26" height="5.42" fill="rgb(251,251,251)"/><rect x="117.89" y="625.88" width="6.26" height="5.42" fill="rgb(251,251,251)"/></g>
<path fill="none" stroke="#000" stroke-width="1.55" d="M101.77 591.05C105.1 590.91 110.61 590.53 113.95 590.88C117.28 591.23 119.17 591.61 121.78 593.14C124.39 594.68 127.29 597.93 129.61 600.1C131.93 602.28 134.25 604.31 135.7 606.2C137.15 608.08 138.17 609.53 138.31 611.42C138.46 613.3 137.3 615.04 136.57 617.51C135.85 619.97 134.4 623.6 133.96 626.21C133.53 628.82 134.83 630.99 133.96 633.17C133.09 635.35 130.48 637.23 128.74 639.26C127 641.29 124.83 643.32 123.52 645.35C122.22 647.38 122.22 649.41 120.91 651.44C119.61 653.47 117.86 656.14 115.69 657.53C113.51 658.93 110.32 659.8 107.86 659.8C105.39 659.8 102.93 658.78 100.9 657.53C98.87 656.29 96.84 654.49 95.68 652.31C94.52 650.14 94.95 646.8 93.94 644.48C92.92 642.16 91.33 640.42 89.59 638.39C87.84 636.36 85.23 634.33 83.49 632.3C81.75 630.27 80.16 628.96 79.14 626.21C78.13 623.45 77.4 619.83 77.4 615.77C77.4 611.71 77.69 605.33 79.14 601.84C80.59 598.36 83.64 596.57 86.1 594.88C88.57 593.2 91.33 592.39 93.94 591.75C96.55 591.11 98.43 591.2 101.77 591.05Z"/>
<path fill="none" stroke="#000" stroke-width="1.55" d="M102.64 596.97C104.96 596.91 108 596.62 110.47 597.15C112.93 597.67 115.4 598.74 117.43 600.1C119.46 601.47 121.35 603.29 122.65 605.33C123.96 607.36 124.97 609.97 125.26 612.29C125.55 614.61 125.41 616.93 124.39 619.25C123.38 621.57 121.2 624.18 119.17 626.21C117.14 628.24 114.24 630.33 112.21 631.43C110.18 632.53 109.02 632.97 106.99 632.82C104.96 632.68 102.35 631.66 100.03 630.56C97.71 629.46 95.1 627.8 93.07 626.21C91.04 624.61 89.24 623.02 87.84 620.99C86.45 618.96 85.06 616.49 84.71 614.03C84.36 611.56 84.8 608.52 85.76 606.2C86.71 603.88 88.66 601.55 90.46 600.1C92.25 598.65 94.52 598.02 96.55 597.49C98.58 596.97 100.32 597.03 102.64 596.97Z"/>
<path fill="none" stroke="#000" stroke-width="1.55" d="M102.64 604.46C103.68 604.49 107.68 605.24 108.73 605.67C109.77 606.11 112.5 608.14 113.08 608.81C113.65 609.47 114.47 611.5 114.47 612.29C114.47 613.07 113.65 615.85 113.08 616.64C112.5 617.42 109.69 619.65 108.73 620.12C107.77 620.59 104.55 621.34 103.51 621.34C102.46 621.34 99.16 620.59 98.29 620.12C97.42 619.65 95.29 617.42 94.81 616.64C94.32 615.85 93.41 613.21 93.41 612.29C93.41 611.36 94.32 608.11 94.81 607.41C95.29 606.72 97.5 605.62 98.29 605.33C99.07 605.03 101.59 604.42 102.64 604.46Z"/>
<path stroke="#000" stroke-opacity="0.1" stroke-width="1.7" stroke-linecap="square" d="M204.4 667.1h0M214.3 673.6h0M242.1 629.6h0M218.7 670.9h0M254.0 649.0h0M231.1 661.4h0M252.7 657.7h0M212.7 679.7h0M249.2 619.2h0M226.3 581.8h0M246.9 635.2h0M266.8 649.2h0M225.6 652.6h0M219.5 592.6h0M247.8 667.5h0M208.7 670.2h0M235.9 629.7h0M215.5 590.6h0M211.7 654.6h0M225.7 644.2h0M249.3 663.0h0M231.2 656.1h0M258.7 637.2h0M232.0 596.4h0M246.2 660.5h0M237.0 637.1h0M247.8 661.7h0M206.1 583.0h0M241.6 632.1h0M236.0 651.1h0M221.0 593.8h0M273.6 653.1h0M251.7 674.2h0M231.2 656.2h0M238.8 645.2h0M250.7 649.7h0M234.4 652.6h0M258.3 645.6h0M218.7 652.5h0M236.3 650.9h0M207.0 664.4h0M227.5 666.5h0M233.7 639.8h0M215.2 660.7h0M217.1 585.0h0M263.8 620.2h0M225.4 647.1h0M256.1 648.6h0M229.7 655.9h0M252.0 650.8h0M235.2 638.4h0M253.0 660.2h0M242.1 629.3h0M243.3 627.7h0M264.5 661.4h0M222.1 666.8h0M258.3 632.5h0M244.0 662.8h0M259.0 646.2h0M224.4 588.4h0M235.8 652.4h0M228.0 644.2h0M230.5 669.0h0M231.4 595.1h0M220.1 648.2h0M250.2 633.7h0M236.3 640.2h0M247.8 649.0h0M268.6 642.0h0M239.1 641.7h0M237.1 628.0h0M244.9 634.5h0M251.7 642.2h0M212.5 664.4h0M280.9 597.1h0M202.3 590.3h0M243.7 622.7h0M244.6 596.8h0M279.7 641.7h0M226.5 654.4h0M233.2 660.0h0M256.7 666.6h0M225.8 658.4h0M221.5 671.8h0M212.8 580.3h0M247.7 659.0h0M255.4 634.9h0M238.3 659.9h0M265.3 660.6h0M234.3 661.6h0M216.2 659.3h0M229.9 651.3h0M226.0 656.6h0M201.6 582.6h0M211.9 654.3h0M225.5 654.8h0M227.1 669.0h0M225.9 671.4h0M230.6 655.4h0M245.9 631.6h0M259.6 653.7h0M201.2 655.6h0M238.4 634.2h0M248.9 666.0h0M265.7 641.7h0M226.1 664.6h0M263.9 637.9h0M261.5 656.5h0M247.3 622.6h0M253.4 662.6h0M201.8 590.4h0M234.0 658.7h0M231.6 642.0h0M235.4 635.7h0M246.2 622.0h0M216.7 585.5h0M263.5 649.6h0M223.6 672.6h0M228.1 663.9h0M221.2 587.8h0M258.3 644.6h0M240.2 654.4h0M226.5 640.1h0M245.7 644.2h0M202.5 586.5h0M240.5 656.7h0M233.5 655.0h0M214.1 653.6h0M233.0 640.3h0M214.2 653.3h0M221.7 666.0h0M235.3 634.3h0M216.4 659.9h0M240.8 634.1h0M202.6 581.0h0M269.0 673.6h0M252.7 606.8h0M201.6 670.1h0M236.7 652.0h0M232.1 652.6h0M242.6 602.6h0M220.7 582.2h0M245.3 677.2h0M229.6 669.4h0M226.5 644.7h0M231.6 673.2h0M241.1 680.5h0M244.4 589.1h0M229.7 664.9h0M225.9 644.1h0M210.0 663.4h0M231.1 639.7h0M242.4 640.6h0M234.0 646.2h0M232.3 601.3h0M233.6 628.3h0M228.9 660.3h0M238.4 654.3h0M227.4 661.2h0M226.6 579.3h0M224.1 646.3h0M269.8 657.7h0M219.4 671.1h0M231.4 640.9h0M236.6 655.0h0M220.9 665.7h0M236.1 591.8h0M204.9 670.1h0M250.6 661.1h0M246.4 629.9h0M209.4 589.8h0M246.4 644.3h0M219.9 659.7h0M219.5 680.4h0M222.5 653.5h0M240.2 630.2h0M210.8 588.4h0M226.3 596.3h0M203.7 657.4h0M205.3 682.8h0M237.7 635.9h0M220.9 651.0h0M263.9 668.6h0M241.6 664.5h0M224.3 580.8h0M236.9 646.3h0M216.0 578.4h0M216.3 654.1h0M246.4 668.6h0M221.0 666.3h0M269.3 662.3h0M230.4 648.7h0M230.7 647.9h0M248.1 673.6h0M270.5 659.6h0M204.7 586.5h0M226.3 659.4h0M224.3 665.1h0M224.3 655.6h0M223.3 656.2h0M237.7 610.8h0M245.2 631.5h0M235.5 664.2h0M209.1 671.8h0M239.9 670.8h0M228.4 647.7h0M264.1 648.7h0M246.7 640.0h0M225.6 664.2h0M240.0 678.2h0M228.9 598.7h0M219.1 578.3h0M239.2 633.7h0M215.6 656.4h0M240.6 618.3h0M240.4 650.8h0M212.1 655.4h0M235.0 662.4h0M248.7 640.7h0M241.7 642.4h0M209.3 681.1h0M211.7 581.6h0M201.2 579.7h0M237.1 617.6h0M211.2 656.1h0M237.6 636.8h0M234.0 630.8h0M215.5 668.2h0M218.3 661.8h0M216.9 586.7h0M212.7 580.5h0M241.4 652.2h0M229.8 672.2h0M231.8 642.8h0M236.7 580.0h0M219.8 647.9h0M220.5 665.2h0M227.2 598.6h0M232.1 657.1h0M237.2 619.8h0M238.7 643.2h0M249.3 650.5h0M226.2 659.2h0M232.3 655.2h0M241.0 634.9h0M219.9 654.5h0M225.5 671.6h0M257.6 679.9h0M247.3 664.4h0M232.7 637.9h0M237.5 669.1h0M248.2 644.2h0M211.4 653.9h0M252.6 651.4h0M210.6 668.4h0M248.3 636.6h0M238.5 640.9h0M222.5 584.2h0M239.3 639.8h0M239.2 644.1h0M276.0 651.9h0M243.5 660.4h0M225.3 666.4h0M220.9 656.5h0M210.3 666.7h0M230.1 674.9h0M224.3 674.4h0M232.0 631.5h0M245.1 578.8h0M211.0 655.1h0M213.0 664.2h0M235.6 586.2h0M233.9 674.1h0M271.7 661.8h0M208.1 582.9h0M248.7 627.2h0M242.8 658.6h0M220.8 659.3h0M240.2 624.6h0M273.9 660.1h0M221.3 589.0h0M206.6 656.7h0M232.8 667.8h0M226.2 646.7h0M221.2 670.6h0"/>
<path stroke="#000" stroke-opacity="0.17" stroke-width="1.7" stroke-linecap="square" d="M229.3 667.9h0M252.5 619.8h0M215.1 653.1h0M228.9 584.7h0M240.9 627.9h0M256.6 657.5h0M209.4 660.4h0M235.5 586.0h0M222.9 588.4h0M246.3 671.7h0M215.4 657.3h0M255.3 658.6h0M205.5 668.2h0M229.0 677.6h0M222.1 652.8h0M223.2 682.6h0M212.9 654.1h0M223.8 655.7h0M232.7 600.5h0M225.1 659.9h0M261.4 663.3h0M237.5 643.2h0M234.8 648.7h0M202.6 675.9h0M250.9 637.0h0M209.5 585.4h0M243.9 670.9h0M214.2 662.7h0M229.8 648.4h0M242.9 618.3h0M237.8 650.5h0M201.0 590.1h0M225.5 652.1h0M229.2 589.7h0M244.4 657.8h0M229.8 672.6h0M224.6 648.7h0M251.8 681.9h0M226.2 657.5h0M240.7 628.9h0M230.5 645.5h0M223.9 660.9h0M267.5 666.2h0M227.3 583.1h0M224.5 650.1h0M227.8 648.7h0M211.3 655.4h0M239.6 624.7h0M202.4 666.2h0M226.2 668.8h0M244.7 625.3h0M232.1 665.2h0M227.4 643.4h0M217.3 653.8h0M252.7 582.4h0M222.3 653.2h0M203.6 677.6h0M253.7 579.0h0M227.5 670.1h0M234.4 651.2h0M217.4 583.2h0M228.0 660.4h0M201.9 671.2h0M220.2 647.8h0M230.3 642.5h0M252.2 626.1h0M206.7 657.3h0M240.3 657.1h0M221.4 673.9h0M255.4 641.6h0M238.5 619.4h0M250.9 607.6h0M276.1 629.6h0M233.7 665.7h0M249.4 652.5h0M259.5 612.3h0M244.4 638.5h0M228.5 662.1h0M236.2 669.7h0M234.8 634.4h0M232.2 644.4h0M243.1 658.1h0M267.6 664.0h0M258.2 648.6h0M224.3 676.7h0M241.3 669.9h0M240.3 629.9h0M221.6 658.5h0M252.5 629.4h0M244.6 618.7h0M237.8 640.6h0M206.9 659.7h0M235.4 624.5h0M204.0 586.0h0M232.9 650.5h0M224.4 658.4h0M271.4 683.7h0M234.6 623.7h0M208.0 672.6h0M207.7 657.4h0M230.5 639.1h0M246.9 648.8h0M226.5 658.8h0M234.2 659.1h0M209.8 666.5h0M242.9 666.2h0M202.5 683.5h0M217.2 667.8h0M225.2 591.4h0M260.2 645.7h0M246.8 627.6h0M276.6 677.2h0M258.9 605.6h0M235.7 673.1h0M250.6 646.7h0M223.7 669.1h0M252.7 654.8h0M249.3 628.2h0M216.5 658.4h0M257.7 649.2h0M239.9 596.3h0M230.4 647.6h0M222.9 677.4h0M249.4 636.7h0M226.3 678.3h0M262.9 649.2h0M220.0 678.4h0M201.0 659.6h0M233.8 660.9h0M207.8 660.8h0M236.9 640.9h0M228.9 650.4h0M245.4 658.8h0M243.0 624.8h0M246.5 655.5h0M240.0 663.5h0M243.7 633.2h0M227.4 654.4h0M213.8 683.0h0M224.7 668.3h0M243.4 649.0h0M225.0 679.7h0M228.2 643.4h0M225.9 649.6h0M249.3 648.5h0M224.9 641.8h0M251.1 682.4h0M262.1 676.5h0M218.7 665.6h0M233.4 638.4h0M202.1 590.1h0M246.5 653.4h0M240.1 615.1h0M208.5 675.5h0M267.0 658.7h0M239.6 654.8h0M253.6 656.4h0M236.5 660.6h0M202.4 658.1h0M239.9 664.7h0M228.0 640.5h0M225.6 657.2h0M233.6 640.0h0M202.4 666.9h0M205.3 665.0h0M227.9 585.9h0M227.0 665.5h0M249.4 626.8h0M234.8 679.5h0M206.7 582.4h0M203.9 655.9h0M231.4 676.8h0M229.5 660.6h0M239.4 646.2h0M225.1 580.2h0M238.9 637.6h0M215.4 659.2h0M245.5 626.7h0M232.0 591.7h0M258.2 655.9h0M214.4 580.7h0M234.5 587.9h0M206.4 658.6h0M249.4 644.0h0M236.2 644.8h0M256.5 654.5h0M204.6 655.3h0M234.8 603.3h0M257.4 635.2h0M246.2 666.0h0M245.3 633.2h0M235.0 649.7h0M247.1 614.1h0M246.7 617.1h0M245.0 622.8h0M247.0 649.5h0M229.5 659.4h0M227.2 665.6h0M244.5 647.7h0M218.4 676.4h0M223.9 646.6h0M221.6 648.4h0M207.1 589.2h0M216.0 658.3h0M233.0 588.3h0M237.7 668.4h0M239.1 652.9h0M204.8 657.2h0M228.9 651.3h0M233.7 597.0h0M243.2 604.8h0M278.2 647.7h0M235.7 657.0h0M250.8 647.1h0M242.0 630.6h0M248.1 645.2h0M243.8 666.7h0M249.6 608.4h0M228.5 667.0h0M265.2 634.9h0M229.8 674.9h0M237.7 632.6h0M202.4 665.1h0M253.6 635.1h0"/>
<path stroke="#000" stroke-opacity="0.27" stroke-width="1.7" stroke-linecap="square" d="M222.1 647.7h0M241.3 661.4h0M227.9 642.7h0M239.9 665.7h0M231.0 636.7h0M234.4 640.4h0M226.6 639.5h0M261.1 641.8h0M245.7 665.3h0M212.1 658.9h0M230.1 651.8h0M241.1 587.3h0M233.5 648.9h0M205.7 589.8h0M222.0 673.3h0M200.6 584.4h0M243.5 646.3h0M249.7 643.5h0M204.9 667.4h0M233.3 631.3h0M229.7 599.6h0M248.4 656.0h0M210.2 586.1h0M244.8 633.3h0M215.0 667.9h0M207.0 665.6h0M245.5 646.0h0M235.1 605.4h0M265.7 636.6h0M252.2 640.4h0M202.4 675.2h0M226.4 647.3h0M253.6 618.5h0M221.0 647.5h0M234.6 668.6h0M258.3 657.8h0M224.0 683.2h0M243.6 598.1h0M236.1 599.6h0M231.7 653.1h0M249.4 629.1h0M221.8 667.6h0M232.0 670.0h0M246.7 661.3h0M258.4 641.8h0M262.1 650.3h0M241.4 645.0h0M248.2 651.6h0M235.8 664.5h0M202.1 661.6h0M237.1 650.4h0M245.7 643.8h0M232.0 651.1h0M242.3 631.3h0M201.0 663.0h0M249.0 662.4h0M225.9 652.8h0M267.8 643.2h0M236.3 642.8h0M242.3 600.5h0M260.8 645.5h0M216.8 661.0h0M233.6 677.9h0M214.8 674.3h0M236.2 657.9h0M226.6 674.7h0M231.7 640.6h0M234.1 674.5h0M230.5 656.9h0M265.5 627.5h0M237.1 651.0h0M244.5 659.6h0M244.4 672.3h0M242.3 677.1h0M252.3 648.6h0M220.6 670.5h0M245.1 643.9h0M237.1 641.3h0M249.7 667.1h0M229.3 638.2h0M232.3 653.8h0M243.6 655.7h0M237.4 659.3h0M229.0 636.7h0M268.1 664.3h0M233.5 600.5h0M233.1 631.9h0M212.1 667.2h0M225.3 642.0h0M241.3 596.6h0M225.6 647.1h0M245.8 666.9h0M259.1 646.3h0M260.2 599.6h0M227.4 653.7h0M226.6 651.5h0M229.8 650.4h0M265.8 677.7h0M259.3 654.9h0M212.1 668.3h0M221.5 658.5h0M228.9 652.1h0M245.4 633.7h0M236.2 635.7h0M265.1 672.7h0M220.2 657.5h0M238.0 671.7h0M222.9 583.5h0M235.0 654.2h0M226.9 664.4h0M232.0 645.9h0M210.9 675.9h0M265.3 612.5h0M242.0 619.3h0M229.0 665.4h0M223.5 660.2h0M236.8 628.7h0M230.5 635.5h0M239.3 674.6h0M228.6 676.4h0M249.0 586.2h0M227.4 649.0h0M238.2 622.5h0M243.1 665.1h0M239.5 641.5h0M224.4 655.0h0M260.3 643.0h0M250.7 632.7h0M251.1 619.4h0M224.4 661.2h0M221.7 647.5h0M243.4 677.0h0M259.8 616.6h0M226.2 660.5h0M254.5 657.2h0M249.9 611.6h0M272.6 634.4h0M235.2 623.5h0M236.0 658.6h0M201.2 672.2h0M208.2 665.0h0M249.0 600.6h0M241.8 635.7h0M268.1 642.5h0M226.8 671.1h0M241.8 649.5h0M215.6 670.0h0M228.8 596.5h0M226.6 641.8h0M237.1 662.5h0M232.1 664.1h0M253.3 649.4h0M238.5 648.8h0M244.4 672.4h0M201.4 585.0h0M208.2 587.9h0M205.9 666.4h0M219.1 653.5h0M295.6 681.9h0M232.1 635.3h0M252.5 655.8h0M230.7 663.2h0M201.9 662.3h0M224.9 657.3h0M246.4 638.4h0M257.2 644.9h0M220.0 651.9h0M235.7 662.6h0M256.8 644.3h0"/>
<path stroke="#000" stroke-opacity="0.4" stroke-width="1.7" stroke-linecap="square" d="M214.6 684.0h0M221.9 651.5h0M242.6 641.3h0M272.2 633.7h0M219.3 650.7h0M224.4 650.6h0M251.4 653.0h0M239.5 674.2h0M257.3 634.2h0M216.5 665.8h0M250.9 636.1h0M234.9 645.5h0M238.9 635.3h0M242.7 647.1h0M211.1 656.3h0M231.5 654.6h0M258.5 631.6h0M220.2 588.0h0M211.0 662.5h0M238.5 629.5h0M248.9 638.3h0M241.5 633.2h0M225.9 660.1h0M249.8 657.0h0M210.4 682.9h0M220.5 654.1h0M255.4 644.2h0M265.9 657.1h0M213.6 588.9h0M253.5 653.9h0M237.7 644.2h0M235.0 649.2h0M207.3 667.8h0M206.2 661.8h0M241.4 661.3h0M275.6 680.3h0M210.1 674.4h0M237.4 632.7h0M250.3 640.3h0M220.1 651.1h0M202.6 582.2h0M235.1 629.1h0M246.8 656.2h0M248.9 626.4h0M252.8 609.9h0M235.5 667.5h0M263.6 640.0h0M202.7 665.3h0M201.7 659.9h0M249.8 649.1h0M210.3 669.8h0M227.9 642.5h0M230.5 650.8h0M262.1 660.2h0M232.2 648.5h0M213.6 668.1h0M232.2 646.1h0M227.0 661.6h0M228.7 641.9h0M214.6 683.4h0M239.3 632.4h0M215.3 665.6h0M215.4 653.4h0M210.0 590.2h0M225.5 650.9h0M244.1 647.2h0M240.4 640.5h0M257.7 635.8h0M245.7 653.9h0M209.1 664.5h0M234.7 628.2h0M221.9 669.5h0M244.1 652.2h0M242.6 666.0h0M239.8 650.3h0M283.3 670.3h0M253.4 617.8h0M227.6 658.0h0M236.0 631.5h0M212.2 654.1h0M238.5 651.5h0M250.3 601.1h0M221.9 584.9h0M232.2 656.9h0M239.4 661.8h0"/>
<path stroke="#000" stroke-opacity="0.55" stroke-width="1.7" stroke-linecap="square" d="M255.0 648.4h0M217.0 671.6h0M255.2 611.9h0M263.8 668.3h0M232.8 640.1h0M209.7 669.4h0M252.3 649.0h0M225.5 662.5h0M234.1 646.6h0M240.7 648.3h0M234.0 666.4h0M203.2 661.9h0M231.2 651.5h0M255.5 668.5h0M204.0 656.4h0M243.3 636.3h0M239.2 629.6h0M252.8 656.1h0M264.9 643.0h0M219.5 649.3h0M236.5 660.6h0M238.0 650.3h0M232.0 667.6h0M202.0 665.6h0M228.4 584.6h0M223.2 667.8h0M215.5 654.0h0M223.6 643.7h0M239.7 621.4h0M217.7 664.1h0M238.0 607.3h0M204.7 671.2h0M250.6 582.0h0M210.1 585.2h0M246.0 647.2h0M253.7 643.6h0M233.1 629.7h0"/>
<path fill="#fff" d="M199.8 590.53C201.07 590.68 204.43 590.82 207.44 591.4C210.46 591.98 214.69 592.85 217.88 594.01C221.07 595.17 224.12 596.77 226.59 598.36C229.05 599.96 230.99 601.55 232.68 603.59C234.36 605.62 236.01 608.23 236.68 610.55C237.35 612.87 237.2 614.9 236.68 617.51C236.16 620.12 234.79 623.31 233.55 626.21C232.3 629.11 230.79 632.15 229.2 634.91C227.6 637.67 226 640.13 223.97 642.74C221.94 645.35 219.48 648.63 217.01 650.57C214.55 652.52 212.05 653.53 209.18 654.4C206.31 655.27 201.36 655.56 199.8 655.79Z"/>
<clipPath id="c41"><path d="M199.8 590.53C201.07 590.68 204.43 590.82 207.44 591.4C210.46 591.98 214.69 592.85 217.88 594.01C221.07 595.17 224.12 596.77 226.59 598.36C229.05 599.96 230.99 601.55 232.68 603.59C234.36 605.62 236.01 608.23 236.68 610.55C237.35 612.87 237.2 614.9 236.68 617.51C236.16 620.12 234.79 623.31 233.55 626.21C232.3 629.11 230.79 632.15 229.2 634.91C227.6 637.67 226 640.13 223.97 642.74C221.94 645.35 219.48 648.63 217.01 650.57C214.55 652.52 212.05 653.53 209.18 654.4C206.31 655.27 201.36 655.56 199.8 655.79Z"/></clipPath>
<g clip-path="url(#c41)"><rect x="199.8" y="593.62" width="6.26" height="5.42" fill="rgb(251,251,251)"/><rect x="199.8" y="599" width="6.26" height="5.42" fill="rgb(237,237,237)"/><rect x="199.8" y="604.38" width="6.26" height="5.42" fill="rgb(158,158,158)"/><rect x="199.8" y="609.75" width="6.26" height="5.42" fill="rgb(0,0,0)"/><rect x="199.8" y="615.12" width="6.26" height="5.42" fill="rgb(158,158,158)"/><rect x="199.8" y="620.5" width="6.26" height="5.42" fill="rgb(237,237,237)"/><rect x="199.8" y="625.88" width="6.26" height="5.42" fill="rgb(251,251,251)"/><rect x="206.01" y="593.62" width="6.26" height="5.42" fill="rgb(251,251,251)"/><rect x="206.01" y="599" width="6.26" height="5.42" fill="rgb(237,237,237)"/><rect x="206.01" y="604.38" width="6.26" height="5.42" fill="rgb(191,191,191)"/><rect x="206.01" y="609.75" width="6.26" height="5.42" fill="rgb(204,204,204)"/><rect x="206.01" y="615.12" width="6.26" height="5.42" fill="rgb(191,191,191)"/><rect x="206.01" y="620.5" width="6.26" height="5.42" fill="rgb(237,237,237)"/><rect x="206.01" y="625.88" width="6.26" height="5.42" fill="rgb(251,251,251)"/><rect x="212.22" y="593.62" width="6.26" height="5.42" fill="rgb(251,251,251)"/><rect x="212.22" y="599" width="6.26" height="5.42" fill="rgb(237,237,237)"/><rect x="212.22" y="604.38" width="6.26" height="5.42" fill="rgb(237,237,237)"/><rect x="212.22" y="609.75" width="6.26" height="5.42" fill="rgb(237,237,237)"/><rect x="212.22" y="615.12" width="6.26" height="5.42" fill="rgb(237,237,237)"/><rect x="212.22" y="620.5" width="6.26" height="5.42" fill="rgb(237,237,237)"/><rect x="212.22" y="625.88" width="6.26" height="5.42" fill="rgb(251,251,251)"/><rect x="218.43" y="593.62" width="6.26" height="5.42" fill="rgb(251,251,251)"/><rect x="218.43" y="599" width="6.26" height="5.42" fill="rgb(251,251,251)"/><rect x="218.43" y="604.38" width="6.26" height="5.42" fill="rgb(251,251,251)"/><rect x="218.43" y="609.75" width="6.26" height="5.42" fill="rgb(251,251,251)"/><rect x="218.43" y="615.12" width="6.26" height="5.42" fill="rgb(251,251,251)"/><rect x="218.43" y="620.5" width="6.26" height="5.42" fill="rgb(251,251,251)"/><rect x="218.43" y="625.88" width="6.26" height="5.42" fill="rgb(251,251,251)"/></g>
<path fill="none" stroke="#000" stroke-width="1.55" d="M199.8 590.53C201.07 590.68 204.43 590.82 207.44 591.4C210.46 591.98 214.69 592.85 217.88 594.01C221.07 595.17 224.12 596.77 226.59 598.36C229.05 599.96 230.99 601.55 232.68 603.59C234.36 605.62 236.01 608.23 236.68 610.55C237.35 612.87 237.2 614.9 236.68 617.51C236.16 620.12 234.79 623.31 233.55 626.21C232.3 629.11 230.79 632.15 229.2 634.91C227.6 637.67 226 640.13 223.97 642.74C221.94 645.35 219.48 648.63 217.01 650.57C214.55 652.52 212.05 653.53 209.18 654.4C206.31 655.27 201.36 655.56 199.8 655.79"/>
<path fill="none" stroke="#000" stroke-width="1.55" d="M199.8 596.28C201.07 596.62 205.01 597.44 207.44 598.36C209.88 599.29 212.37 600.54 214.4 601.84C216.43 603.15 218.32 604.46 219.62 606.2C220.93 607.94 221.94 610.11 222.23 612.29C222.52 614.46 222.23 616.93 221.36 619.25C220.49 621.57 218.75 624.03 217.01 626.21C215.27 628.38 212.95 630.85 210.92 632.3C208.89 633.75 206.69 634.33 204.83 634.91C202.98 635.49 200.64 635.64 199.8 635.78"/>
<path fill="none" stroke="#000" stroke-width="1.55" d="M199.8 605.33C200.13 605.41 202.41 605.85 203.09 606.2C203.77 606.54 206 608.2 206.57 608.81C207.15 609.41 208.83 611.5 208.83 612.29C208.83 613.07 207.15 615.94 206.57 616.64C206 617.33 203.77 618.9 203.09 619.25C202.41 619.6 200.13 620.03 199.8 620.12"/>
<path stroke="#000" stroke-opacity="0.1" stroke-width="1.7" stroke-linecap="square" d="M344.5 581.5h0M422.3 659.0h0M389.6 605.9h0M428.8 665.7h0M341.7 584.5h0M410.9 656.0h0M410.1 655.0h0M430.5 665.1h0M434.7 670.9h0M431.2 666.8h0M347.3 586.7h0M446.9 672.0h0M422.3 663.8h0M433.5 666.0h0M343.1 596.4h0M427.6 664.3h0M394.5 613.9h0M435.3 667.0h0M347.5 588.1h0M396.8 618.1h0M414.7 652.7h0M423.0 656.1h0M442.4 671.6h0M339.5 587.0h0M419.0 660.2h0M414.8 654.4h0M438.8 668.7h0M443.7 670.1h0M352.0 614.5h0M359.1 584.8h0M425.5 665.1h0M425.3 661.1h0M436.2 667.6h0M421.1 656.5h0M443.4 678.7h0M420.9 660.4h0M418.3 657.5h0M429.5 661.3h0M416.2 657.6h0M443.9 673.6h0M418.1 656.8h0M432.6 669.0h0M350.7 591.0h0M416.6 659.6h0M407.4 652.9h0M412.2 652.2h0M419.8 659.4h0M346.9 588.3h0M419.3 660.7h0M423.6 661.5h0M348.4 595.9h0M429.1 666.3h0M346.6 620.2h0M419.3 660.1h0M414.8 656.9h0M439.2 670.4h0M430.3 666.8h0M411.4 651.8h0M421.3 658.4h0M432.0 666.7h0M420.4 659.1h0M424.3 659.9h0M420.7 659.5h0M417.7 656.5h0M450.4 674.8h0M436.0 666.8h0M422.7 659.4h0M422.7 655.7h0M343.8 588.6h0M412.6 659.2h0M351.6 584.2h0M413.5 654.9h0M424.4 658.6h0M348.5 585.7h0M423.0 659.4h0M388.8 650.0h0M404.8 629.5h0M346.6 587.8h0M454.9 680.8h0M427.2 663.6h0M441.5 670.3h0M432.4 666.0h0M425.8 660.2h0M349.9 588.3h0M422.4 661.7h0M417.5 653.7h0M348.1 598.7h0M440.0 672.9h0M434.0 667.2h0M446.9 675.8h0M455.2 679.9h0M411.1 652.9h0M414.7 657.4h0M404.1 626.6h0M419.9 656.5h0M448.1 678.7h0M348.8 585.6h0M450.2 675.2h0M353.5 622.1h0M412.8 655.3h0M342.1 611.9h0M395.0 651.0h0M348.0 589.5h0M430.0 662.0h0M442.2 670.8h0M342.9 586.0h0M427.0 662.9h0M414.2 656.9h0M418.1 656.4h0M415.6 656.1h0M411.9 652.1h0M434.7 669.1h0M346.5 590.5h0M411.8 651.3h0M447.8 675.4h0M372.0 633.4h0M398.8 624.5h0M429.1 661.7h0M444.0 673.4h0M414.9 650.5h0M409.2 654.4h0M425.7 662.9h0M375.3 595.8h0M422.9 659.0h0M347.4 589.6h0M433.9 668.4h0M424.2 664.3h0M346.7 591.3h0M422.0 660.5h0M434.1 662.6h0M415.0 654.7h0M422.6 659.1h0M427.3 665.7h0M386.4 643.3h0M428.8 664.9h0M415.0 656.0h0M342.6 583.4h0M349.9 591.1h0M412.7 657.0h0M418.8 656.4h0M416.0 652.2h0M432.4 667.9h0M418.9 659.3h0M422.4 656.7h0M443.8 674.0h0M425.3 662.0h0M445.7 676.4h0M422.2 666.9h0M439.8 671.8h0M347.2 607.4h0M412.5 658.1h0M417.5 654.1h0M447.9 674.7h0M411.6 654.4h0M420.6 657.3h0M415.7 658.4h0M416.3 663.3h0M345.2 586.9h0M430.4 661.9h0M347.6 596.2h0M444.0 674.9h0M422.2 659.4h0M420.5 658.5h0M340.3 583.4h0M425.1 666.0h0M364.5 642.5h0M456.1 677.7h0M445.6 678.2h0M360.6 631.9h0M421.3 660.1h0M415.3 657.2h0M349.2 608.9h0M348.1 587.1h0M424.7 661.5h0M400.7 652.2h0M429.7 663.8h0M420.2 657.7h0M430.0 669.0h0M423.7 664.5h0M417.4 655.8h0M458.0 682.4h0M351.0 591.1h0M430.1 662.9h0M352.5 588.2h0M347.4 587.2h0M402.9 651.9h0M346.8 593.5h0M437.7 671.4h0M393.7 611.6h0M414.8 658.4h0M341.9 583.9h0M350.2 590.7h0M352.7 612.9h0M349.6 590.4h0M343.9 586.1h0M342.2 607.6h0M435.7 666.1h0M414.0 651.9h0M414.2 652.5h0M422.5 658.5h0M456.7 679.2h0M426.5 660.9h0M421.5 662.3h0M411.3 655.1h0M416.0 651.3h0M339.0 581.6h0M426.9 663.9h0M349.2 589.2h0M345.9 590.4h0M436.6 666.6h0M441.1 671.7h0M347.3 588.8h0M419.4 659.7h0M397.9 652.6h0M348.4 590.2h0"/>
<path stroke="#000" stroke-opacity="0.17" stroke-width="1.7" stroke-linecap="square" d="M404.5 652.1h0M344.1 586.8h0M425.5 662.6h0M427.8 665.9h0M447.1 673.4h0M345.9 590.5h0M351.6 591.6h0M421.6 661.1h0M417.1 654.2h0M415.0 656.0h0M339.6 578.9h0M419.1 654.2h0M424.1 665.9h0M342.3 585.3h0M413.7 654.5h0M417.8 656.5h0M389.7 643.4h0M414.0 654.7h0M350.5 589.9h0M419.3 658.9h0M420.7 662.6h0M347.9 593.7h0M347.7 593.2h0M414.4 650.2h0M424.2 661.0h0M424.0 656.6h0M423.6 662.1h0M421.6 659.8h0M349.5 593.4h0M458.5 680.5h0M387.3 645.9h0M427.3 657.6h0M351.7 614.0h0M422.2 646.6h0M344.5 590.2h0M348.8 588.8h0M440.1 668.3h0M344.1 586.1h0M349.1 597.6h0M419.6 661.2h0M423.8 656.8h0M413.8 652.4h0M423.5 659.5h0M417.6 653.7h0M411.8 651.0h0M423.4 658.0h0M441.3 673.0h0M349.2 595.2h0M431.4 665.5h0M434.3 667.5h0M398.8 620.1h0M415.4 657.2h0M371.8 635.4h0M421.5 662.1h0M417.5 658.1h0M345.3 599.1h0M392.9 644.6h0M412.6 652.9h0M347.8 593.7h0M342.5 588.5h0M347.5 587.2h0M349.3 613.2h0M428.1 665.8h0M347.4 588.7h0M435.5 667.6h0M438.8 671.2h0M413.4 653.6h0M413.7 637.3h0M339.5 585.1h0M350.5 608.3h0M423.3 661.0h0M408.7 640.6h0M391.8 646.1h0M423.0 661.5h0M419.1 659.4h0M413.7 656.1h0M344.1 591.8h0M420.1 657.9h0M420.3 662.0h0M437.6 670.8h0M443.9 675.3h0M342.1 587.2h0M339.5 590.8h0M436.7 667.5h0M420.7 661.6h0M339.6 604.8h0M391.1 645.9h0M409.2 634.4h0M424.5 664.5h0M410.9 652.4h0M348.8 591.0h0M344.3 588.0h0M352.0 623.2h0M426.4 658.7h0M442.2 671.2h0M347.5 590.6h0M436.9 666.5h0M447.4 676.5h0M346.3 594.6h0M436.1 668.2h0M350.4 591.9h0M428.0 664.6h0M419.5 658.5h0M339.5 603.0h0M422.1 659.0h0M349.8 591.6h0M430.8 661.9h0M428.2 663.2h0M363.4 584.5h0M350.5 592.0h0M349.7 591.8h0M420.8 658.5h0M431.5 662.0h0M415.7 657.4h0M351.1 587.9h0M441.4 670.9h0M425.8 664.1h0M460.0 680.5h0M370.8 632.8h0M442.2 672.4h0M363.8 628.8h0M338.5 608.4h0M341.5 587.7h0M411.9 654.7h0M443.1 675.0h0M408.9 653.6h0M433.9 663.3h0M436.6 669.9h0M424.6 665.2h0M412.6 651.4h0M433.0 665.1h0M435.6 665.9h0M348.6 586.9h0M432.8 664.2h0M434.9 671.1h0M343.5 586.6h0M421.9 660.1h0M415.9 654.2h0M346.6 588.1h0M407.1 654.3h0M422.1 659.8h0M367.0 635.6h0M425.9 658.6h0M418.4 664.2h0M342.8 586.4h0M350.3 587.4h0M440.3 667.8h0M421.4 660.0h0M415.7 651.7h0M343.6 582.7h0M420.4 657.0h0M426.2 661.1h0M351.0 592.0h0M354.6 589.5h0M341.8 590.8h0M347.4 589.8h0M411.3 652.0h0M434.7 671.5h0M422.2 660.1h0M419.2 661.5h0M411.1 655.5h0M416.2 657.1h0M435.8 667.9h0M345.0 583.4h0M412.5 640.1h0M432.3 666.6h0M438.8 670.5h0M401.7 650.3h0M424.8 661.6h0M431.7 666.8h0M425.6 660.4h0M432.0 667.8h0M342.6 586.2h0M428.8 663.4h0M373.1 635.5h0M346.7 589.9h0M421.4 654.2h0M415.2 656.0h0M409.6 654.1h0M439.8 668.4h0M348.7 591.5h0M407.3 653.8h0M417.1 658.2h0M349.5 585.7h0M419.6 659.8h0"/>
<path stroke="#000" stroke-opacity="0.27" stroke-width="1.7" stroke-linecap="square" d="M445.7 673.7h0M350.9 588.5h0M379.8 641.5h0M343.5 591.6h0M436.9 667.7h0M438.7 669.2h0M354.5 591.5h0M426.9 662.8h0M430.8 667.5h0M431.8 665.9h0M438.7 672.9h0M394.0 649.2h0M434.1 670.2h0M425.9 664.1h0M415.7 653.7h0M436.6 671.7h0M419.6 658.5h0M408.8 653.9h0M420.7 633.9h0M426.2 662.6h0M400.2 627.4h0M386.2 642.2h0M344.3 590.4h0M348.5 610.8h0M428.3 663.6h0M429.6 667.4h0M409.5 655.9h0M347.6 588.3h0M445.7 674.7h0M411.7 653.6h0M434.6 668.4h0M425.4 660.2h0M436.9 670.6h0M426.4 666.7h0M349.1 592.4h0M428.4 664.2h0M347.2 593.3h0M413.8 655.4h0M355.5 591.1h0M347.9 587.3h0M419.5 657.3h0M347.5 588.0h0M356.3 591.4h0M417.8 657.7h0M421.9 660.9h0M440.7 672.2h0M365.0 638.2h0M346.3 589.1h0M348.6 590.3h0M346.5 612.5h0M435.8 668.3h0M426.2 666.8h0M424.7 661.5h0M343.7 586.4h0M442.6 674.6h0M426.3 661.2h0M349.6 592.1h0M401.8 652.6h0M422.4 655.7h0M426.3 662.9h0M418.2 658.8h0M428.1 662.8h0M425.6 663.9h0M428.4 662.6h0M444.5 675.0h0M416.2 657.9h0M431.1 667.5h0M393.3 645.4h0M345.5 600.4h0M341.3 582.0h0M421.1 662.4h0M350.4 591.8h0M411.4 640.5h0M417.0 657.8h0M437.3 671.0h0M412.8 655.6h0M415.7 655.9h0M455.8 682.4h0M418.4 659.6h0M452.5 678.4h0M417.1 658.8h0M439.9 667.5h0M405.6 654.2h0M343.2 583.5h0M347.1 594.7h0M410.6 651.6h0M439.7 671.2h0M341.5 604.1h0M347.1 589.6h0M447.8 673.1h0M438.1 672.8h0M411.6 653.8h0M445.4 672.2h0M347.4 592.2h0M416.6 658.8h0M431.4 666.5h0M434.6 667.1h0M428.0 664.3h0M414.7 655.2h0M414.7 661.3h0M440.9 676.3h0M381.7 641.8h0M428.5 664.6h0M416.7 659.4h0M419.1 662.9h0M362.8 626.6h0M428.7 665.0h0M347.8 586.5h0M421.0 660.6h0M414.2 655.3h0M426.8 659.2h0M344.8 588.2h0M439.6 671.8h0M402.4 619.5h0M412.1 653.4h0M366.0 633.8h0M415.2 657.5h0M450.5 679.2h0M409.4 653.1h0M426.6 663.2h0M419.8 658.3h0"/>
<path stroke="#000" stroke-opacity="0.4" stroke-width="1.7" stroke-linecap="square" d="M436.0 670.1h0M343.1 586.9h0M431.2 665.7h0M343.0 584.2h0M429.4 665.4h0M411.1 652.3h0M342.2 586.6h0M429.4 662.5h0M445.8 674.4h0M435.0 670.7h0M426.0 654.9h0M429.2 666.4h0M441.0 671.1h0M446.5 674.9h0M423.4 657.8h0M348.6 607.0h0M418.8 657.1h0M434.0 664.6h0M413.8 658.1h0M419.6 662.4h0M436.7 665.7h0M403.3 657.8h0M439.3 666.9h0M346.8 588.9h0M348.2 589.6h0M436.0 669.3h0M426.2 663.4h0M349.5 591.5h0M424.1 658.2h0M429.1 660.9h0M422.8 662.0h0M416.5 652.9h0M432.4 663.1h0M354.5 619.6h0M432.0 662.4h0M418.9 656.7h0M421.7 658.1h0M435.2 667.9h0M359.6 629.2h0M419.3 661.3h0M344.8 585.6h0M377.7 638.2h0M427.2 666.3h0M344.4 590.0h0M426.9 664.7h0M411.7 652.8h0M348.5 604.4h0M435.5 668.8h0M424.2 663.8h0M415.1 656.0h0M351.8 578.7h0M441.5 672.7h0M432.3 668.5h0M413.0 651.9h0M430.3 664.4h0M429.4 663.4h0"/>
<path stroke="#000" stroke-opacity="0.55" stroke-width="1.7" stroke-linecap="square" d="M426.2 660.4h0M433.0 665.7h0M423.8 657.5h0M385.5 641.3h0M424.2 664.2h0M350.4 587.9h0M421.5 661.7h0M422.7 660.3h0M416.7 654.7h0M400.9 650.2h0M349.9 588.9h0M426.6 663.5h0M435.9 669.7h0M425.4 655.9h0M459.1 680.8h0M344.0 589.1h0M343.3 592.3h0M364.2 631.6h0M396.1 613.1h0M445.3 669.3h0M430.2 664.8h0M350.7 590.5h0M423.4 659.1h0"/>
<path fill="#fff" d="M352.4 591.93C354.29 591.2 358.2 590.97 361.1 591.4C364 591.84 367.05 593.52 369.81 594.54C372.56 595.55 375.46 596.42 377.64 597.49C379.81 598.57 381.12 599.52 382.86 600.97C384.6 602.42 386.48 604.02 388.08 606.2C389.67 608.37 390.83 611.13 392.43 614.03C394.02 616.93 395.91 620.7 397.65 623.6C399.39 626.5 401.13 628.67 402.87 631.43C404.61 634.19 406.5 637.09 408.09 640.13C409.69 643.18 412.3 647.53 412.44 649.7C412.59 651.88 410.41 652.89 408.96 653.18C407.51 653.47 406.21 652.75 403.74 651.44C401.28 650.14 397.51 647.38 394.17 645.35C390.83 643.32 387.21 641.44 383.73 639.26C380.25 637.09 376.77 634.48 373.29 632.3C369.81 630.12 365.75 628.38 362.84 626.21C359.94 624.03 357.62 621.71 355.88 619.25C354.14 616.78 353.56 614.32 352.4 611.42C351.24 608.52 349.36 604.46 348.92 601.84C348.49 599.23 349.21 597.41 349.79 595.75C350.37 594.1 350.52 592.65 352.4 591.93Z"/>
<clipPath id="c42"><path d="M352.4 591.93C354.29 591.2 358.2 590.97 361.1 591.4C364 591.84 367.05 593.52 369.81 594.54C372.56 595.55 375.46 596.42 377.64 597.49C379.81 598.57 381.12 599.52 382.86 600.97C384.6 602.42 386.48 604.02 388.08 606.2C389.67 608.37 390.83 611.13 392.43 614.03C394.02 616.93 395.91 620.7 397.65 623.6C399.39 626.5 401.13 628.67 402.87 631.43C404.61 634.19 406.5 637.09 408.09 640.13C409.69 643.18 412.3 647.53 412.44 649.7C412.59 651.88 410.41 652.89 408.96 653.18C407.51 653.47 406.21 652.75 403.74 651.44C401.28 650.14 397.51 647.38 394.17 645.35C390.83 643.32 387.21 641.44 383.73 639.26C380.25 637.09 376.77 634.48 373.29 632.3C369.81 630.12 365.75 628.38 362.84 626.21C359.94 624.03 357.62 621.71 355.88 619.25C354.14 616.78 353.56 614.32 352.4 611.42C351.24 608.52 349.36 604.46 348.92 601.84C348.49 599.23 349.21 597.41 349.79 595.75C350.37 594.1 350.52 592.65 352.4 591.93Z"/></clipPath>
<g clip-path="url(#c42)"><rect x="350.02" y="593.62" width="6.26" height="5.42" fill="rgb(251,251,251)"/><rect x="350.02" y="599" width="6.26" height="5.42" fill="rgb(251,251,251)"/><rect x="350.02" y="604.38" width="6.26" height="5.42" fill="rgb(251,251,251)"/><rect x="350.02" y="609.75" width="6.26" height="5.42" fill="rgb(251,251,251)"/><rect x="350.02" y="615.12" width="6.26" height="5.42" fill="rgb(251,251,251)"/><rect x="350.02" y="620.5" width="6.26" height="5.42" fill="rgb(251,251,251)"/><rect x="350.02" y="625.88" width="6.26" height="5.42" fill="rgb(251,251,251)"/><rect x="356.23" y="593.62" width="6.26" height="5.42" fill="rgb(251,251,251)"/><rect x="356.23" y="599" width="6.26" height="5.42" fill="rgb(237,237,237)"/><rect x="356.23" y="604.38" width="6.26" height="5.42" fill="rgb(237,237,237)"/><rect x="356.23" y="609.75" width="6.26" height="5.42" fill="rgb(237,237,237)"/><rect x="356.23" y="615.12" width="6.26" height="5.42" fill="rgb(237,237,237)"/><rect x="356.23" y="620.5" width="6.26" height="5.42" fill="rgb(237,237,237)"/><rect x="356.23" y="625.88" width="6.26" height="5.42" fill="rgb(251,251,251)"/><rect x="362.44" y="593.62" width="6.26" height="5.42" fill="rgb(251,251,251)"/><rect x="362.44" y="599" width="6.26" height="5.42" fill="rgb(237,237,237)"/><rect x="362.44" y="604.38" width="6.26" height="5.42" fill="rgb(191,191,191)"/><rect x="362.44" y="609.75" width="6.26" height="5.42" fill="rgb(158,158,158)"/><rect x="362.44" y="615.12" width="6.26" height="5.42" fill="rgb(191,191,191)"/><rect x="362.44" y="620.5" width="6.26" height="5.42" fill="rgb(237,237,237)"/><rect x="362.44" y="625.88" width="6.26" height="5.42" fill="rgb(251,251,251)"/><rect x="368.65" y="593.62" width="6.26" height="5.42" fill="rgb(251,251,251)"/><rect x="368.65" y="599" width="6.26" height="5.42" fill="rgb(237,237,237)"/><rect x="368.65" y="604.38" width="6.26" height="5.42" fill="rgb(158,158,158)"/><rect x="368.65" y="609.75" width="6.26" height="5.42" fill="rgb(0,0,0)"/><rect x="368.65" y="615.12" width="6.26" height="5.42" fill="rgb(158,158,158)"/><rect x="368.65" y="620.5" width="6.26" height="5.42" fill="rgb(237,237,237)"/><rect x="368.65" y="625.88" width="6.26" height="5.42" fill="rgb(251,251,251)"/><rect x="374.86" y="593.62" width="6.26" height="5.42" fill="rgb(251,251,251)"/><rect x="374.86" y="599" width="6.26" height="5.42" fill="rgb(237,237,237)"/><rect x="374.86" y="604.38" width="6.26" height="5.42" fill="rgb(191,191,191)"/><rect x="374.86" y="609.75" width="6.26" height="5.42" fill="rgb(153,153,153)"/><rect x="374.86" y="615.12" width="6.26" height="5.42" fill="rgb(191,191,191)"/><rect x="374.86" y="620.5" width="6.26" height="5.42" fill="rgb(237,237,237)"/><rect x="374.86" y="625.88" width="6.26" height="5.42" fill="rgb(251,251,251)"/><rect x="381.07" y="593.62" width="6.26" height="5.42" fill="rgb(251,251,251)"/><rect x="381.07" y="599" width="6.26" height="5.42" fill="rgb(237,237,237)"/><rect x="381.07" y="604.38" width="6.26" height="5.42" fill="rgb(237,237,237)"/><rect x="381.07" y="609.75" width="6.26" height="5.42" fill="rgb(237,237,237)"/><rect x="381.07" y="615.12" width="6.26" height="5.42" fill="rgb(237,237,237)"/><rect x="381.07" y="620.5" width="6.26" height="5.42" fill="rgb(237,237,237)"/><rect x="381.07" y="625.88" width="6.26" height="5.42" fill="rgb(251,251,251)"/><rect x="387.28" y="593.62" width="6.26" height="5.42" fill="rgb(251,251,251)"/><rect x="387.28" y="599" width="6.26" height="5.42" fill="rgb(251,251,251)"/><rect x="387.28" y="604.38" width="6.26" height="5.42" fill="rgb(251,251,251)"/><rect x="387.28" y="609.75" width="6.26" height="5.42" fill="rgb(251,251,251)"/><rect x="387.28" y="615.12" width="6.26" height="5.42" fill="rgb(251,251,251)"/><rect x="387.28" y="620.5" width="6.26" height="5.42" fill="rgb(251,251,251)"/><rect x="387.28" y="625.88" width="6.26" height="5.42" fill="rgb(251,251,251)"/></g>
<path fill="none" stroke="#000" stroke-width="1.55" d="M352.4 591.93C354.29 591.2 358.2 590.97 361.1 591.4C364 591.84 367.05 593.52 369.81 594.54C372.56 595.55 375.46 596.42 377.64 597.49C379.81 598.57 381.12 599.52 382.86 600.97C384.6 602.42 386.48 604.02 388.08 606.2C389.67 608.37 390.83 611.13 392.43 614.03C394.02 616.93 395.91 620.7 397.65 623.6C399.39 626.5 401.13 628.67 402.87 631.43C404.61 634.19 406.5 637.09 408.09 640.13C409.69 643.18 412.3 647.53 412.44 649.7C412.59 651.88 410.41 652.89 408.96 653.18C407.51 653.47 406.21 652.75 403.74 651.44C401.28 650.14 397.51 647.38 394.17 645.35C390.83 643.32 387.21 641.44 383.73 639.26C380.25 637.09 376.77 634.48 373.29 632.3C369.81 630.12 365.75 628.38 362.84 626.21C359.94 624.03 357.62 621.71 355.88 619.25C354.14 616.78 353.56 614.32 352.4 611.42C351.24 608.52 349.36 604.46 348.92 601.84C348.49 599.23 349.21 597.41 349.79 595.75C350.37 594.1 350.52 592.65 352.4 591.93Z"/>
<path fill="none" stroke="#000" stroke-width="1.55" d="M360.23 598.89C362.03 598.31 365.6 598.74 368.07 599.23C370.53 599.73 372.85 600.83 375.03 601.84C377.2 602.86 379.38 604.02 381.12 605.33C382.86 606.63 384.31 607.94 385.47 609.68C386.63 611.42 387.44 613.74 388.08 615.77C388.72 617.8 388.86 619.83 389.3 621.86C389.73 623.89 391.33 626.59 390.69 627.95C390.05 629.31 387.5 629.89 385.47 630.04C383.44 630.18 381.12 629.46 378.51 628.82C375.9 628.18 372.56 627.51 369.81 626.21C367.05 624.9 364 622.73 361.97 620.99C359.94 619.25 358.58 617.8 357.62 615.77C356.67 613.74 356.29 610.98 356.23 608.81C356.17 606.63 356.61 604.37 357.28 602.71C357.94 601.06 358.44 599.47 360.23 598.89Z"/>
<path fill="none" stroke="#000" stroke-width="1.55" d="M370.68 605.67C371.72 605.73 375.81 606.93 376.77 607.59C377.72 608.25 379.99 611.29 380.25 612.29C380.51 613.28 379.9 616.72 379.38 617.51C378.86 618.29 376.07 619.86 375.03 620.12C373.98 620.38 369.98 620.47 368.94 620.12C367.89 619.77 365.11 617.51 364.59 616.64C364.06 615.77 363.54 612.37 363.71 611.42C363.89 610.46 365.63 607.64 366.33 607.07C367.02 606.49 369.63 605.62 370.68 605.67Z"/>
<path stroke="#000" stroke-opacity="0.1" stroke-width="1.7" stroke-linecap="square" d="M516.2 653.9h0M492.5 651.1h0M556.5 641.1h0M541.9 663.8h0M565.5 654.7h0M516.2 661.2h0M572.8 613.0h0M494.8 635.5h0M567.3 658.1h0M572.6 645.5h0M568.2 639.4h0M551.2 587.5h0M514.5 647.1h0M569.3 638.9h0M586.6 636.2h0M552.3 652.9h0M497.3 651.1h0M594.5 622.1h0M502.0 669.4h0M509.0 652.2h0M559.2 655.0h0M565.5 616.4h0M505.5 662.9h0M535.3 584.4h0M562.9 637.0h0M563.4 621.2h0M592.9 665.8h0M553.1 656.4h0M494.3 615.7h0M561.6 646.5h0M553.7 666.1h0M560.1 636.3h0M537.8 680.2h0M578.9 640.3h0M483.1 629.6h0M497.5 683.7h0M571.7 623.3h0M551.5 650.2h0M567.6 638.3h0M561.9 654.2h0M574.4 665.8h0M552.3 678.2h0M555.3 648.0h0M501.1 652.0h0M556.5 655.4h0M561.1 667.4h0M540.0 581.2h0M572.3 635.0h0M572.6 631.2h0M553.2 639.6h0M485.9 609.9h0M569.4 653.8h0M561.1 602.6h0M579.7 641.2h0M555.9 654.6h0M553.3 589.4h0M537.5 666.7h0M580.4 638.1h0M535.4 587.1h0M524.1 682.4h0M549.5 648.7h0M555.7 678.9h0M482.5 624.9h0M519.0 670.5h0M566.0 619.3h0M573.9 658.8h0M493.5 644.8h0M496.3 641.7h0M548.9 579.1h0M536.2 669.9h0M579.3 645.3h0M574.0 638.7h0M477.3 652.2h0M573.5 648.7h0M568.9 655.5h0M510.3 635.7h0M556.8 646.2h0M579.3 669.7h0M556.8 653.3h0M593.4 656.6h0M502.2 647.6h0M563.8 638.2h0M571.9 630.4h0M553.8 666.3h0M587.8 659.0h0M549.3 665.0h0M503.8 644.7h0M507.8 649.0h0M581.5 631.7h0M530.9 663.2h0M560.0 600.9h0M539.9 682.0h0M496.6 660.2h0M590.3 639.5h0M498.9 650.4h0M555.7 645.9h0M551.5 648.4h0M555.6 658.8h0M565.6 628.9h0M525.3 656.7h0M574.1 643.5h0M526.6 656.4h0M527.9 674.0h0M535.9 673.1h0M573.0 655.7h0M562.3 641.9h0M531.5 658.3h0M570.2 608.4h0M512.5 641.6h0M572.4 600.3h0M566.3 606.5h0M550.0 656.4h0M565.2 639.7h0M478.8 613.3h0M557.0 586.8h0M512.6 651.4h0M500.7 633.3h0M551.1 651.2h0M492.4 670.1h0M503.7 632.0h0M555.1 646.9h0M512.5 669.6h0M563.6 637.5h0M538.0 663.5h0M501.4 653.6h0M553.9 646.3h0M533.8 658.3h0M511.4 589.0h0M575.5 608.5h0M500.9 619.8h0M557.7 637.8h0M570.0 620.8h0M544.9 590.7h0M503.5 637.5h0M494.5 675.2h0M490.2 622.0h0M503.9 643.4h0M556.0 638.7h0M583.9 652.2h0M579.9 659.3h0M505.1 653.0h0M477.8 606.1h0M521.6 659.9h0M497.4 644.9h0M545.5 665.7h0M508.4 641.1h0M539.3 672.8h0M506.5 658.4h0M526.0 654.4h0M557.2 606.1h0M498.0 625.4h0M585.2 634.9h0M589.1 632.6h0M492.1 618.6h0M495.3 656.3h0M525.6 665.2h0M567.5 676.1h0M564.4 650.1h0M510.9 665.3h0M542.4 664.0h0M548.3 663.8h0M534.3 662.5h0M513.2 644.0h0M575.1 600.0h0M550.3 645.4h0M516.1 667.2h0M498.3 654.6h0M485.4 640.5h0M513.7 651.0h0M560.1 647.1h0M492.2 646.1h0M586.0 658.5h0M585.1 630.0h0M546.4 596.5h0M578.9 626.9h0M565.8 627.6h0M560.7 658.0h0M553.1 601.5h0M516.8 590.0h0M511.7 648.6h0M548.3 657.8h0M554.4 646.2h0M502.0 627.0h0M557.1 638.0h0M493.1 647.8h0M500.2 631.2h0M577.5 618.9h0M546.2 683.2h0M577.9 650.3h0M563.0 661.4h0M503.3 623.2h0M525.0 654.9h0M496.1 615.9h0M502.2 638.0h0M561.2 611.5h0M574.8 661.6h0M559.9 652.0h0M553.2 653.7h0M574.9 646.7h0M523.2 589.1h0M584.7 594.4h0M515.3 657.7h0M569.9 649.3h0M577.0 622.3h0M563.9 663.7h0M485.5 615.0h0M579.7 664.5h0M583.2 645.5h0M559.5 656.5h0M554.6 655.9h0M503.9 628.3h0M564.7 634.2h0M488.6 622.9h0M511.8 667.7h0M559.4 642.9h0M542.3 662.5h0M524.0 586.4h0M477.5 596.6h0M509.4 636.8h0M561.9 590.0h0M562.9 643.4h0M488.2 591.0h0M552.1 646.9h0M560.6 654.5h0M549.6 652.9h0M574.6 650.8h0M557.6 604.9h0M511.1 580.8h0M552.7 656.0h0M518.5 660.1h0M553.0 678.9h0M521.3 580.4h0M565.5 628.2h0M498.0 623.0h0M494.3 606.1h0M497.5 635.1h0M524.3 667.6h0M492.1 610.2h0M563.5 648.7h0M549.9 644.4h0M573.8 661.3h0M578.1 629.0h0M499.0 622.6h0M579.9 640.9h0M588.8 648.9h0M513.9 657.5h0M562.1 613.6h0M556.0 640.0h0M505.6 639.2h0"/>
<path stroke="#000" stroke-opacity="0.17" stroke-width="1.7" stroke-linecap="square" d="M519.2 648.9h0M548.0 649.3h0M563.9 647.5h0M542.0 661.5h0M568.6 648.0h0M565.2 618.8h0M510.2 650.0h0M542.8 593.7h0M535.1 660.6h0M558.1 646.1h0M553.6 656.9h0M486.7 605.8h0M511.5 582.0h0M553.0 652.7h0M478.2 649.0h0M524.4 667.5h0M561.4 639.7h0M506.3 675.5h0M566.4 621.8h0M498.4 637.3h0M574.8 657.3h0M536.1 663.8h0M595.6 634.7h0M544.5 661.1h0M556.0 648.1h0M559.1 663.7h0M563.1 618.5h0M512.3 653.8h0M551.8 655.2h0M497.9 683.0h0M478.1 634.1h0M544.4 657.5h0M566.2 653.1h0M570.6 621.2h0M578.7 648.0h0M548.6 651.9h0M502.5 628.3h0M501.8 660.8h0M562.2 604.1h0M518.2 661.1h0M558.0 665.7h0M551.4 642.4h0M561.2 613.7h0M558.0 653.7h0M563.1 669.5h0M545.1 661.9h0M491.7 640.1h0M562.1 647.6h0M575.2 643.1h0M548.2 665.1h0M560.9 630.4h0M578.6 662.1h0M535.3 680.8h0M559.6 585.3h0M518.5 662.0h0M558.6 635.1h0M568.0 633.7h0M501.4 630.0h0M593.2 647.1h0M572.6 647.3h0M555.9 649.5h0M549.7 647.9h0M585.3 623.7h0M547.8 646.9h0M514.9 651.5h0M520.6 655.0h0M589.1 658.9h0M534.5 659.5h0M561.1 632.6h0M499.7 630.7h0M494.3 644.6h0M576.4 636.7h0M499.6 584.0h0M560.5 639.7h0M509.7 645.7h0M482.4 600.7h0M563.5 635.2h0M577.0 660.6h0M567.1 679.4h0M587.1 659.6h0M564.9 634.4h0M510.0 664.1h0M491.1 636.4h0M545.3 665.3h0M565.7 634.2h0M513.8 590.6h0M560.4 660.2h0M570.9 654.6h0M528.7 668.5h0M516.8 649.5h0M506.0 590.5h0M562.4 614.0h0M542.2 681.9h0M565.4 664.3h0M568.2 618.9h0M598.2 655.1h0M511.7 587.5h0M566.9 637.7h0M504.1 650.5h0M563.8 637.0h0M532.0 664.8h0M583.7 616.1h0M527.3 655.4h0M556.1 644.8h0M577.0 661.7h0M548.8 677.0h0M515.0 671.8h0M559.8 654.8h0M583.3 625.8h0M492.5 630.7h0M564.8 582.9h0M528.2 662.6h0M481.9 612.7h0M502.0 631.2h0M556.2 645.2h0M551.7 591.8h0M529.4 656.9h0M589.2 660.6h0M557.4 678.7h0M559.1 650.9h0M564.9 642.2h0M569.7 623.2h0M526.1 680.3h0M557.8 645.2h0M496.6 593.1h0M551.0 679.8h0M492.7 627.0h0M509.0 658.4h0M559.7 662.0h0M562.0 632.9h0M549.8 648.0h0M548.6 652.6h0M560.9 654.0h0M566.0 621.1h0M576.1 630.5h0M564.5 582.5h0M509.8 648.4h0M553.8 658.4h0M504.3 657.6h0M508.2 668.1h0M552.7 588.2h0M547.4 662.5h0M586.2 634.4h0M551.7 664.5h0M521.7 579.1h0M551.9 644.1h0M530.0 665.0h0M536.6 664.8h0M510.3 655.2h0M528.8 659.7h0M567.7 633.3h0M509.9 636.4h0M553.2 658.0h0M543.7 663.3h0M564.4 658.2h0M483.6 656.0h0M568.9 651.6h0M562.4 633.9h0M550.3 651.8h0M567.3 624.5h0M554.1 667.1h0M559.7 589.2h0M480.8 613.3h0M556.2 661.1h0M504.2 627.3h0M503.9 655.2h0M547.0 658.8h0M580.2 676.7h0M538.3 665.1h0M575.6 628.7h0M524.4 657.1h0M578.4 651.3h0M553.3 645.6h0M555.7 598.1h0M556.3 649.6h0M511.7 647.7h0M532.6 671.5h0M536.6 663.0h0M577.0 655.1h0M570.8 637.0h0M520.5 657.2h0M546.9 656.8h0M565.3 624.5h0M527.7 673.4h0M491.9 615.4h0M556.9 654.3h0M552.9 663.2h0M502.8 623.8h0M552.6 643.7h0M500.7 598.2h0M582.5 639.7h0M576.7 661.4h0M525.4 655.6h0M528.0 657.5h0M489.8 616.9h0M530.3 675.5h0M556.8 649.9h0M576.4 661.5h0M572.4 637.6h0M567.0 591.5h0M560.0 642.8h0M554.9 584.6h0M558.9 665.2h0M512.9 645.0h0M566.4 646.5h0"/>
<path stroke="#000" stroke-opacity="0.27" stroke-width="1.7" stroke-linecap="square" d="M538.6 662.7h0M537.3 670.1h0M550.1 672.8h0M554.3 672.4h0M573.0 628.0h0M531.1 678.6h0M536.0 591.9h0M522.3 651.0h0M519.7 660.3h0M527.8 679.7h0M550.3 642.5h0M508.6 663.4h0M526.7 659.3h0M507.7 651.2h0M550.5 664.2h0M513.5 653.2h0M489.1 614.8h0M537.5 589.7h0M496.2 631.6h0M513.3 645.6h0M532.6 668.9h0M538.9 583.4h0M575.4 660.7h0M508.2 638.0h0M544.9 675.2h0M587.1 678.2h0M564.5 629.6h0M495.7 641.4h0M550.4 643.5h0M501.6 631.4h0M563.8 661.1h0M548.8 647.4h0M501.5 647.5h0M507.7 583.0h0M566.0 645.2h0M537.0 664.3h0M553.7 662.5h0M573.5 601.3h0M554.9 651.1h0M558.9 637.6h0M574.4 670.1h0M582.4 610.1h0M487.0 649.6h0M551.8 661.5h0M500.9 644.1h0M561.6 640.0h0M559.8 636.2h0M531.5 681.1h0M481.1 635.6h0M527.4 664.9h0M478.6 644.4h0M492.2 651.1h0M508.7 655.2h0M527.9 668.9h0M560.8 639.8h0M562.1 625.1h0M500.9 658.0h0M564.9 670.4h0M538.6 588.8h0M587.7 665.6h0M553.1 649.6h0M481.4 611.5h0M546.1 664.6h0M566.6 648.4h0M509.5 643.3h0M579.8 659.6h0M532.5 583.6h0M503.6 646.1h0M508.2 641.2h0M572.4 621.4h0M567.9 649.8h0M573.3 652.5h0M568.4 652.2h0M573.4 655.7h0M568.2 612.4h0M526.8 678.3h0M502.1 581.9h0M506.5 631.0h0M569.9 638.2h0M555.1 643.3h0M533.4 588.4h0M553.7 647.5h0M575.2 602.9h0M541.5 664.5h0M562.6 653.9h0M574.3 626.1h0M563.7 651.8h0M478.2 626.3h0M569.7 620.6h0M525.4 670.7h0M506.8 655.2h0M558.7 638.4h0M494.3 604.9h0M553.8 588.1h0M488.4 645.1h0M563.0 630.4h0M495.1 608.4h0M583.0 662.0h0M578.2 627.7h0M533.8 581.9h0M497.6 597.3h0M563.1 630.8h0M583.7 651.5h0M523.6 663.0h0M553.1 588.7h0M544.7 665.0h0M573.6 594.3h0M554.0 648.3h0M560.8 666.6h0M567.4 631.3h0M572.7 635.4h0M562.0 651.2h0M550.3 654.9h0M560.0 658.4h0M520.0 658.3h0M581.9 645.3h0M507.3 643.5h0M505.6 656.0h0M550.3 651.0h0M483.3 657.4h0M582.2 675.2h0M538.1 665.6h0M522.1 661.2h0M588.1 635.5h0M498.4 620.3h0M534.5 581.2h0M499.8 621.8h0M488.2 652.0h0M575.8 673.8h0M543.7 672.4h0M524.0 654.9h0M494.3 635.9h0M494.6 634.0h0M561.4 647.3h0M564.1 663.6h0M534.0 665.1h0M550.2 643.5h0M552.3 647.6h0M554.7 661.5h0M506.8 630.8h0M570.5 586.5h0M558.7 650.0h0M544.0 662.7h0M564.8 641.6h0M502.9 594.3h0M557.8 587.8h0M560.2 654.2h0M572.3 629.5h0M555.3 653.3h0"/>
<path stroke="#000" stroke-opacity="0.4" stroke-width="1.7" stroke-linecap="square" d="M565.2 654.1h0M559.5 633.7h0M558.4 660.2h0M556.7 646.6h0M549.7 674.1h0M549.9 596.7h0M557.1 677.4h0M587.1 663.4h0M551.5 653.1h0M517.5 650.4h0M530.0 655.9h0M558.4 672.4h0M517.9 656.6h0M499.4 621.6h0M560.4 638.3h0M577.3 622.1h0M558.1 648.8h0M544.4 660.0h0M573.9 635.1h0M568.6 658.4h0M527.5 660.7h0M564.5 624.3h0M547.2 658.8h0M551.6 673.4h0M548.6 681.1h0M562.3 647.1h0M567.3 603.7h0M539.4 661.7h0M551.4 653.7h0M496.6 650.0h0M549.4 586.5h0M546.6 659.7h0M555.6 649.1h0M516.0 658.2h0M503.5 656.6h0M512.9 657.2h0M556.1 678.7h0M509.5 648.4h0M594.3 666.3h0M526.1 654.8h0M535.6 681.6h0M537.4 663.3h0M562.5 638.6h0M568.8 673.8h0M531.3 662.3h0M565.4 638.5h0M508.3 646.2h0M555.9 670.8h0M492.7 668.7h0M514.3 651.9h0M491.3 639.1h0M551.3 662.5h0M573.8 630.5h0M564.1 635.7h0M576.4 630.2h0M493.4 634.9h0M530.4 660.3h0M559.7 658.8h0M569.3 618.1h0M557.4 667.5h0M500.4 646.1h0M497.4 649.3h0M579.5 654.4h0M555.0 644.6h0M576.6 643.5h0M582.9 648.0h0M577.4 645.5h0M545.9 591.3h0M587.1 647.4h0M549.8 643.7h0M569.6 647.7h0M484.8 621.9h0M560.1 633.1h0M555.4 638.0h0M526.5 590.0h0M551.9 653.3h0M553.9 668.4h0"/>
<path stroke="#000" stroke-opacity="0.55" stroke-width="1.7" stroke-linecap="square" d="M561.1 633.6h0M584.0 642.5h0M520.7 656.3h0M567.4 652.0h0M507.0 643.3h0M523.9 656.9h0M555.9 649.1h0M559.0 645.5h0M561.0 634.3h0M516.4 591.2h0M549.1 674.4h0M488.6 649.5h0M498.3 642.0h0M554.5 648.5h0M566.4 636.3h0M580.9 679.8h0M571.9 661.3h0M561.1 676.8h0M514.4 655.8h0M554.9 658.5h0"/>
<path fill="#fff" d="M518.12 590.88C521.02 590.65 525.95 590.5 529.43 590.88C532.91 591.26 536.1 592.04 539 593.14C541.9 594.25 544.37 595.75 546.83 597.49C549.3 599.23 551.76 601.7 553.79 603.59C555.82 605.47 557.71 606.49 559.01 608.81C560.32 611.13 561.34 614.61 561.63 617.51C561.92 620.41 561.48 623.31 560.76 626.21C560.03 629.11 559.01 632.3 557.27 634.91C555.53 637.52 552 640.28 550.31 641.87C548.63 643.47 547.62 643.03 547.18 644.48C546.75 645.93 547.47 648.83 547.7 650.57C547.93 652.31 549.15 653.76 548.57 654.92C547.99 656.08 545.96 656.87 544.22 657.53C542.48 658.2 540.31 659.07 538.13 658.93C535.96 658.78 533.49 657.77 531.17 656.66C528.85 655.56 526.53 653.91 524.21 652.31C521.89 650.72 519.28 649.12 517.25 647.09C515.22 645.06 513.33 642.45 512.03 640.13C510.72 637.81 510.43 635.49 509.42 633.17C508.4 630.85 507.24 628.38 505.94 626.21C504.63 624.03 502.89 622.58 501.59 620.12C500.28 617.65 498.54 614.46 498.1 611.42C497.67 608.37 497.81 604.46 498.97 601.84C500.13 599.23 502.89 597.35 505.07 595.75C507.24 594.16 509.85 593.09 512.03 592.27C514.2 591.46 515.22 591.11 518.12 590.88Z"/>
<clipPath id="c43"><path d="M518.12 590.88C521.02 590.65 525.95 590.5 529.43 590.88C532.91 591.26 536.1 592.04 539 593.14C541.9 594.25 544.37 595.75 546.83 597.49C549.3 599.23 551.76 601.7 553.79 603.59C555.82 605.47 557.71 606.49 559.01 608.81C560.32 611.13 561.34 614.61 561.63 617.51C561.92 620.41 561.48 623.31 560.76 626.21C560.03 629.11 559.01 632.3 557.27 634.91C555.53 637.52 552 640.28 550.31 641.87C548.63 643.47 547.62 643.03 547.18 644.48C546.75 645.93 547.47 648.83 547.7 650.57C547.93 652.31 549.15 653.76 548.57 654.92C547.99 656.08 545.96 656.87 544.22 657.53C542.48 658.2 540.31 659.07 538.13 658.93C535.96 658.78 533.49 657.77 531.17 656.66C528.85 655.56 526.53 653.91 524.21 652.31C521.89 650.72 519.28 649.12 517.25 647.09C515.22 645.06 513.33 642.45 512.03 640.13C510.72 637.81 510.43 635.49 509.42 633.17C508.4 630.85 507.24 628.38 505.94 626.21C504.63 624.03 502.89 622.58 501.59 620.12C500.28 617.65 498.54 614.46 498.1 611.42C497.67 608.37 497.81 604.46 498.97 601.84C500.13 599.23 502.89 597.35 505.07 595.75C507.24 594.16 509.85 593.09 512.03 592.27C514.2 591.46 515.22 591.11 518.12 590.88Z"/></clipPath>
<g clip-path="url(#c43)"><rect x="506.55" y="593.62" width="6.26" height="5.42" fill="rgb(251,251,251)"/><rect x="506.55" y="599" width="6.26" height="5.42" fill="rgb(251,251,251)"/><rect x="506.55" y="604.38" width="6.26" height="5.42" fill="rgb(251,251,251)"/><rect x="506.55" y="609.75" width="6.26" height="5.42" fill="rgb(251,251,251)"/><rect x="506.55" y="615.12" width="6.26" height="5.42" fill="rgb(251,251,251)"/><rect x="506.55" y="620.5" width="6.26" height="5.42" fill="rgb(251,251,251)"/><rect x="506.55" y="625.88" width="6.26" height="5.42" fill="rgb(251,251,251)"/><rect x="512.76" y="593.62" width="6.26" height="5.42" fill="rgb(251,251,251)"/><rect x="512.76" y="599" width="6.26" height="5.42" fill="rgb(237,237,237)"/><rect x="512.76" y="604.38" width="6.26" height="5.42" fill="rgb(237,237,237)"/><rect x="512.76" y="609.75" width="6.26" height="5.42" fill="rgb(237,237,237)"/><rect x="512.76" y="615.12" width="6.26" height="5.42" fill="rgb(237,237,237)"/><rect x="512.76" y="620.5" width="6.26" height="5.42" fill="rgb(237,237,237)"/><rect x="512.76" y="625.88" width="6.26" height="5.42" fill="rgb(251,251,251)"/><rect x="518.97" y="593.62" width="6.26" height="5.42" fill="rgb(251,251,251)"/><rect x="518.97" y="599" width="6.26" height="5.42" fill="rgb(237,237,237)"/><rect x="518.97" y="604.38" width="6.26" height="5.42" fill="rgb(191,191,191)"/><rect x="518.97" y="609.75" width="6.26" height="5.42" fill="rgb(158,158,158)"/><rect x="518.97" y="615.12" width="6.26" height="5.42" fill="rgb(191,191,191)"/><rect x="518.97" y="620.5" width="6.26" height="5.42" fill="rgb(237,237,237)"/><rect x="518.97" y="625.88" width="6.26" height="5.42" fill="rgb(251,251,251)"/><rect x="525.18" y="593.62" width="6.26" height="5.42" fill="rgb(251,251,251)"/><rect x="525.18" y="599" width="6.26" height="5.42" fill="rgb(237,237,237)"/><rect x="525.18" y="604.38" width="6.26" height="5.42" fill="rgb(158,158,158)"/><rect x="525.18" y="609.75" width="6.26" height="5.42" fill="rgb(0,0,0)"/><rect x="525.18" y="615.12" width="6.26" height="5.42" fill="rgb(158,158,158)"/><rect x="525.18" y="620.5" width="6.26" height="5.42" fill="rgb(237,237,237)"/><rect x="525.18" y="625.88" width="6.26" height="5.42" fill="rgb(251,251,251)"/><rect x="531.39" y="593.62" width="6.26" height="5.42" fill="rgb(251,251,251)"/><rect x="531.39" y="599" width="6.26" height="5.42" fill="rgb(237,237,237)"/><rect x="531.39" y="604.38" width="6.26" height="5.42" fill="rgb(191,191,191)"/><rect x="531.39" y="609.75" width="6.26" height="5.42" fill="rgb(153,153,153)"/><rect x="531.39" y="615.12" width="6.26" height="5.42" fill="rgb(191,191,191)"/><rect x="531.39" y="620.5" width="6.26" height="5.42" fill="rgb(237,237,237)"/><rect x="531.39" y="625.88" width="6.26" height="5.42" fill="rgb(251,251,251)"/><rect x="537.6" y="593.62" width="6.26" height="5.42" fill="rgb(251,251,251)"/><rect x="537.6" y="599" width="6.26" height="5.42" fill="rgb(237,237,237)"/><rect x="537.6" y="604.38" width="6.26" height="5.42" fill="rgb(237,237,237)"/><rect x="537.6" y="609.75" width="6.26" height="5.42" fill="rgb(237,237,237)"/><rect x="537.6" y="615.12" width="6.26" height="5.42" fill="rgb(237,237,237)"/><rect x="537.6" y="620.5" width="6.26" height="5.42" fill="rgb(237,237,237)"/><rect x="537.6" y="625.88" width="6.26" height="5.42" fill="rgb(251,251,251)"/><rect x="543.81" y="593.62" width="6.26" height="5.42" fill="rgb(251,251,251)"/><rect x="543.81" y="599" width="6.26" height="5.42" fill="rgb(251,251,251)"/><rect x="543.81" y="604.38" width="6.26" height="5.42" fill="rgb(251,251,251)"/><rect x="543.81" y="609.75" width="6.26" height="5.42" fill="rgb(251,251,251)"/><rect x="543.81" y="615.12" width="6.26" height="5.42" fill="rgb(251,251,251)"/><rect x="543.81" y="620.5" width="6.26" height="5.42" fill="rgb(251,251,251)"/><rect x="543.81" y="625.88" width="6.26" height="5.42" fill="rgb(251,251,251)"/></g>
<path fill="none" stroke="#000" stroke-width="1.55" d="M518.12 590.88C521.02 590.65 525.95 590.5 529.43 590.88C532.91 591.26 536.1 592.04 539 593.14C541.9 594.25 544.37 595.75 546.83 597.49C549.3 599.23 551.76 601.7 553.79 603.59C555.82 605.47 557.71 606.49 559.01 608.81C560.32 611.13 561.34 614.61 561.63 617.51C561.92 620.41 561.48 623.31 560.76 626.21C560.03 629.11 559.01 632.3 557.27 634.91C555.53 637.52 552 640.28 550.31 641.87C548.63 643.47 547.62 643.03 547.18 644.48C546.75 645.93 547.47 648.83 547.7 650.57C547.93 652.31 549.15 653.76 548.57 654.92C547.99 656.08 545.96 656.87 544.22 657.53C542.48 658.2 540.31 659.07 538.13 658.93C535.96 658.78 533.49 657.77 531.17 656.66C528.85 655.56 526.53 653.91 524.21 652.31C521.89 650.72 519.28 649.12 517.25 647.09C515.22 645.06 513.33 642.45 512.03 640.13C510.72 637.81 510.43 635.49 509.42 633.17C508.4 630.85 507.24 628.38 505.94 626.21C504.63 624.03 502.89 622.58 501.59 620.12C500.28 617.65 498.54 614.46 498.1 611.42C497.67 608.37 497.81 604.46 498.97 601.84C500.13 599.23 502.89 597.35 505.07 595.75C507.24 594.16 509.85 593.09 512.03 592.27C514.2 591.46 515.22 591.11 518.12 590.88Z"/>
<path fill="none" stroke="#000" stroke-width="1.55" d="M524.21 597.15C526.24 596.94 528.85 596.8 531.17 597.15C533.49 597.49 535.96 598.16 538.13 599.23C540.31 600.31 542.68 601.99 544.22 603.59C545.76 605.18 546.77 606.63 547.35 608.81C547.93 610.98 548.22 614.17 547.7 616.64C547.18 619.1 545.67 621.57 544.22 623.6C542.77 625.63 540.74 627.37 539 628.82C537.26 630.27 535.52 631.49 533.78 632.3C532.04 633.11 530.15 633.84 528.56 633.69C526.96 633.55 525.8 632.39 524.21 631.43C522.61 630.47 520.73 629.25 518.99 627.95C517.25 626.64 515.22 625.19 513.77 623.6C512.32 622 511.16 620.26 510.29 618.38C509.42 616.49 508.69 614.32 508.55 612.29C508.4 610.26 508.55 607.94 509.42 606.2C510.29 604.46 512.17 603.15 513.77 601.84C515.36 600.54 517.25 599.15 518.99 598.36C520.73 597.58 522.18 597.35 524.21 597.15Z"/>
<path fill="none" stroke="#000" stroke-width="1.55" d="M527.69 604.46C528.56 604.51 532.04 605.67 532.91 606.2C533.78 606.72 535.96 608.98 536.39 609.68C536.83 610.37 537.4 612.37 537.26 613.16C537.12 613.94 535.61 616.81 535 617.51C534.39 618.2 531.9 619.77 531.17 620.12C530.44 620.47 528.42 621.04 527.69 620.99C526.96 620.94 524.56 620.03 523.86 619.6C523.16 619.16 521.18 617.37 520.73 616.64C520.28 615.91 519.25 613.16 519.34 612.29C519.42 611.42 521.11 608.6 521.6 607.94C522.09 607.27 523.6 606.02 524.21 605.67C524.82 605.33 526.82 604.4 527.69 604.46Z"/>
<clipPath id="h0"><rect x="62" y="29.5" width="124.2" height="107.5"/></clipPath>
<g clip-path="url(#h0)">
<path fill="none" stroke="#000" stroke-width="1.2" stroke-linejoin="miter" d="M62 137V136.3H68.21V135.8H74.42V133.3H80.63V130.1H86.84V126.1H93.05V115.2H99.26V39.4H105.47V85.2H111.68V116.4H117.89V121.3H124.1V130.4H130.31V131.2H136.52V133.4H142.73V134.1H148.94V135H155.15V135.8H161.36V136.3H167.57V137H173.78V137H179.99V137H186.2V137"/>
<path fill="none" stroke="#000" stroke-width="1.45" stroke-dasharray="4.7 2.3" d="M98.5 137V29.5M104.5 137V29.5M116.8 137V29.5"/>
</g>
<clipPath id="h1"><rect x="199.8" y="166.5" width="124.2" height="107.5"/></clipPath>
<g clip-path="url(#h1)">
<path fill="none" stroke="#000" stroke-width="1.2" stroke-linejoin="miter" d="M199.8 274V176.3H206.01V250.3H212.22V258.3H218.43V262.3H224.64V265.1H230.85V267.8H237.06V270.5H243.27V272.3H249.48V272.8H255.69V273.3H261.9V273.4H268.11V274H274.32V274H280.53V274H286.74V274H292.95V274H299.16V274H305.37V274H311.58V274H317.79V274H324V274"/>
<path fill="none" stroke="#000" stroke-width="1.45" stroke-dasharray="4.7 2.3" d="M200.9 274V166.5M202.9 274V166.5M221.3 274V166.5"/>
</g>
<clipPath id="h2"><rect x="337.6" y="303.5" width="124.2" height="107.5"/></clipPath>
<g clip-path="url(#h2)">
<path fill="none" stroke="#000" stroke-width="1.2" stroke-linejoin="miter" d="M337.6 411V410.3H343.81V408.1H350.02V406.9H356.23V399.5H362.44V392.2H368.65V313.3H374.86V387.4H381.07V395.9H387.28V400H393.49V402.7H399.7V405.8H405.91V406.9H412.12V407.8H418.33V408.5H424.54V409.1H430.75V409.8H436.96V410.3H443.17V411H449.38V411H455.59V411H461.8V411"/>
<path fill="none" stroke="#000" stroke-width="1.45" stroke-dasharray="4.7 2.3" d="M367.8 411V303.5M373 411V303.5M389 411V303.5"/>
</g>
<clipPath id="h3"><rect x="475.5" y="440.5" width="124.2" height="107.5"/></clipPath>
<g clip-path="url(#h3)">
<path fill="none" stroke="#000" stroke-width="1.2" stroke-linejoin="miter" d="M475.5 548V548H481.71V547.4H487.92V547.2H494.13V546.1H500.34V544.5H506.55V538.4H512.76V536.3H518.97V535.1H525.18V450.6H531.39V527.6H537.6V535.1H543.81V537.9H550.02V541.8H556.23V543.4H562.44V546H568.65V546.8H574.86V547.1H581.07V547.4H587.28V548H593.49V548H599.7V548"/>
<path fill="none" stroke="#000" stroke-width="1.45" stroke-dasharray="4.7 2.3" d="M520.8 548V440.5M528.2 548V440.5M540 548V440.5"/>
</g>
<clipPath id="h4"><rect x="613.4" y="577.5" width="124.2" height="107.5"/></clipPath>
<g clip-path="url(#h4)">
<path fill="none" stroke="#000" stroke-width="1.2" stroke-linejoin="miter" d="M613.4 685V685H619.61V684.4H625.82V683.9H632.03V682.7H638.24V681.3H644.45V680.5H650.66V680.5H656.87V680.1H663.08V679.5H669.29V674.4H675.5V674.4H681.71V672.4H687.92V657.3H694.13V587.4H700.34V667.3H706.55V673.4H712.76V679.5H718.97V682.5H725.18V684.2H731.39V685H737.6V685"/>
<path fill="none" stroke="#000" stroke-width="1.45" stroke-dasharray="4.7 2.3" d="M675.8 685V577.5M694.9 685V577.5M700.9 685V577.5"/>
</g>
<g fill="none" stroke="#000" stroke-width="1.05"><rect x="62" y="29.5" width="124.2" height="107.5"/><rect x="62" y="166.5" width="124.2" height="107.5"/><rect x="199.8" y="166.5" width="124.2" height="107.5"/><rect x="62" y="303.5" width="124.2" height="107.5"/><rect x="199.8" y="303.5" width="124.2" height="107.5"/><rect x="337.6" y="303.5" width="124.2" height="107.5"/><rect x="62" y="440.5" width="124.2" height="107.5"/><rect x="199.8" y="440.5" width="124.2" height="107.5"/><rect x="337.6" y="440.5" width="124.2" height="107.5"/><rect x="475.5" y="440.5" width="124.2" height="107.5"/><rect x="62" y="577.5" width="124.2" height="107.5"/><rect x="199.8" y="577.5" width="124.2" height="107.5"/><rect x="337.6" y="577.5" width="124.2" height="107.5"/><rect x="475.5" y="577.5" width="124.2" height="107.5"/><rect x="613.4" y="577.5" width="124.2" height="107.5"/></g>
<path fill="none" stroke="#000" stroke-width="1.05" d="M79.6 137v3.5M107.6 137v3.5M135.6 137v3.5M163.6 137v3.5M79.6 274v3.5M107.6 274v3.5M135.6 274v3.5M163.6 274v3.5M62 251.35h-3.5M62 228.4h-3.5M62 205.6h-3.5M62 182.96h-3.5M226 274v3.5M252.4 274v3.5M278.8 274v3.5M305.1 274v3.5M79.6 411v3.5M107.6 411v3.5M135.6 411v3.5M163.6 411v3.5M62 406.25h-3.5M62 384.6h-3.5M62 362.6h-3.5M62 340.6h-3.5M62 318.4h-3.5M226 411v3.5M252.4 411v3.5M278.8 411v3.5M305.1 411v3.5M199.8 406.25h-3.5M199.8 384.6h-3.5M199.8 362.6h-3.5M199.8 340.6h-3.5M199.8 318.4h-3.5M342.4 411v3.5M367.9 411v3.5M393.4 411v3.5M418.9 411v3.5M444.5 411v3.5M79.6 548v3.5M107.6 548v3.5M135.6 548v3.5M163.6 548v3.5M62 520.5h-3.5M62 488.7h-3.5M62 456.9h-3.5M226 548v3.5M252.4 548v3.5M278.8 548v3.5M305.1 548v3.5M199.8 520.5h-3.5M199.8 488.7h-3.5M199.8 456.9h-3.5M342.4 548v3.5M367.9 548v3.5M393.4 548v3.5M418.9 548v3.5M444.5 548v3.5M337.6 520.5h-3.5M337.6 488.7h-3.5M337.6 456.9h-3.5M506.6 548v3.5M543.6 548v3.5M580.6 548v3.5M79.6 685v3.5M107.6 685v3.5M135.6 685v3.5M163.6 685v3.5M62 667.1h-3.5M62 643.4h-3.5M62 619.6h-3.5M62 595.85h-3.5M226 685v3.5M252.4 685v3.5M278.8 685v3.5M305.1 685v3.5M199.8 667.1h-3.5M199.8 643.4h-3.5M199.8 619.6h-3.5M199.8 595.85h-3.5M342.4 685v3.5M367.9 685v3.5M393.4 685v3.5M418.9 685v3.5M444.5 685v3.5M337.6 667.1h-3.5M337.6 643.4h-3.5M337.6 619.6h-3.5M337.6 595.85h-3.5M506.6 685v3.5M543.6 685v3.5M580.6 685v3.5M475.5 667.1h-3.5M475.5 643.4h-3.5M475.5 619.6h-3.5M475.5 595.85h-3.5M634 685v3.5M661.2 685v3.5M688.4 685v3.5M715.6 685v3.5"/>
<g fill="#000">
<g transform="rotate(-45 77.13 706.13)"><text x="77.35 82.75 85.6" y="706.13" font-size="9.08" stroke="#000" stroke-width="0.12">0.4</text></g>
<g transform="rotate(-45 105.22 705.95)"><text x="105.44 110.84 113.67" y="705.95" font-size="9.08" stroke="#000" stroke-width="0.12">0.5</text></g>
<g transform="rotate(-45 133.15 706.08)"><text x="133.37 138.77 141.63" y="706.08" font-size="9.08" stroke="#000" stroke-width="0.12">0.6</text></g>
<g transform="rotate(-45 161.22 705.95)"><text x="161.44 166.84 169.69" y="705.95" font-size="9.08" stroke="#000" stroke-width="0.12">0.7</text></g>
<g transform="rotate(-45 221.73 709.83)"><text x="221.95 227.35 230.21 235.69" y="709.83" font-size="9.08" stroke="#000" stroke-width="0.12">4.65</text></g>
<g transform="rotate(-45 248.07 709.95)"><text x="248.29 253.69 256.55 262.05" y="709.95" font-size="9.08" stroke="#000" stroke-width="0.12">4.80</text></g>
<g transform="rotate(-45 274.53 709.83)"><text x="274.75 280.15 282.97 288.49" y="709.83" font-size="9.08" stroke="#000" stroke-width="0.12">4.95</text></g>
<g transform="rotate(-45 300.68 709.95)"><text x="300.88 306.3 309.12 314.65" y="709.95" font-size="9.08" stroke="#000" stroke-width="0.12">5.10</text></g>
<g transform="rotate(-45 338.98 708.01)"><text x="339.21 344.67 350.21" y="708.01" font-size="9.08" stroke="#000" stroke-width="0.12">810</text></g>
<g transform="rotate(-45 364.48 708.01)"><text x="364.71 370.2 375.71" y="708.01" font-size="9.08" stroke="#000" stroke-width="0.12">840</text></g>
<g transform="rotate(-45 389.98 708.01)"><text x="390.21 395.7 401.21" y="708.01" font-size="9.08" stroke="#000" stroke-width="0.12">870</text></g>
<g transform="rotate(-45 415.5 708.01)"><text x="415.68 421.22 426.72" y="708.01" font-size="9.08" stroke="#000" stroke-width="0.12">900</text></g>
<g transform="rotate(-45 441.1 708.01)"><text x="441.28 446.84 452.32" y="708.01" font-size="9.08" stroke="#000" stroke-width="0.12">930</text></g>
<g transform="rotate(-45 499.54 715.08)"><text x="507 512.4 515.28 520.76" y="715.08" font-size="9.08" stroke="#000" stroke-width="0.12">0.30</text><rect x="500.44" y="711.78" width="5.43" height="1.16"/></g>
<g transform="rotate(-45 536.6 714.95)"><text x="544.06 549.46 552.29 557.8" y="714.95" font-size="9.08" stroke="#000" stroke-width="0.12">0.15</text><rect x="537.51" y="711.66" width="5.43" height="1.16"/></g>
<g transform="rotate(-45 576.22 709.95)"><text x="576.43 581.84 584.69 590.19" y="709.95" font-size="9.08" stroke="#000" stroke-width="0.12">0.00</text></g>
<g transform="rotate(-45 627.67 713.85)"><text x="627.89 633.29 636.14 641.62 647.15" y="713.85" font-size="9.08" stroke="#000" stroke-width="0.12">0.050</text></g>
<g transform="rotate(-45 654.93 713.73)"><text x="655.15 660.55 663.4 668.88 674.39" y="713.73" font-size="9.08" stroke="#000" stroke-width="0.12">0.055</text></g>
<g transform="rotate(-45 682.07 713.85)"><text x="682.29 687.69 690.54 696.05 701.55" y="713.85" font-size="9.08" stroke="#000" stroke-width="0.12">0.060</text></g>
<g transform="rotate(-45 709.33 713.73)"><text x="709.55 714.95 717.8 723.31 728.79" y="713.73" font-size="9.08" stroke="#000" stroke-width="0.12">0.065</text></g>
<g transform="rotate(-45 40.42 267.28)"><text x="40.64 46.04 48.9 54.37" y="267.28" font-size="9.08" stroke="#000" stroke-width="0.12">4.65</text></g>
<g transform="rotate(-45 40.3 244.45)"><text x="40.51 45.91 48.78 54.27" y="244.45" font-size="9.08" stroke="#000" stroke-width="0.12">4.80</text></g>
<g transform="rotate(-45 40.42 221.53)"><text x="40.64 46.04 48.85 54.37" y="221.53" font-size="9.08" stroke="#000" stroke-width="0.12">4.95</text></g>
<g transform="rotate(-45 40.3 199.01)"><text x="40.49 45.91 48.74 54.27" y="199.01" font-size="9.08" stroke="#000" stroke-width="0.12">5.10</text></g>
<g transform="rotate(-45 42.24 420.36)"><text x="42.46 47.93 53.46" y="420.36" font-size="9.08" stroke="#000" stroke-width="0.12">810</text></g>
<g transform="rotate(-45 42.24 398.71)"><text x="42.46 47.96 53.46" y="398.71" font-size="9.08" stroke="#000" stroke-width="0.12">840</text></g>
<g transform="rotate(-45 42.24 376.71)"><text x="42.46 47.96 53.46" y="376.71" font-size="9.08" stroke="#000" stroke-width="0.12">870</text></g>
<g transform="rotate(-45 42.24 354.71)"><text x="42.42 47.96 53.46" y="354.71" font-size="9.08" stroke="#000" stroke-width="0.12">900</text></g>
<g transform="rotate(-45 42.24 332.51)"><text x="42.42 47.98 53.46" y="332.51" font-size="9.08" stroke="#000" stroke-width="0.12">930</text></g>
<g transform="rotate(-45 35.17 541.68)"><text x="42.64 48.04 50.91 56.39" y="541.68" font-size="9.08" stroke="#000" stroke-width="0.12">0.30</text><rect x="36.08" y="538.38" width="5.43" height="1.16"/></g>
<g transform="rotate(-45 35.3 509.75)"><text x="42.76 48.16 50.99 56.49" y="509.75" font-size="9.08" stroke="#000" stroke-width="0.12">0.15</text><rect x="36.2" y="506.46" width="5.43" height="1.16"/></g>
<g transform="rotate(-45 40.3 472.95)"><text x="40.51 45.91 48.76 54.27" y="472.95" font-size="9.08" stroke="#000" stroke-width="0.12">0.00</text></g>
<g transform="rotate(-45 36.4 687.05)"><text x="36.61 42.01 44.87 50.35 55.87" y="687.05" font-size="9.08" stroke="#000" stroke-width="0.12">0.050</text></g>
<g transform="rotate(-45 36.52 663.23)"><text x="36.73 42.14 44.99 50.47 55.97" y="663.23" font-size="9.08" stroke="#000" stroke-width="0.12">0.055</text></g>
<g transform="rotate(-45 36.4 639.55)"><text x="36.61 42.01 44.87 50.38 55.87" y="639.55" font-size="9.08" stroke="#000" stroke-width="0.12">0.060</text></g>
<g transform="rotate(-45 36.52 615.68)"><text x="36.73 42.14 44.99 50.5 55.97" y="615.68" font-size="9.08" stroke="#000" stroke-width="0.12">0.065</text></g>
</g>
<g fill="#000">
<text x="115.7 123.99" y="727.9" font-size="15.46" stroke="#000" stroke-width="0.07">co</text>
<text x="246.86 250.74 259.68 268.88" y="727.9" font-size="15.21" stroke="#000" stroke-width="0.07">logg</text>
<text x="388.48 393.47 402.32 407.18" y="727.9" font-size="14.5" stroke="#000" stroke-width="0.07">teff</text>
<text x="533.53" y="727.9" font-size="15.99" stroke="#000" stroke-width="0.07">z</text>
<text x="653.43 658.3 667.78 677.02 681.03 689.95" y="727.9" font-size="15.19" stroke="#000" stroke-width="0.07">radius</text>
<g transform="rotate(-90 21.7 235.89)"><text x="22.04 25.91 34.83 44" y="235.89" font-size="15.17" stroke="#000" stroke-width="0.07">logg</text></g>
<g transform="rotate(-90 21.7 369.84)"><text x="22.39 27.62 36.87 41.96" y="369.84" font-size="15.17" stroke="#000" stroke-width="0.07">teff</text></g>
<g transform="rotate(-90 21.7 498.04)"><text x="21.78" y="498.04" font-size="15.17" stroke="#000" stroke-width="0.07">z</text></g>
<g transform="rotate(-90 21.7 653.88)"><text x="22.43 27.3 36.77 46 50.01 58.92" y="653.88" font-size="15.17" stroke="#000" stroke-width="0.07">radius</text></g>
</g>
<g fill="#000">
<text x="74.13 82.13 111.93 120.8 125.49 134.48" y="23.9" font-size="14.92" stroke="#000" stroke-width="0.07">co0.49</text><rect x="96.64" y="17.21" width="8.92" height="1.62"/><rect x="96.64" y="20.05" width="8.92" height="1.62"/>
<text x="151.5 157.72 160.93 167.22" y="18.6" font-size="10.73" stroke="#000" stroke-width="0.1">0.04</text><rect x="144.1" y="14.87" width="6.2" height="1.27"/><rect x="146.79" y="12.17" width="0.82" height="6.65"/>
<text x="151.4 157.54 160.7 166.8" y="27.8" font-size="10.58" stroke="#000" stroke-width="0.1">0.02</text><rect x="144.1" y="24.11" width="6.12" height="1.25"/>
<text x="204.68 208.49 217.28 226.31 256.39 265.27 269.93 278.86" y="160.9" font-size="14.94" stroke="#000" stroke-width="0.07">logg4.52</text><rect x="241.09" y="154.2" width="8.93" height="1.62"/><rect x="241.09" y="157.05" width="8.93" height="1.62"/>
<text x="295.78 302.24 305.54 312.11" y="155.6" font-size="11.14" stroke="#000" stroke-width="0.1">0.10</text><rect x="288.1" y="151.73" width="6.44" height="1.3"/><rect x="290.9" y="148.93" width="0.85" height="6.89"/>
<text x="295.59 301.89 305.14 311.47" y="164.8" font-size="10.86" stroke="#000" stroke-width="0.1">0.01</text><rect x="288.1" y="161.02" width="6.28" height="1.28"/>
<text x="334.39 339.46 348.45 353.39 378.56 387.47 396.36 405.16 409.73 418.66" y="297.9" font-size="14.73" stroke="#000" stroke-width="0.07">teff845.91</text><rect x="363.45" y="291.29" width="8.8" height="1.61"/><rect x="363.45" y="294.1" width="8.8" height="1.61"/>
<text x="436.49 442.68 448.75 451.89 458.03" y="292.6" font-size="10.48" stroke="#000" stroke-width="0.1">18.70</text><rect x="429.3" y="288.95" width="6.06" height="1.25"/><rect x="431.93" y="286.31" width="0.8" height="6.51"/>
<text x="436.87 443.22 446.5 452.96" y="301.8" font-size="10.96" stroke="#000" stroke-width="0.1">6.03</text><rect x="429.3" y="297.99" width="6.34" height="1.28"/>
<text x="486.38 526.29 535.02 539.47 548.48" y="434.9" font-size="14.67" stroke="#000" stroke-width="0.07">z0.21</text><rect x="499.55" y="428.32" width="8.77" height="1.6"/><rect x="499.55" y="431.11" width="8.77" height="1.6"/><rect x="515.71" y="429.71" width="8.77" height="1.6"/>
<text x="565.28 571.65 574.94 581.36" y="429.6" font-size="10.99" stroke="#000" stroke-width="0.1">0.05</text><rect x="557.7" y="425.78" width="6.36" height="1.29"/><rect x="560.46" y="423.02" width="0.84" height="6.81"/>
<text x="565.26 571.62 574.9 581.36" y="438.8" font-size="10.96" stroke="#000" stroke-width="0.1">0.03</text><rect x="557.7" y="434.99" width="6.34" height="1.28"/>
<text x="612.04 616.8 626.05 635.07 638.98 647.69 676.12 684.94 689.59 698.59" y="571.9" font-size="14.82" stroke="#000" stroke-width="0.07">radius0.06</text><rect x="660.94" y="565.25" width="8.86" height="1.61"/><rect x="660.94" y="568.08" width="8.86" height="1.61"/>
<text x="715.7 722.01 725.27 731.64" y="566.6" font-size="10.88" stroke="#000" stroke-width="0.1">0.00</text><rect x="708.2" y="562.82" width="6.29" height="1.28"/><rect x="710.93" y="560.08" width="0.83" height="6.74"/>
<text x="715.7 722.01 725.27 731.64" y="575.8" font-size="10.88" stroke="#000" stroke-width="0.1">0.00</text><rect x="708.2" y="572.02" width="6.29" height="1.28"/>
</g>
</svg></body></html>
